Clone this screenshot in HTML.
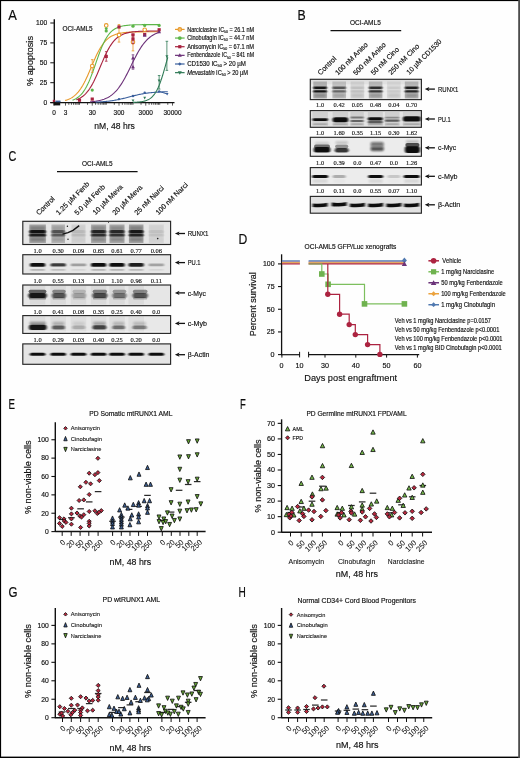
<!DOCTYPE html>
<html><head><meta charset="utf-8"><style>
html,body{margin:0;padding:0;background:#fefefe;}
svg{display:block;}
text{-webkit-font-smoothing:antialiased;}

</style></head><body>
<svg width="520" height="758" viewBox="0 0 520 758" style="opacity:0.999">
<rect x="0" y="0" width="520" height="758" fill="#fefefe"/>
<text x="8.2" y="19.6" font-size="13.8" font-family='"Liberation Sans", sans-serif' fill="#0c0c0c" stroke="#0c0c0c" stroke-width="0.16" textLength="8.6" lengthAdjust="spacingAndGlyphs">A</text>
<text x="297.4" y="19.5" font-size="13.8" font-family='"Liberation Sans", sans-serif' fill="#0c0c0c" stroke="#0c0c0c" stroke-width="0.16" textLength="8.2" lengthAdjust="spacingAndGlyphs">B</text>
<text x="8.6" y="160.5" font-size="13.8" font-family='"Liberation Sans", sans-serif' fill="#0c0c0c" stroke="#0c0c0c" stroke-width="0.16" textLength="7.8" lengthAdjust="spacingAndGlyphs">C</text>
<text x="238.6" y="243.5" font-size="13.8" font-family='"Liberation Sans", sans-serif' fill="#0c0c0c" stroke="#0c0c0c" stroke-width="0.16" textLength="8.8" lengthAdjust="spacingAndGlyphs">D</text>
<text x="8.6" y="409.0" font-size="13.8" font-family='"Liberation Sans", sans-serif' fill="#0c0c0c" stroke="#0c0c0c" stroke-width="0.16" textLength="6.5" lengthAdjust="spacingAndGlyphs">E</text>
<text x="240" y="408.8" font-size="13.8" font-family='"Liberation Sans", sans-serif' fill="#0c0c0c" stroke="#0c0c0c" stroke-width="0.16" textLength="5.8" lengthAdjust="spacingAndGlyphs">F</text>
<text x="8.6" y="597" font-size="13.8" font-family='"Liberation Sans", sans-serif' fill="#0c0c0c" stroke="#0c0c0c" stroke-width="0.16" textLength="9" lengthAdjust="spacingAndGlyphs">G</text>
<text x="238.6" y="596.7" font-size="13.8" font-family='"Liberation Sans", sans-serif' fill="#0c0c0c" stroke="#0c0c0c" stroke-width="0.16" textLength="7.3" lengthAdjust="spacingAndGlyphs">H</text>
<line x1="54.3" y1="19.3" x2="54.3" y2="103.3" stroke="#111" stroke-width="1.4"/>
<line x1="50.3" y1="102.6" x2="174.5" y2="102.6" stroke="#111" stroke-width="1.45"/>
<line x1="50.3" y1="102.6" x2="54" y2="102.6" stroke="#111" stroke-width="1"/>
<line x1="50.3" y1="82.69999999999999" x2="54" y2="82.69999999999999" stroke="#111" stroke-width="1"/>
<line x1="50.3" y1="62.79999999999999" x2="54" y2="62.79999999999999" stroke="#111" stroke-width="1"/>
<line x1="50.3" y1="42.89999999999999" x2="54" y2="42.89999999999999" stroke="#111" stroke-width="1"/>
<line x1="50.3" y1="22.999999999999986" x2="54" y2="22.999999999999986" stroke="#111" stroke-width="1"/>
<text x="47.2" y="25.399999999999984" font-size="6.9" font-family='"Liberation Sans", sans-serif' fill="#111" stroke="#111" stroke-width="0.16" text-anchor="end" textLength="11.200000000000003" lengthAdjust="spacingAndGlyphs">100</text>
<text x="47.2" y="45.29999999999999" font-size="6.9" font-family='"Liberation Sans", sans-serif' fill="#111" stroke="#111" stroke-width="0.16" text-anchor="end" textLength="7.5" lengthAdjust="spacingAndGlyphs">75</text>
<text x="47.2" y="65.19999999999999" font-size="6.9" font-family='"Liberation Sans", sans-serif' fill="#111" stroke="#111" stroke-width="0.16" text-anchor="end" textLength="7.5" lengthAdjust="spacingAndGlyphs">50</text>
<text x="47.2" y="85.1" font-size="6.9" font-family='"Liberation Sans", sans-serif' fill="#111" stroke="#111" stroke-width="0.16" text-anchor="end" textLength="7.5" lengthAdjust="spacingAndGlyphs">25</text>
<text x="47.2" y="105.0" font-size="6.9" font-family='"Liberation Sans", sans-serif' fill="#111" stroke="#111" stroke-width="0.16" text-anchor="end" textLength="3.700000000000003" lengthAdjust="spacingAndGlyphs">0</text>
<line x1="65.5" y1="102.6" x2="65.5" y2="105.6" stroke="#111" stroke-width="0.7"/>
<line x1="68.84211120427203" y1="102.6" x2="68.84211120427203" y2="104.8" stroke="#111" stroke-width="0.7"/>
<line x1="71.43445405223753" y1="102.6" x2="71.43445405223753" y2="104.8" stroke="#111" stroke-width="0.7"/>
<line x1="73.55255238401149" y1="102.6" x2="73.55255238401149" y2="104.8" stroke="#111" stroke-width="0.7"/>
<line x1="75.3433790066304" y1="102.6" x2="75.3433790066304" y2="104.8" stroke="#111" stroke-width="0.7"/>
<line x1="76.89466358828352" y1="102.6" x2="76.89466358828352" y2="104.8" stroke="#111" stroke-width="0.7"/>
<line x1="78.26299356375097" y1="102.6" x2="78.26299356375097" y2="104.8" stroke="#111" stroke-width="0.7"/>
<line x1="79.48700643624903" y1="102.6" x2="79.48700643624903" y2="104.8" stroke="#111" stroke-width="0.7"/>
<line x1="87.53955882026052" y1="102.6" x2="87.53955882026052" y2="104.8" stroke="#111" stroke-width="0.7"/>
<line x1="92.25" y1="102.6" x2="92.25" y2="105.6" stroke="#111" stroke-width="0.7"/>
<line x1="95.59211120427202" y1="102.6" x2="95.59211120427202" y2="104.8" stroke="#111" stroke-width="0.7"/>
<line x1="98.18445405223753" y1="102.6" x2="98.18445405223753" y2="104.8" stroke="#111" stroke-width="0.7"/>
<line x1="100.3025523840115" y1="102.6" x2="100.3025523840115" y2="104.8" stroke="#111" stroke-width="0.7"/>
<line x1="102.0933790066304" y1="102.6" x2="102.0933790066304" y2="104.8" stroke="#111" stroke-width="0.7"/>
<line x1="103.64466358828352" y1="102.6" x2="103.64466358828352" y2="104.8" stroke="#111" stroke-width="0.7"/>
<line x1="105.01299356375097" y1="102.6" x2="105.01299356375097" y2="104.8" stroke="#111" stroke-width="0.7"/>
<line x1="106.23700643624903" y1="102.6" x2="106.23700643624903" y2="104.8" stroke="#111" stroke-width="0.7"/>
<line x1="114.28955882026054" y1="102.6" x2="114.28955882026054" y2="104.8" stroke="#111" stroke-width="0.7"/>
<line x1="119.0" y1="102.6" x2="119.0" y2="105.6" stroke="#111" stroke-width="0.7"/>
<line x1="122.34211120427202" y1="102.6" x2="122.34211120427202" y2="104.8" stroke="#111" stroke-width="0.7"/>
<line x1="124.93445405223753" y1="102.6" x2="124.93445405223753" y2="104.8" stroke="#111" stroke-width="0.7"/>
<line x1="127.0525523840115" y1="102.6" x2="127.0525523840115" y2="104.8" stroke="#111" stroke-width="0.7"/>
<line x1="128.8433790066304" y1="102.6" x2="128.8433790066304" y2="104.8" stroke="#111" stroke-width="0.7"/>
<line x1="130.39466358828352" y1="102.6" x2="130.39466358828352" y2="104.8" stroke="#111" stroke-width="0.7"/>
<line x1="131.76299356375097" y1="102.6" x2="131.76299356375097" y2="104.8" stroke="#111" stroke-width="0.7"/>
<line x1="132.98700643624903" y1="102.6" x2="132.98700643624903" y2="104.8" stroke="#111" stroke-width="0.7"/>
<line x1="141.03955882026054" y1="102.6" x2="141.03955882026054" y2="104.8" stroke="#111" stroke-width="0.7"/>
<line x1="145.75" y1="102.6" x2="145.75" y2="105.6" stroke="#111" stroke-width="0.7"/>
<line x1="149.09211120427202" y1="102.6" x2="149.09211120427202" y2="104.8" stroke="#111" stroke-width="0.7"/>
<line x1="151.68445405223753" y1="102.6" x2="151.68445405223753" y2="104.8" stroke="#111" stroke-width="0.7"/>
<line x1="153.8025523840115" y1="102.6" x2="153.8025523840115" y2="104.8" stroke="#111" stroke-width="0.7"/>
<line x1="155.5933790066304" y1="102.6" x2="155.5933790066304" y2="104.8" stroke="#111" stroke-width="0.7"/>
<line x1="157.14466358828352" y1="102.6" x2="157.14466358828352" y2="104.8" stroke="#111" stroke-width="0.7"/>
<line x1="158.51299356375097" y1="102.6" x2="158.51299356375097" y2="104.8" stroke="#111" stroke-width="0.7"/>
<line x1="159.73700643624903" y1="102.6" x2="159.73700643624903" y2="104.8" stroke="#111" stroke-width="0.7"/>
<line x1="167.78955882026054" y1="102.6" x2="167.78955882026054" y2="104.8" stroke="#111" stroke-width="0.7"/>
<line x1="172.5" y1="102.6" x2="172.5" y2="105.6" stroke="#111" stroke-width="0.7"/>
<line x1="54" y1="102.6" x2="54" y2="105.6" stroke="#111" stroke-width="0.8"/>
<text x="54.0" y="115.4" font-size="7.0" font-family='"Liberation Sans", sans-serif' fill="#111" stroke="#111" stroke-width="0.16" text-anchor="middle" textLength="3.6" lengthAdjust="spacingAndGlyphs">0</text>
<text x="65.5" y="115.4" font-size="7.0" font-family='"Liberation Sans", sans-serif' fill="#111" stroke="#111" stroke-width="0.16" text-anchor="middle" textLength="3.6" lengthAdjust="spacingAndGlyphs">3</text>
<text x="92.25" y="115.4" font-size="7.0" font-family='"Liberation Sans", sans-serif' fill="#111" stroke="#111" stroke-width="0.16" text-anchor="middle" textLength="7.2" lengthAdjust="spacingAndGlyphs">30</text>
<text x="119.0" y="115.4" font-size="7.0" font-family='"Liberation Sans", sans-serif' fill="#111" stroke="#111" stroke-width="0.16" text-anchor="middle" textLength="10.8" lengthAdjust="spacingAndGlyphs">300</text>
<text x="145.75" y="115.4" font-size="7.0" font-family='"Liberation Sans", sans-serif' fill="#111" stroke="#111" stroke-width="0.16" text-anchor="middle" textLength="14.4" lengthAdjust="spacingAndGlyphs">3000</text>
<text x="172.5" y="115.4" font-size="7.0" font-family='"Liberation Sans", sans-serif' fill="#111" stroke="#111" stroke-width="0.16" text-anchor="middle" textLength="18" lengthAdjust="spacingAndGlyphs">30000</text>
<text x="114.6" y="129.2" font-size="9.2" font-family='"Liberation Sans", sans-serif' fill="#111" stroke="#111" stroke-width="0.16" text-anchor="middle" textLength="40.5" lengthAdjust="spacingAndGlyphs">nM, 48 hrs</text>
<text x="33.0" y="61.0" font-size="8.6" font-family='"Liberation Sans", sans-serif' fill="#111" stroke="#111" stroke-width="0.16" text-anchor="middle" textLength="50" lengthAdjust="spacingAndGlyphs" transform="rotate(-90 33.0 61.0)">% apoptosis</text>
<text x="62.4" y="30.8" font-size="6.6" font-family='"Liberation Sans", sans-serif' fill="#111" stroke="#111" stroke-width="0.16" textLength="30.3" lengthAdjust="spacingAndGlyphs">OCI-AML5</text>
<path d="M65.11 100.50 L66.29 100.15 L67.47 99.75 L68.65 99.28 L69.84 98.75 L71.02 98.13 L72.20 97.42 L73.39 96.61 L74.57 95.69 L75.75 94.64 L76.94 93.45 L78.12 92.12 L79.30 90.63 L80.48 88.98 L81.67 87.15 L82.85 85.16 L84.03 83.01 L85.22 80.69 L86.40 78.24 L87.58 75.65 L88.76 72.97 L89.95 70.22 L91.13 67.44 L92.31 64.65 L93.50 61.89 L94.68 59.19 L95.86 56.59 L97.04 54.11 L98.23 51.77 L99.41 49.58 L100.59 47.56 L101.78 45.71 L102.96 44.02 L104.14 42.50 L105.32 41.14 L106.51 39.93 L107.69 38.86 L108.87 37.91 L110.06 37.08 L111.24 36.35 L112.42 35.72 L113.60 35.17 L114.79 34.69 L115.97 34.28 L117.15 33.92 L118.34 33.61 L119.52 33.35 L120.70 33.12 L121.88 32.92 L123.07 32.76 L124.25 32.61 L125.43 32.49 L126.62 32.38 L127.80 32.29 L128.98 32.21 L130.16 32.15 L131.35 32.09 L132.53 32.04 L133.71 32.00 L134.90 31.96 L136.08 31.93 L137.26 31.91 L138.45 31.89 L139.63 31.87 L140.81 31.85 L141.99 31.84 L143.18 31.83 L144.36 31.82 L145.54 31.81 L146.73 31.80 L147.91 31.79 L149.09 31.79 L150.27 31.78 L151.46 31.78 L152.64 31.78 L153.82 31.77 L155.01 31.77 L156.19 31.77 L157.37 31.77 L158.55 31.76 L159.74 31.76" stroke="#e8992a" stroke-width="1.1" fill="none"/>
<path d="M72.54 100.14 L73.63 99.73 L74.72 99.25 L75.81 98.69 L76.90 98.04 L77.99 97.30 L79.08 96.44 L80.17 95.47 L81.26 94.35 L82.35 93.08 L83.44 91.65 L84.53 90.04 L85.62 88.24 L86.71 86.25 L87.80 84.07 L88.89 81.70 L89.98 79.14 L91.07 76.41 L92.16 73.53 L93.25 70.53 L94.34 67.45 L95.43 64.31 L96.52 61.17 L97.61 58.06 L98.70 55.01 L99.79 52.08 L100.88 49.28 L101.97 46.64 L103.06 44.18 L104.15 41.91 L105.24 39.83 L106.33 37.95 L107.42 36.26 L108.51 34.74 L109.60 33.40 L110.69 32.22 L111.78 31.18 L112.87 30.27 L113.96 29.47 L115.05 28.79 L116.14 28.19 L117.23 27.67 L118.32 27.23 L119.41 26.85 L120.50 26.52 L121.59 26.24 L122.68 26.00 L123.77 25.79 L124.86 25.62 L125.95 25.46 L127.04 25.34 L128.13 25.23 L129.22 25.13 L130.31 25.05 L131.40 24.98 L132.49 24.93 L133.58 24.88 L134.67 24.83 L135.76 24.80 L136.85 24.77 L137.94 24.74 L139.03 24.72 L140.12 24.70 L141.21 24.68 L142.30 24.67 L143.39 24.66 L144.48 24.65 L145.57 24.64 L146.66 24.63 L147.75 24.63 L148.84 24.62 L149.93 24.62 L151.02 24.61 L152.11 24.61 L153.20 24.61 L154.29 24.61 L155.38 24.60 L156.47 24.60 L157.56 24.60 L158.65 24.60 L159.74 24.60" stroke="#5cb548" stroke-width="1.1" fill="none"/>
<path d="M76.14 99.86 L77.19 99.46 L78.23 99.02 L79.28 98.51 L80.32 97.94 L81.37 97.30 L82.41 96.57 L83.46 95.75 L84.50 94.84 L85.55 93.82 L86.59 92.69 L87.64 91.44 L88.68 90.06 L89.73 88.55 L90.77 86.91 L91.82 85.13 L92.86 83.23 L93.91 81.20 L94.95 79.05 L96.00 76.79 L97.04 74.45 L98.09 72.03 L99.13 69.57 L100.18 67.08 L101.22 64.58 L102.27 62.11 L103.31 59.68 L104.36 57.32 L105.40 55.04 L106.45 52.87 L107.49 50.81 L108.54 48.87 L109.58 47.06 L110.63 45.39 L111.67 43.85 L112.72 42.44 L113.76 41.16 L114.81 40.00 L115.85 38.95 L116.90 38.02 L117.94 37.18 L118.99 36.43 L120.03 35.77 L121.08 35.18 L122.12 34.66 L123.17 34.20 L124.21 33.79 L125.26 33.44 L126.30 33.12 L127.35 32.85 L128.39 32.61 L129.43 32.40 L130.48 32.22 L131.52 32.05 L132.57 31.91 L133.61 31.79 L134.66 31.68 L135.70 31.59 L136.75 31.51 L137.79 31.44 L138.84 31.38 L139.88 31.32 L140.93 31.28 L141.97 31.23 L143.02 31.20 L144.06 31.17 L145.11 31.14 L146.15 31.12 L147.20 31.10 L148.24 31.08 L149.29 31.06 L150.33 31.05 L151.38 31.04 L152.42 31.03 L153.47 31.02 L154.51 31.01 L155.56 31.00 L156.60 31.00 L157.65 30.99 L158.69 30.99 L159.74 30.99" stroke="#a8233f" stroke-width="1.1" fill="none"/>
<path d="M90.13 101.85 L91.00 101.77 L91.87 101.69 L92.74 101.60 L93.61 101.50 L94.48 101.39 L95.35 101.26 L96.22 101.13 L97.09 100.98 L97.96 100.82 L98.83 100.65 L99.70 100.45 L100.57 100.24 L101.44 100.01 L102.31 99.75 L103.18 99.47 L104.05 99.17 L104.92 98.84 L105.79 98.47 L106.66 98.08 L107.53 97.65 L108.40 97.18 L109.27 96.67 L110.14 96.11 L111.01 95.51 L111.88 94.87 L112.75 94.17 L113.62 93.41 L114.49 92.60 L115.36 91.73 L116.23 90.80 L117.10 89.80 L117.97 88.74 L118.84 87.61 L119.71 86.42 L120.58 85.16 L121.45 83.83 L122.32 82.44 L123.19 80.99 L124.06 79.48 L124.93 77.91 L125.80 76.29 L126.67 74.63 L127.54 72.93 L128.41 71.19 L129.28 69.44 L130.15 67.66 L131.02 65.88 L131.89 64.10 L132.77 62.33 L133.64 60.57 L134.51 58.84 L135.38 57.15 L136.25 55.49 L137.12 53.88 L137.99 52.32 L138.86 50.81 L139.73 49.36 L140.60 47.98 L141.47 46.66 L142.34 45.41 L143.21 44.22 L144.08 43.10 L144.95 42.05 L145.82 41.06 L146.69 40.14 L147.56 39.27 L148.43 38.47 L149.30 37.72 L150.17 37.03 L151.04 36.38 L151.91 35.79 L152.78 35.24 L153.65 34.74 L154.52 34.27 L155.39 33.84 L156.26 33.45 L157.13 33.09 L158.00 32.76 L158.87 32.46 L159.74 32.19" stroke="#6c3179" stroke-width="1.1" fill="none"/>
<path d="M95.59 102.14 L96.49 102.10 L97.40 102.06 L98.30 102.01 L99.20 101.97 L100.10 101.91 L101.01 101.85 L101.91 101.79 L102.81 101.73 L103.71 101.66 L104.62 101.58 L105.52 101.50 L106.42 101.41 L107.32 101.31 L108.23 101.21 L109.13 101.11 L110.03 100.99 L110.93 100.87 L111.84 100.74 L112.74 100.61 L113.64 100.46 L114.54 100.31 L115.45 100.15 L116.35 99.99 L117.25 99.81 L118.15 99.63 L119.06 99.44 L119.96 99.24 L120.86 99.04 L121.76 98.83 L122.67 98.61 L123.57 98.39 L124.47 98.17 L125.37 97.94 L126.28 97.70 L127.18 97.47 L128.08 97.23 L128.98 96.99 L129.89 96.75 L130.79 96.52 L131.69 96.28 L132.59 96.05 L133.50 95.82 L134.40 95.60 L135.30 95.38 L136.20 95.16 L137.11 94.95 L138.01 94.75 L138.91 94.56 L139.81 94.37 L140.72 94.19 L141.62 94.02 L142.52 93.85 L143.42 93.70 L144.33 93.55 L145.23 93.40 L146.13 93.27 L147.03 93.15 L147.94 93.03 L148.84 92.91 L149.74 92.81 L150.64 92.71 L151.55 92.62 L152.45 92.53 L153.35 92.45 L154.25 92.38 L155.16 92.31 L156.06 92.24 L156.96 92.18 L157.86 92.13 L158.76 92.08 L159.67 92.03 L160.57 91.98 L161.47 91.94 L162.37 91.90 L163.28 91.87 L164.18 91.84 L165.08 91.81 L165.98 91.78 L166.89 91.75 L167.79 91.73" stroke="#3a5f9c" stroke-width="1.1" fill="none"/>
<path d="M132.99 102.41 L133.42 102.39 L133.86 102.37 L134.29 102.35 L134.73 102.33 L135.16 102.31 L135.60 102.29 L136.03 102.26 L136.47 102.24 L136.90 102.21 L137.34 102.17 L137.77 102.14 L138.21 102.10 L138.64 102.06 L139.08 102.02 L139.51 101.97 L139.95 101.92 L140.38 101.86 L140.82 101.80 L141.25 101.74 L141.69 101.67 L142.12 101.59 L142.56 101.51 L142.99 101.43 L143.43 101.33 L143.86 101.23 L144.30 101.12 L144.73 101.00 L145.17 100.87 L145.60 100.74 L146.04 100.59 L146.47 100.43 L146.91 100.25 L147.34 100.07 L147.78 99.87 L148.21 99.65 L148.65 99.42 L149.08 99.17 L149.52 98.90 L149.95 98.62 L150.39 98.31 L150.82 97.98 L151.26 97.62 L151.69 97.24 L152.13 96.84 L152.56 96.40 L153.00 95.94 L153.43 95.44 L153.87 94.91 L154.30 94.35 L154.74 93.75 L155.17 93.11 L155.61 92.44 L156.04 91.72 L156.48 90.96 L156.91 90.15 L157.35 89.31 L157.78 88.41 L158.22 87.47 L158.65 86.48 L159.09 85.45 L159.52 84.37 L159.96 83.24 L160.39 82.06 L160.83 80.84 L161.26 79.58 L161.70 78.27 L162.13 76.92 L162.57 75.54 L163.00 74.11 L163.44 72.66 L163.87 71.18 L164.31 69.67 L164.74 68.14 L165.18 66.60 L165.61 65.04 L166.05 63.48 L166.48 61.91 L166.92 60.35 L167.35 58.80 L167.79 57.26" stroke="#2f7a56" stroke-width="1.1" fill="none"/>
<line x1="92.25" y1="72.35199999999999" x2="92.25" y2="59.61599999999999" stroke="#e8992a" stroke-width="0.8"/>
<line x1="90.95" y1="72.35199999999999" x2="93.55" y2="72.35199999999999" stroke="#e8992a" stroke-width="0.8"/>
<line x1="90.95" y1="59.61599999999999" x2="93.55" y2="59.61599999999999" stroke="#e8992a" stroke-width="0.8"/>
<circle cx="92.25" cy="65.984" r="1.8" fill="#fff" stroke="#e8992a" stroke-width="1.1"/>
<circle cx="106.23700643624903" cy="25.38799999999999" r="1.8" fill="#fff" stroke="#e8992a" stroke-width="1.1"/>
<line x1="119.0" y1="42.10399999999999" x2="119.0" y2="24.591999999999985" stroke="#e8992a" stroke-width="0.8"/>
<line x1="117.7" y1="42.10399999999999" x2="120.3" y2="42.10399999999999" stroke="#e8992a" stroke-width="0.8"/>
<line x1="117.7" y1="24.591999999999985" x2="120.3" y2="24.591999999999985" stroke="#e8992a" stroke-width="0.8"/>
<circle cx="119.0" cy="34.94" r="1.8" fill="#fff" stroke="#e8992a" stroke-width="1.1"/>
<line x1="132.98700643624903" y1="50.85999999999999" x2="132.98700643624903" y2="34.94" stroke="#e8992a" stroke-width="0.8"/>
<line x1="131.68700643624902" y1="50.85999999999999" x2="134.28700643624904" y2="50.85999999999999" stroke="#e8992a" stroke-width="0.8"/>
<line x1="131.68700643624902" y1="34.94" x2="134.28700643624904" y2="34.94" stroke="#e8992a" stroke-width="0.8"/>
<circle cx="132.98700643624903" cy="42.10399999999999" r="1.8" fill="#fff" stroke="#e8992a" stroke-width="1.1"/>
<circle cx="144.6968339916944" cy="29.76599999999999" r="1.8" fill="#fff" stroke="#e8992a" stroke-width="1.1"/>
<circle cx="92.25" cy="90.1028" r="1.6" fill="#5cb548"/>
<circle cx="106.23700643624903" cy="30.959999999999994" r="1.6" fill="#5cb548"/>
<circle cx="106.23700643624903" cy="28.57199999999999" r="1.4" fill="#5cb548"/>
<circle cx="132.98700643624903" cy="26.183999999999997" r="1.6" fill="#5cb548"/>
<circle cx="144.6968339916944" cy="25.38799999999999" r="1.6" fill="#5cb548"/>
<circle cx="159.14111287772573" cy="25.38799999999999" r="1.6" fill="#5cb548"/>
<rect x="77.88700643624904" y="98.612" width="3.2" height="3.2" fill="#a8233f"/>
<rect x="90.65" y="97.4976" width="3.2" height="3.2" fill="#a8233f"/>
<line x1="106.23700643624903" y1="61.20799999999999" x2="106.23700643624903" y2="51.65599999999999" stroke="#a8233f" stroke-width="0.8"/>
<line x1="104.93700643624904" y1="61.20799999999999" x2="107.53700643624903" y2="61.20799999999999" stroke="#a8233f" stroke-width="0.8"/>
<line x1="104.93700643624904" y1="51.65599999999999" x2="107.53700643624903" y2="51.65599999999999" stroke="#a8233f" stroke-width="0.8"/>
<rect x="104.63700643624904" y="54.831999999999994" width="3.2" height="3.2" fill="#a8233f"/>
<rect x="117.4" y="25.37999999999999" width="3.2" height="3.2" fill="#a8233f"/>
<line x1="132.98700643624903" y1="43.69599999999999" x2="132.98700643624903" y2="34.14399999999999" stroke="#a8233f" stroke-width="0.8"/>
<line x1="131.68700643624902" y1="43.69599999999999" x2="134.28700643624904" y2="43.69599999999999" stroke="#a8233f" stroke-width="0.8"/>
<line x1="131.68700643624902" y1="34.14399999999999" x2="134.28700643624904" y2="34.14399999999999" stroke="#a8233f" stroke-width="0.8"/>
<rect x="131.38700643624904" y="37.319999999999986" width="3.2" height="3.2" fill="#a8233f"/>
<rect x="131.38700643624904" y="33.339999999999996" width="3.2" height="3.2" fill="#a8233f"/>
<rect x="143.0968339916944" y="32.8624" width="3.2" height="3.2" fill="#a8233f"/>
<rect x="157.54111287772574" y="28.16599999999999" width="3.2" height="3.2" fill="#a8233f"/>
<rect x="52.8" y="99.80799999999999" width="2.4" height="2.4" fill="#a8233f"/>
<line x1="132.98700643624903" y1="69.16799999999999" x2="132.98700643624903" y2="54.83999999999999" stroke="#6c3179" stroke-width="0.8"/>
<line x1="131.68700643624902" y1="69.16799999999999" x2="134.28700643624904" y2="69.16799999999999" stroke="#6c3179" stroke-width="0.8"/>
<line x1="131.68700643624902" y1="54.83999999999999" x2="134.28700643624904" y2="54.83999999999999" stroke="#6c3179" stroke-width="0.8"/>
<path d="M132.98700643624903 56.123999999999995L134.88700643624904 59.544L131.08700643624903 59.544Z" stroke="none" stroke-width="0" fill="#6c3179"/>
<path d="M132.98700643624903 64.88L134.88700643624904 68.3L131.08700643624903 68.3Z" stroke="none" stroke-width="0" fill="#6c3179"/>
<path d="M144.6968339916944 33.2788L146.5968339916944 36.6988L142.7968339916944 36.6988Z" stroke="none" stroke-width="0" fill="#6c3179"/>
<path d="M159.14111287772573 29.855999999999987L161.04111287772574 33.27599999999999L157.24111287772573 33.27599999999999Z" stroke="none" stroke-width="0" fill="#6c3179"/>
<circle cx="119.0" cy="99.0976" r="1.2" fill="#3a5f9c"/>
<circle cx="132.98700643624903" cy="95.99319999999999" r="1.2" fill="#3a5f9c"/>
<circle cx="144.6968339916944" cy="92.64999999999999" r="1.2" fill="#3a5f9c"/>
<circle cx="159.14111287772573" cy="91.37639999999999" r="1.2" fill="#3a5f9c"/>
<path d="M167.1936652617372 95.4032L168.59366526173721 92.88319999999999L165.7936652617372 92.88319999999999Z" stroke="none" stroke-width="0" fill="#3a5f9c"/>
<line x1="159.14111287772573" y1="91.37639999999999" x2="167.1936652617372" y2="94.00319999999999" stroke="#3a5f9c" stroke-width="1.0"/>
<path d="M132.98700643624903 101.9304L134.38700643624904 99.4104L131.58700643624903 99.4104Z" stroke="none" stroke-width="0" fill="#2f7a56"/>
<path d="M144.6968339916944 99.3832L146.0968339916944 96.86319999999999L143.2968339916944 96.86319999999999Z" stroke="none" stroke-width="0" fill="#2f7a56"/>
<line x1="159.14111287772573" y1="89.068" x2="159.14111287772573" y2="75.536" stroke="#2f7a56" stroke-width="0.8"/>
<line x1="157.84111287772572" y1="89.068" x2="160.44111287772574" y2="89.068" stroke="#2f7a56" stroke-width="0.8"/>
<line x1="157.84111287772572" y1="75.536" x2="160.44111287772574" y2="75.536" stroke="#2f7a56" stroke-width="0.8"/>
<path d="M159.14111287772573 82.21L160.64111287772573 79.50999999999999L157.64111287772573 79.50999999999999Z" stroke="none" stroke-width="0" fill="#2f7a56"/>
<line x1="166.88385017102965" y1="70.362" x2="166.88385017102965" y2="41.30799999999999" stroke="#2f7a56" stroke-width="0.8"/>
<line x1="165.58385017102964" y1="70.362" x2="168.18385017102966" y2="70.362" stroke="#2f7a56" stroke-width="0.8"/>
<line x1="165.58385017102964" y1="41.30799999999999" x2="168.18385017102966" y2="41.30799999999999" stroke="#2f7a56" stroke-width="0.8"/>
<path d="M166.88385017102965 58.011599999999994L168.38385017102965 55.31159999999999L165.38385017102965 55.31159999999999Z" stroke="none" stroke-width="0" fill="#2f7a56"/>
<rect x="53.6" y="101.8" width="6.6" height="3.6" fill="#111"/>
<rect x="55.5" y="100.6" width="5" height="1.6" fill="#3a5f9c"/>
<line x1="175" y1="29.4" x2="184.6" y2="29.4" stroke="#e8992a" stroke-width="1.2"/>
<circle cx="179.8" cy="29.4" r="1.8" fill="#f3c27a" stroke="#e8992a" stroke-width="1.1"/>
<text x="187.2" y="31.5" font-size="6.4" font-family='"Liberation Sans", sans-serif' fill="#111" stroke="#111" stroke-width="0.16" textLength="66.80000000000001" lengthAdjust="spacingAndGlyphs"><tspan>Narciclasine</tspan> IC<tspan font-size="4" dy="1.2">50</tspan><tspan dy="-1.2"> = 26.1 nM</tspan></text>
<line x1="175" y1="38.05" x2="184.6" y2="38.05" stroke="#5cb548" stroke-width="1.2"/>
<circle cx="179.8" cy="38.05" r="1.9" fill="#5cb548"/>
<text x="187.2" y="40.15" font-size="6.4" font-family='"Liberation Sans", sans-serif' fill="#111" stroke="#111" stroke-width="0.16" textLength="66.80000000000001" lengthAdjust="spacingAndGlyphs"><tspan>Cinobufagin</tspan> IC<tspan font-size="4" dy="1.2">50</tspan><tspan dy="-1.2"> = 44.7 nM</tspan></text>
<line x1="175" y1="46.7" x2="184.6" y2="46.7" stroke="#a8233f" stroke-width="1.2"/>
<rect x="178.2" y="45.1" width="3.2" height="3.2" fill="#a8233f"/>
<text x="187.2" y="48.800000000000004" font-size="6.4" font-family='"Liberation Sans", sans-serif' fill="#111" stroke="#111" stroke-width="0.16" textLength="66.80000000000001" lengthAdjust="spacingAndGlyphs"><tspan>Anisomycin</tspan> IC<tspan font-size="4" dy="1.2">50</tspan><tspan dy="-1.2"> = 67.1 nM</tspan></text>
<line x1="175" y1="55.35" x2="184.6" y2="55.35" stroke="#6c3179" stroke-width="1.2"/>
<path d="M179.8 53.35L181.8 56.85L177.8 56.85Z" stroke="none" stroke-width="0" fill="#6c3179"/>
<text x="187.2" y="57.45" font-size="6.4" font-family='"Liberation Sans", sans-serif' fill="#111" stroke="#111" stroke-width="0.16" textLength="66.80000000000001" lengthAdjust="spacingAndGlyphs"><tspan>Fenbendazole</tspan> IC<tspan font-size="4" dy="1.2">50</tspan><tspan dy="-1.2"> = 841 nM</tspan></text>
<line x1="175" y1="64.0" x2="184.6" y2="64.0" stroke="#3a5f9c" stroke-width="1.2"/>
<path d="M179.8 62.3L181.5 64.0L179.8 65.7L178.1 64.0Z" stroke="none" stroke-width="0" fill="#3a5f9c"/>
<text x="187.2" y="66.1" font-size="6.4" font-family='"Liberation Sans", sans-serif' fill="#111" stroke="#111" stroke-width="0.16" textLength="58.80000000000001" lengthAdjust="spacingAndGlyphs"><tspan>CD1530</tspan> IC<tspan font-size="4" dy="1.2">50</tspan><tspan dy="-1.2"> > 20 µM</tspan></text>
<line x1="175" y1="72.65" x2="184.6" y2="72.65" stroke="#2f7a56" stroke-width="1.2"/>
<path d="M179.8 74.65L181.8 71.15L177.8 71.15Z" stroke="none" stroke-width="0" fill="#2f7a56"/>
<text x="187.2" y="74.75" font-size="6.4" font-family='"Liberation Sans", sans-serif' fill="#111" stroke="#111" stroke-width="0.16" textLength="60.80000000000001" lengthAdjust="spacingAndGlyphs"><tspan font-style="italic">Mevastatin</tspan> IC<tspan font-size="4" dy="1.2">50</tspan><tspan dy="-1.2"> > 20 µM</tspan></text>
<defs><filter id="bl" x="-20%" y="-80%" width="140%" height="260%"><feGaussianBlur stdDeviation="0.6"/></filter><filter id="bl2" x="-20%" y="-80%" width="140%" height="260%"><feGaussianBlur stdDeviation="1.1"/></filter><filter id="bl3" x="-30%" y="-80%" width="160%" height="260%"><feGaussianBlur stdDeviation="0.9 0.5"/></filter></defs>
<text x="350.0" y="25.0" font-size="7.3" font-family='"Liberation Sans", sans-serif' fill="#111" stroke="#111" stroke-width="0.16" textLength="30.8" lengthAdjust="spacingAndGlyphs">OCI-AML5</text>
<line x1="330.5" y1="30.6" x2="401.2" y2="30.6" stroke="#111" stroke-width="1.1"/>
<text x="320.6" y="75.4" font-size="7.1" font-family='"Liberation Sans", sans-serif' fill="#111" stroke="#111" stroke-width="0.16" transform="rotate(-45 320.6 75.4)">Control</text>
<text x="338.0" y="75.5" font-size="7.1" font-family='"Liberation Sans", sans-serif' fill="#111" stroke="#111" stroke-width="0.16" transform="rotate(-45 338.0 75.5)">100 nM Aniso</text>
<text x="356.0" y="75.7" font-size="7.1" font-family='"Liberation Sans", sans-serif' fill="#111" stroke="#111" stroke-width="0.16" transform="rotate(-45 356.0 75.7)">500 nM Aniso</text>
<text x="373.8" y="75.5" font-size="7.1" font-family='"Liberation Sans", sans-serif' fill="#111" stroke="#111" stroke-width="0.16" transform="rotate(-45 373.8 75.5)">50 nM Cino</text>
<text x="391.3" y="75.2" font-size="7.1" font-family='"Liberation Sans", sans-serif' fill="#111" stroke="#111" stroke-width="0.16" transform="rotate(-45 391.3 75.2)">250 nM Cino</text>
<text x="409.2" y="74.9" font-size="7.1" font-family='"Liberation Sans", sans-serif' fill="#111" stroke="#111" stroke-width="0.16" textLength="46.5" lengthAdjust="spacingAndGlyphs" transform="rotate(-45 409.2 74.9)">10 µM CD1530</text>
<rect x="310.3" y="79.3" width="111.09999999999997" height="20.299999999999997" fill="#ececec"/>
<rect x="310.3" y="79.3" width="111.09999999999997" height="5" fill="#d8d8d8" opacity="0.6"/>
<rect x="313.30" y="81.50" width="13.60" height="16.90" fill="#8a8a8a" opacity="0.600" filter="url(#bl)"/>
<rect x="313.30" y="86.45" width="13.60" height="2.50" rx="1.25" fill="#0e0e0e" opacity="0.950" filter="url(#bl3)"/>
<rect x="313.30" y="90.20" width="13.60" height="2.40" rx="1.20" fill="#0e0e0e" opacity="0.950" filter="url(#bl3)"/>
<rect x="313.85" y="93.75" width="12.50" height="3.50" rx="1.75" fill="#0e0e0e" opacity="0.242" filter="url(#bl2)"/>
<rect x="332.40" y="81.50" width="13.60" height="16.90" fill="#8a8a8a" opacity="0.420" filter="url(#bl)"/>
<rect x="332.40" y="86.45" width="13.60" height="2.50" rx="1.25" fill="#0e0e0e" opacity="0.600" filter="url(#bl3)"/>
<rect x="332.40" y="90.20" width="13.60" height="2.40" rx="1.20" fill="#0e0e0e" opacity="0.500" filter="url(#bl3)"/>
<rect x="332.95" y="93.75" width="12.50" height="3.50" rx="1.75" fill="#0e0e0e" opacity="0.190" filter="url(#bl2)"/>
<rect x="350.60" y="81.50" width="13.60" height="16.90" fill="#8a8a8a" opacity="0.220" filter="url(#bl)"/>
<rect x="350.60" y="86.45" width="13.60" height="2.50" rx="1.25" fill="#0e0e0e" opacity="0.100" filter="url(#bl3)"/>
<rect x="350.60" y="90.20" width="13.60" height="2.40" rx="1.20" fill="#0e0e0e" opacity="0.100" filter="url(#bl3)"/>
<rect x="351.15" y="93.75" width="12.50" height="3.50" rx="1.75" fill="#0e0e0e" opacity="0.115" filter="url(#bl2)"/>
<rect x="368.80" y="81.50" width="13.60" height="16.90" fill="#8a8a8a" opacity="0.500" filter="url(#bl)"/>
<rect x="368.80" y="86.45" width="13.60" height="2.50" rx="1.25" fill="#0e0e0e" opacity="0.800" filter="url(#bl3)"/>
<rect x="368.80" y="90.20" width="13.60" height="2.40" rx="1.20" fill="#0e0e0e" opacity="0.750" filter="url(#bl3)"/>
<rect x="369.35" y="93.75" width="12.50" height="3.50" rx="1.75" fill="#0e0e0e" opacity="0.220" filter="url(#bl2)"/>
<rect x="387.10" y="81.50" width="13.60" height="16.90" fill="#8a8a8a" opacity="0.180" filter="url(#bl)"/>
<rect x="387.10" y="86.45" width="13.60" height="2.50" rx="1.25" fill="#0e0e0e" opacity="0.070" filter="url(#bl3)"/>
<rect x="387.10" y="90.20" width="13.60" height="2.40" rx="1.20" fill="#0e0e0e" opacity="0.070" filter="url(#bl3)"/>
<rect x="387.65" y="93.75" width="12.50" height="3.50" rx="1.75" fill="#0e0e0e" opacity="0.111" filter="url(#bl2)"/>
<rect x="404.80" y="81.50" width="13.60" height="16.90" fill="#8a8a8a" opacity="0.550" filter="url(#bl)"/>
<rect x="404.80" y="86.45" width="13.60" height="2.50" rx="1.25" fill="#0e0e0e" opacity="0.900" filter="url(#bl3)"/>
<rect x="404.80" y="90.20" width="13.60" height="2.40" rx="1.20" fill="#0e0e0e" opacity="0.850" filter="url(#bl3)"/>
<rect x="405.35" y="93.75" width="12.50" height="3.50" rx="1.75" fill="#0e0e0e" opacity="0.235" filter="url(#bl2)"/>
<text x="320.1" y="107.39999999999999" font-size="6.9" font-family='"Liberation Serif", serif' fill="#1a1a1a" stroke="#1a1a1a" stroke-width="0.16" text-anchor="middle" textLength="8.1" lengthAdjust="spacingAndGlyphs">1.0</text>
<text x="339.2" y="107.39999999999999" font-size="6.9" font-family='"Liberation Serif", serif' fill="#1a1a1a" stroke="#1a1a1a" stroke-width="0.16" text-anchor="middle" textLength="11.35" lengthAdjust="spacingAndGlyphs">0.42</text>
<text x="357.4" y="107.39999999999999" font-size="6.9" font-family='"Liberation Serif", serif' fill="#1a1a1a" stroke="#1a1a1a" stroke-width="0.16" text-anchor="middle" textLength="11.35" lengthAdjust="spacingAndGlyphs">0.05</text>
<text x="375.6" y="107.39999999999999" font-size="6.9" font-family='"Liberation Serif", serif' fill="#1a1a1a" stroke="#1a1a1a" stroke-width="0.16" text-anchor="middle" textLength="11.35" lengthAdjust="spacingAndGlyphs">0.48</text>
<text x="393.9" y="107.39999999999999" font-size="6.9" font-family='"Liberation Serif", serif' fill="#1a1a1a" stroke="#1a1a1a" stroke-width="0.16" text-anchor="middle" textLength="11.35" lengthAdjust="spacingAndGlyphs">0.04</text>
<text x="411.6" y="107.39999999999999" font-size="6.9" font-family='"Liberation Serif", serif' fill="#1a1a1a" stroke="#1a1a1a" stroke-width="0.16" text-anchor="middle" textLength="11.35" lengthAdjust="spacingAndGlyphs">0.70</text>
<path d="M424.8 89.1L429.40000000000003 87.0L428.40000000000003 89.1L429.40000000000003 91.19999999999999Z" stroke="none" stroke-width="0" fill="#111"/>
<line x1="428.3" y1="89.1" x2="434.90000000000003" y2="89.1" stroke="#111" stroke-width="1.3"/>
<text x="438" y="91.69999999999999" font-size="7.4" font-family='"Liberation Sans", sans-serif' fill="#111" stroke="#111" stroke-width="0.16" textLength="20.30000000000001" lengthAdjust="spacingAndGlyphs">RUNX1</text>
<rect x="310.3" y="79.3" width="111.09999999999997" height="20.299999999999997" fill="none" stroke="#262626" stroke-width="1.15"/>
<rect x="310.3" y="110.6" width="111.09999999999997" height="16.700000000000003" fill="#e2e2e2"/>
<rect x="312.45" y="112.00" width="15.50" height="14.00" fill="#bdbdbd" opacity="0.500" filter="url(#bl)"/>
<rect x="332.60" y="112.00" width="15.60" height="14.00" fill="#bdbdbd" opacity="0.500" filter="url(#bl)"/>
<rect x="350.40" y="112.00" width="13.40" height="14.00" fill="#bdbdbd" opacity="0.500" filter="url(#bl)"/>
<rect x="367.80" y="112.00" width="15.00" height="14.00" fill="#bdbdbd" opacity="0.500" filter="url(#bl)"/>
<rect x="384.95" y="112.00" width="14.50" height="14.00" fill="#bdbdbd" opacity="0.500" filter="url(#bl)"/>
<rect x="402.90" y="112.00" width="17.80" height="14.00" fill="#bdbdbd" opacity="0.500" filter="url(#bl)"/>
<rect x="312.45" y="118.30" width="15.50" height="2.60" rx="1.30" fill="#0e0e0e" opacity="1.000" filter="url(#bl3)"/>
<rect x="332.60" y="117.20" width="15.60" height="5.00" rx="2.50" fill="#0e0e0e" opacity="1.000" filter="url(#bl3)"/>
<rect x="350.40" y="116.40" width="13.40" height="2.00" rx="1.00" fill="#0e0e0e" opacity="0.450" filter="url(#bl3)"/>
<rect x="350.40" y="119.90" width="13.40" height="2.20" rx="1.10" fill="#0e0e0e" opacity="0.550" filter="url(#bl3)"/>
<rect x="367.80" y="117.20" width="15.00" height="3.20" rx="1.60" fill="#0e0e0e" opacity="1.000" filter="url(#bl3)"/>
<rect x="367.80" y="121.10" width="15.00" height="2.20" rx="1.10" fill="#0e0e0e" opacity="0.600" filter="url(#bl3)"/>
<rect x="384.95" y="116.70" width="14.50" height="1.80" rx="0.90" fill="#0e0e0e" opacity="0.350" filter="url(#bl3)"/>
<rect x="384.95" y="119.40" width="14.50" height="2.40" rx="1.20" fill="#0e0e0e" opacity="0.600" filter="url(#bl3)"/>
<rect x="402.90" y="116.20" width="17.80" height="5.20" rx="2.50" fill="#0e0e0e" opacity="1.000" filter="url(#bl3)"/>
<rect x="312.95" y="123.30" width="14.50" height="1.80" rx="0.90" fill="#0e0e0e" opacity="0.180" filter="url(#bl3)"/>
<rect x="333.10" y="123.30" width="14.60" height="1.80" rx="0.90" fill="#0e0e0e" opacity="0.180" filter="url(#bl3)"/>
<rect x="350.90" y="123.30" width="12.40" height="1.80" rx="0.90" fill="#0e0e0e" opacity="0.180" filter="url(#bl3)"/>
<rect x="368.30" y="123.30" width="14.00" height="1.80" rx="0.90" fill="#0e0e0e" opacity="0.180" filter="url(#bl3)"/>
<rect x="385.45" y="123.30" width="13.50" height="1.80" rx="0.90" fill="#0e0e0e" opacity="0.180" filter="url(#bl3)"/>
<rect x="403.40" y="123.30" width="16.80" height="1.80" rx="0.90" fill="#0e0e0e" opacity="0.180" filter="url(#bl3)"/>
<text x="320.1" y="134.7" font-size="6.9" font-family='"Liberation Serif", serif' fill="#1a1a1a" stroke="#1a1a1a" stroke-width="0.16" text-anchor="middle" textLength="8.1" lengthAdjust="spacingAndGlyphs">1.0</text>
<text x="339.2" y="134.7" font-size="6.9" font-family='"Liberation Serif", serif' fill="#1a1a1a" stroke="#1a1a1a" stroke-width="0.16" text-anchor="middle" textLength="11.35" lengthAdjust="spacingAndGlyphs">1.60</text>
<text x="357.4" y="134.7" font-size="6.9" font-family='"Liberation Serif", serif' fill="#1a1a1a" stroke="#1a1a1a" stroke-width="0.16" text-anchor="middle" textLength="11.35" lengthAdjust="spacingAndGlyphs">0.35</text>
<text x="375.6" y="134.7" font-size="6.9" font-family='"Liberation Serif", serif' fill="#1a1a1a" stroke="#1a1a1a" stroke-width="0.16" text-anchor="middle" textLength="11.35" lengthAdjust="spacingAndGlyphs">1.15</text>
<text x="393.9" y="134.7" font-size="6.9" font-family='"Liberation Serif", serif' fill="#1a1a1a" stroke="#1a1a1a" stroke-width="0.16" text-anchor="middle" textLength="11.35" lengthAdjust="spacingAndGlyphs">0.30</text>
<text x="411.6" y="134.7" font-size="6.9" font-family='"Liberation Serif", serif' fill="#1a1a1a" stroke="#1a1a1a" stroke-width="0.16" text-anchor="middle" textLength="11.35" lengthAdjust="spacingAndGlyphs">1.62</text>
<path d="M424.8 119.0L429.40000000000003 116.9L428.40000000000003 119.0L429.40000000000003 121.1Z" stroke="none" stroke-width="0" fill="#111"/>
<line x1="428.3" y1="119.0" x2="434.90000000000003" y2="119.0" stroke="#111" stroke-width="1.3"/>
<text x="438" y="121.6" font-size="7.4" font-family='"Liberation Sans", sans-serif' fill="#111" stroke="#111" stroke-width="0.16" textLength="12.800000000000011" lengthAdjust="spacingAndGlyphs">PU.1</text>
<rect x="310.3" y="110.6" width="111.09999999999997" height="16.700000000000003" fill="none" stroke="#262626" stroke-width="1.15"/>
<rect x="310.3" y="137.3" width="111.09999999999997" height="19.0" fill="#ececec"/>
<rect x="313.75" y="147.00" width="16.50" height="5.60" rx="2.50" fill="#0e0e0e" opacity="1.000" filter="url(#bl3)"/>
<rect x="314.00" y="144.60" width="16.00" height="4.00" rx="2.00" fill="#0e0e0e" opacity="0.550" filter="url(#bl)"/>
<rect x="314.75" y="142.00" width="14.50" height="3.00" rx="1.50" fill="#0e0e0e" opacity="0.150" filter="url(#bl2)"/>
<rect x="334.80" y="148.00" width="13.80" height="4.60" rx="2.30" fill="#0e0e0e" opacity="0.820" filter="url(#bl3)"/>
<rect x="335.10" y="144.70" width="13.20" height="3.60" rx="1.80" fill="#0e0e0e" opacity="0.400" filter="url(#bl)"/>
<rect x="335.45" y="141.50" width="12.50" height="2.60" rx="1.30" fill="#0e0e0e" opacity="0.220" filter="url(#bl2)"/>
<rect x="370.50" y="142.30" width="13.40" height="3.20" rx="1.60" fill="#0e0e0e" opacity="0.450" filter="url(#bl2)"/>
<rect x="370.50" y="147.20" width="13.40" height="3.60" rx="1.80" fill="#0e0e0e" opacity="0.680" filter="url(#bl2)"/>
<rect x="370.70" y="142.50" width="13.00" height="8.00" rx="2.50" fill="#0e0e0e" opacity="0.280" filter="url(#bl2)"/>
<rect x="404.90" y="146.30" width="15.00" height="6.60" rx="2.50" fill="#0e0e0e" opacity="1.000" filter="url(#bl3)"/>
<rect x="405.30" y="143.00" width="14.20" height="4.00" rx="2.00" fill="#0e0e0e" opacity="0.700" filter="url(#bl)"/>
<rect x="405.90" y="140.50" width="13.00" height="2.60" rx="1.30" fill="#0e0e0e" opacity="0.250" filter="url(#bl2)"/>
<text x="320.1" y="164.5" font-size="6.9" font-family='"Liberation Serif", serif' fill="#1a1a1a" stroke="#1a1a1a" stroke-width="0.16" text-anchor="middle" textLength="8.1" lengthAdjust="spacingAndGlyphs">1.0</text>
<text x="339.2" y="164.5" font-size="6.9" font-family='"Liberation Serif", serif' fill="#1a1a1a" stroke="#1a1a1a" stroke-width="0.16" text-anchor="middle" textLength="11.35" lengthAdjust="spacingAndGlyphs">0.39</text>
<text x="357.4" y="164.5" font-size="6.9" font-family='"Liberation Serif", serif' fill="#1a1a1a" stroke="#1a1a1a" stroke-width="0.16" text-anchor="middle" textLength="8.1" lengthAdjust="spacingAndGlyphs">0.0</text>
<text x="375.6" y="164.5" font-size="6.9" font-family='"Liberation Serif", serif' fill="#1a1a1a" stroke="#1a1a1a" stroke-width="0.16" text-anchor="middle" textLength="11.35" lengthAdjust="spacingAndGlyphs">0.47</text>
<text x="393.9" y="164.5" font-size="6.9" font-family='"Liberation Serif", serif' fill="#1a1a1a" stroke="#1a1a1a" stroke-width="0.16" text-anchor="middle" textLength="8.1" lengthAdjust="spacingAndGlyphs">0.0</text>
<text x="411.6" y="164.5" font-size="6.9" font-family='"Liberation Serif", serif' fill="#1a1a1a" stroke="#1a1a1a" stroke-width="0.16" text-anchor="middle" textLength="11.35" lengthAdjust="spacingAndGlyphs">1.26</text>
<path d="M424.8 147.8L429.40000000000003 145.70000000000002L428.40000000000003 147.8L429.40000000000003 149.9Z" stroke="none" stroke-width="0" fill="#111"/>
<line x1="428.3" y1="147.8" x2="434.90000000000003" y2="147.8" stroke="#111" stroke-width="1.3"/>
<text x="438" y="150.4" font-size="7.4" font-family='"Liberation Sans", sans-serif' fill="#111" stroke="#111" stroke-width="0.16" textLength="18.19999999999999" lengthAdjust="spacingAndGlyphs">c-Myc</text>
<rect x="310.3" y="137.3" width="111.09999999999997" height="19.0" fill="none" stroke="#262626" stroke-width="1.15"/>
<rect x="310.3" y="167.6" width="111.09999999999997" height="17.400000000000006" fill="#ececec"/>
<rect x="312.10" y="174.90" width="16.00" height="3.00" rx="1.50" fill="#0e0e0e" opacity="1.000" filter="url(#bl3)"/>
<rect x="312.60" y="179.50" width="15.00" height="3.00" rx="1.50" fill="#0e0e0e" opacity="0.120" filter="url(#bl2)"/>
<rect x="332.70" y="174.90" width="13.00" height="3.00" rx="1.50" fill="#0e0e0e" opacity="0.280" filter="url(#bl3)"/>
<rect x="333.20" y="179.50" width="12.00" height="3.00" rx="1.50" fill="#0e0e0e" opacity="0.034" filter="url(#bl2)"/>
<rect x="368.10" y="174.90" width="15.00" height="3.00" rx="1.50" fill="#0e0e0e" opacity="1.000" filter="url(#bl3)"/>
<rect x="368.60" y="179.50" width="14.00" height="3.00" rx="1.50" fill="#0e0e0e" opacity="0.120" filter="url(#bl2)"/>
<rect x="387.40" y="174.90" width="13.00" height="3.00" rx="1.50" fill="#0e0e0e" opacity="0.160" filter="url(#bl3)"/>
<rect x="387.90" y="179.50" width="12.00" height="3.00" rx="1.50" fill="#0e0e0e" opacity="0.019" filter="url(#bl2)"/>
<rect x="403.60" y="174.90" width="16.00" height="3.00" rx="1.50" fill="#0e0e0e" opacity="1.000" filter="url(#bl3)"/>
<rect x="404.10" y="179.50" width="15.00" height="3.00" rx="1.50" fill="#0e0e0e" opacity="0.120" filter="url(#bl2)"/>
<text x="320.1" y="193.4" font-size="6.9" font-family='"Liberation Serif", serif' fill="#1a1a1a" stroke="#1a1a1a" stroke-width="0.16" text-anchor="middle" textLength="8.1" lengthAdjust="spacingAndGlyphs">1.0</text>
<text x="339.2" y="193.4" font-size="6.9" font-family='"Liberation Serif", serif' fill="#1a1a1a" stroke="#1a1a1a" stroke-width="0.16" text-anchor="middle" textLength="11.35" lengthAdjust="spacingAndGlyphs">0.11</text>
<text x="357.4" y="193.4" font-size="6.9" font-family='"Liberation Serif", serif' fill="#1a1a1a" stroke="#1a1a1a" stroke-width="0.16" text-anchor="middle" textLength="8.1" lengthAdjust="spacingAndGlyphs">0.0</text>
<text x="375.6" y="193.4" font-size="6.9" font-family='"Liberation Serif", serif' fill="#1a1a1a" stroke="#1a1a1a" stroke-width="0.16" text-anchor="middle" textLength="11.35" lengthAdjust="spacingAndGlyphs">0.55</text>
<text x="393.9" y="193.4" font-size="6.9" font-family='"Liberation Serif", serif' fill="#1a1a1a" stroke="#1a1a1a" stroke-width="0.16" text-anchor="middle" textLength="11.35" lengthAdjust="spacingAndGlyphs">0.07</text>
<text x="411.6" y="193.4" font-size="6.9" font-family='"Liberation Serif", serif' fill="#1a1a1a" stroke="#1a1a1a" stroke-width="0.16" text-anchor="middle" textLength="11.35" lengthAdjust="spacingAndGlyphs">1.10</text>
<path d="M424.8 176.3L429.40000000000003 174.20000000000002L428.40000000000003 176.3L429.40000000000003 178.4Z" stroke="none" stroke-width="0" fill="#111"/>
<line x1="428.3" y1="176.3" x2="434.90000000000003" y2="176.3" stroke="#111" stroke-width="1.3"/>
<text x="438" y="178.9" font-size="7.4" font-family='"Liberation Sans", sans-serif' fill="#111" stroke="#111" stroke-width="0.16" textLength="19.5" lengthAdjust="spacingAndGlyphs">c-Myb</text>
<rect x="310.3" y="167.6" width="111.09999999999997" height="17.400000000000006" fill="none" stroke="#262626" stroke-width="1.15"/>
<rect x="310.3" y="196.4" width="111.09999999999997" height="16.799999999999983" fill="#e2e2e2"/>
<path d="M312.60 203.40 Q320.10 204.40 327.60 202.80 L327.60 206.60 Q320.10 207.80 312.60 207.00 Z" fill="#0e0e0e" filter="url(#bl3)"/>
<path d="M331.70 202.60 Q339.20 203.60 346.70 202.00 L346.70 205.80 Q339.20 207.00 331.70 206.20 Z" fill="#0e0e0e" filter="url(#bl3)"/>
<path d="M349.90 203.40 Q357.40 204.40 364.90 202.80 L364.90 206.60 Q357.40 207.80 349.90 207.00 Z" fill="#0e0e0e" filter="url(#bl3)"/>
<path d="M368.10 203.40 Q375.60 204.40 383.10 202.80 L383.10 206.60 Q375.60 207.80 368.10 207.00 Z" fill="#0e0e0e" filter="url(#bl3)"/>
<path d="M386.40 203.40 Q393.90 204.40 401.40 202.80 L401.40 206.60 Q393.90 207.80 386.40 207.00 Z" fill="#0e0e0e" filter="url(#bl3)"/>
<path d="M404.10 203.40 Q411.60 204.40 419.10 202.80 L419.10 206.60 Q411.60 207.80 404.10 207.00 Z" fill="#0e0e0e" filter="url(#bl3)"/>
<path d="M424.8 204.8L429.40000000000003 202.70000000000002L428.40000000000003 204.8L429.40000000000003 206.9Z" stroke="none" stroke-width="0" fill="#111"/>
<line x1="428.3" y1="204.8" x2="434.90000000000003" y2="204.8" stroke="#111" stroke-width="1.3"/>
<text x="438" y="207.4" font-size="7.4" font-family='"Liberation Sans", sans-serif' fill="#111" stroke="#111" stroke-width="0.16" textLength="22.19999999999999" lengthAdjust="spacingAndGlyphs">β-Actin</text>
<rect x="310.3" y="196.4" width="111.09999999999997" height="16.799999999999983" fill="none" stroke="#262626" stroke-width="1.15"/>
<text x="82.0" y="166.3" font-size="7.3" font-family='"Liberation Sans", sans-serif' fill="#111" stroke="#111" stroke-width="0.16" textLength="30.5" lengthAdjust="spacingAndGlyphs">OCI-AML5</text>
<line x1="57.0" y1="171.6" x2="137.6" y2="171.6" stroke="#111" stroke-width="1.2"/>
<text x="39.0" y="215.6" font-size="7.1" font-family='"Liberation Sans", sans-serif' fill="#111" stroke="#111" stroke-width="0.16" transform="rotate(-45 39.0 215.6)">Control</text>
<text x="58.8" y="215.6" font-size="7.1" font-family='"Liberation Sans", sans-serif' fill="#111" stroke="#111" stroke-width="0.16" transform="rotate(-45 58.8 215.6)">1.25 µM Fenb</text>
<text x="77.2" y="215.6" font-size="7.1" font-family='"Liberation Sans", sans-serif' fill="#111" stroke="#111" stroke-width="0.16" transform="rotate(-45 77.2 215.6)">5.0 µM Fenb</text>
<text x="95.6" y="215.2" font-size="7.1" font-family='"Liberation Sans", sans-serif' fill="#111" stroke="#111" stroke-width="0.16" transform="rotate(-45 95.6 215.2)">10 µM Meva</text>
<text x="115.2" y="215.6" font-size="7.1" font-family='"Liberation Sans", sans-serif' fill="#111" stroke="#111" stroke-width="0.16" transform="rotate(-45 115.2 215.6)">20 µM Meva</text>
<text x="137.3" y="215.6" font-size="7.1" font-family='"Liberation Sans", sans-serif' fill="#111" stroke="#111" stroke-width="0.16" transform="rotate(-45 137.3 215.6)">25 nM Narci</text>
<text x="158.5" y="215.2" font-size="7.1" font-family='"Liberation Sans", sans-serif' fill="#111" stroke="#111" stroke-width="0.16" transform="rotate(-45 158.5 215.2)">100 nM Narci</text>
<rect x="22.8" y="221.3" width="147.79999999999998" height="23.19999999999999" fill="#e6e6e6"/>
<rect x="29.35" y="224.50" width="16.50" height="18.50" fill="#7a7a7a" opacity="0.600" filter="url(#bl)"/>
<rect x="29.85" y="226.80" width="15.50" height="2.40" rx="1.20" fill="#0e0e0e" opacity="0.350" filter="url(#bl2)"/>
<rect x="29.35" y="230.00" width="16.50" height="3.20" rx="1.60" fill="#0e0e0e" opacity="0.950" filter="url(#bl3)"/>
<rect x="29.35" y="234.00" width="16.50" height="2.60" rx="1.30" fill="#0e0e0e" opacity="0.850" filter="url(#bl3)"/>
<rect x="29.35" y="230.40" width="16.50" height="6.00" rx="2.50" fill="#0e0e0e" opacity="0.300" filter="url(#bl2)"/>
<rect x="29.85" y="238.00" width="15.50" height="3.00" rx="1.50" fill="#0e0e0e" opacity="0.300" filter="url(#bl2)"/>
<rect x="51.45" y="224.50" width="13.50" height="18.50" fill="#7a7a7a" opacity="0.450" filter="url(#bl)"/>
<rect x="51.95" y="226.80" width="12.50" height="2.40" rx="1.20" fill="#0e0e0e" opacity="0.193" filter="url(#bl2)"/>
<rect x="51.45" y="230.00" width="13.50" height="3.20" rx="1.60" fill="#0e0e0e" opacity="0.522" filter="url(#bl3)"/>
<rect x="51.45" y="234.00" width="13.50" height="2.60" rx="1.30" fill="#0e0e0e" opacity="0.468" filter="url(#bl3)"/>
<rect x="51.45" y="230.40" width="13.50" height="6.00" rx="2.50" fill="#0e0e0e" opacity="0.165" filter="url(#bl2)"/>
<rect x="51.95" y="238.00" width="12.50" height="3.00" rx="1.50" fill="#0e0e0e" opacity="0.165" filter="url(#bl2)"/>
<rect x="71.50" y="224.50" width="14.00" height="18.50" fill="#7a7a7a" opacity="0.180" filter="url(#bl)"/>
<rect x="72.00" y="226.80" width="13.00" height="2.40" rx="1.20" fill="#0e0e0e" opacity="0.035" filter="url(#bl2)"/>
<rect x="71.50" y="230.00" width="14.00" height="3.20" rx="1.60" fill="#0e0e0e" opacity="0.095" filter="url(#bl3)"/>
<rect x="71.50" y="234.00" width="14.00" height="2.60" rx="1.30" fill="#0e0e0e" opacity="0.085" filter="url(#bl3)"/>
<rect x="71.50" y="230.40" width="14.00" height="6.00" rx="2.50" fill="#0e0e0e" opacity="0.030" filter="url(#bl2)"/>
<rect x="72.00" y="238.00" width="13.00" height="3.00" rx="1.50" fill="#0e0e0e" opacity="0.030" filter="url(#bl2)"/>
<rect x="91.10" y="224.50" width="15.00" height="18.50" fill="#7a7a7a" opacity="0.550" filter="url(#bl)"/>
<rect x="91.60" y="226.80" width="14.00" height="2.40" rx="1.20" fill="#0e0e0e" opacity="0.297" filter="url(#bl2)"/>
<rect x="91.10" y="230.00" width="15.00" height="3.20" rx="1.60" fill="#0e0e0e" opacity="0.807" filter="url(#bl3)"/>
<rect x="91.10" y="234.00" width="15.00" height="2.60" rx="1.30" fill="#0e0e0e" opacity="0.722" filter="url(#bl3)"/>
<rect x="91.10" y="230.40" width="15.00" height="6.00" rx="2.50" fill="#0e0e0e" opacity="0.255" filter="url(#bl2)"/>
<rect x="91.60" y="238.00" width="14.00" height="3.00" rx="1.50" fill="#0e0e0e" opacity="0.255" filter="url(#bl2)"/>
<rect x="109.50" y="224.50" width="15.00" height="18.50" fill="#7a7a7a" opacity="0.550" filter="url(#bl)"/>
<rect x="110.00" y="226.80" width="14.00" height="2.40" rx="1.20" fill="#0e0e0e" opacity="0.287" filter="url(#bl2)"/>
<rect x="109.50" y="230.00" width="15.00" height="3.20" rx="1.60" fill="#0e0e0e" opacity="0.779" filter="url(#bl3)"/>
<rect x="109.50" y="234.00" width="15.00" height="2.60" rx="1.30" fill="#0e0e0e" opacity="0.697" filter="url(#bl3)"/>
<rect x="109.50" y="230.40" width="15.00" height="6.00" rx="2.50" fill="#0e0e0e" opacity="0.246" filter="url(#bl2)"/>
<rect x="110.00" y="238.00" width="14.00" height="3.00" rx="1.50" fill="#0e0e0e" opacity="0.246" filter="url(#bl2)"/>
<rect x="128.95" y="224.50" width="14.50" height="18.50" fill="#7a7a7a" opacity="0.600" filter="url(#bl)"/>
<rect x="129.45" y="226.80" width="13.50" height="2.40" rx="1.20" fill="#0e0e0e" opacity="0.332" filter="url(#bl2)"/>
<rect x="128.95" y="230.00" width="14.50" height="3.20" rx="1.60" fill="#0e0e0e" opacity="0.902" filter="url(#bl3)"/>
<rect x="128.95" y="234.00" width="14.50" height="2.60" rx="1.30" fill="#0e0e0e" opacity="0.807" filter="url(#bl3)"/>
<rect x="128.95" y="230.40" width="14.50" height="6.00" rx="2.50" fill="#0e0e0e" opacity="0.285" filter="url(#bl2)"/>
<rect x="129.45" y="238.00" width="13.50" height="3.00" rx="1.50" fill="#0e0e0e" opacity="0.285" filter="url(#bl2)"/>
<rect x="148.80" y="224.50" width="15.00" height="18.50" fill="#7a7a7a" opacity="0.150" filter="url(#bl)"/>
<rect x="149.30" y="226.80" width="14.00" height="2.40" rx="1.20" fill="#0e0e0e" opacity="0.028" filter="url(#bl2)"/>
<rect x="148.80" y="230.00" width="15.00" height="3.20" rx="1.60" fill="#0e0e0e" opacity="0.076" filter="url(#bl3)"/>
<rect x="148.80" y="234.00" width="15.00" height="2.60" rx="1.30" fill="#0e0e0e" opacity="0.068" filter="url(#bl3)"/>
<rect x="148.80" y="230.40" width="15.00" height="6.00" rx="2.50" fill="#0e0e0e" opacity="0.024" filter="url(#bl2)"/>
<rect x="149.30" y="238.00" width="14.00" height="3.00" rx="1.50" fill="#0e0e0e" opacity="0.024" filter="url(#bl2)"/>
<path d="M62.5 234.2 L68 232.6 L73 230.4 L79.2 225.6" stroke="#111" stroke-width="1.4" fill="none"/>
<circle cx="67.4" cy="226.3" r="0.7" fill="#111"/>
<circle cx="68.0" cy="239.3" r="0.7" fill="#111"/>
<circle cx="157.7" cy="238.6" r="0.8" fill="#222"/>
<circle cx="108.5" cy="222.6" r="0.5" fill="#333"/>
<text x="37.6" y="252.5" font-size="6.9" font-family='"Liberation Serif", serif' fill="#1a1a1a" stroke="#1a1a1a" stroke-width="0.16" text-anchor="middle" textLength="8.1" lengthAdjust="spacingAndGlyphs">1.0</text>
<text x="58.2" y="252.5" font-size="6.9" font-family='"Liberation Serif", serif' fill="#1a1a1a" stroke="#1a1a1a" stroke-width="0.16" text-anchor="middle" textLength="11.35" lengthAdjust="spacingAndGlyphs">0.30</text>
<text x="78.5" y="252.5" font-size="6.9" font-family='"Liberation Serif", serif' fill="#1a1a1a" stroke="#1a1a1a" stroke-width="0.16" text-anchor="middle" textLength="11.35" lengthAdjust="spacingAndGlyphs">0.09</text>
<text x="98.6" y="252.5" font-size="6.9" font-family='"Liberation Serif", serif' fill="#1a1a1a" stroke="#1a1a1a" stroke-width="0.16" text-anchor="middle" textLength="11.35" lengthAdjust="spacingAndGlyphs">0.65</text>
<text x="117.0" y="252.5" font-size="6.9" font-family='"Liberation Serif", serif' fill="#1a1a1a" stroke="#1a1a1a" stroke-width="0.16" text-anchor="middle" textLength="11.35" lengthAdjust="spacingAndGlyphs">0.61</text>
<text x="136.2" y="252.5" font-size="6.9" font-family='"Liberation Serif", serif' fill="#1a1a1a" stroke="#1a1a1a" stroke-width="0.16" text-anchor="middle" textLength="11.35" lengthAdjust="spacingAndGlyphs">0.77</text>
<text x="156.3" y="252.5" font-size="6.9" font-family='"Liberation Serif", serif' fill="#1a1a1a" stroke="#1a1a1a" stroke-width="0.16" text-anchor="middle" textLength="11.35" lengthAdjust="spacingAndGlyphs">0.06</text>
<path d="M174.9 233.5L179.5 231.4L178.5 233.5L179.5 235.6Z" stroke="none" stroke-width="0" fill="#111"/>
<line x1="178.4" y1="233.5" x2="185.0" y2="233.5" stroke="#111" stroke-width="1.3"/>
<text x="187.7" y="236.1" font-size="7.4" font-family='"Liberation Sans", sans-serif' fill="#111" stroke="#111" stroke-width="0.16" textLength="20.80000000000001" lengthAdjust="spacingAndGlyphs">RUNX1</text>
<rect x="22.8" y="221.3" width="147.79999999999998" height="23.19999999999999" fill="none" stroke="#262626" stroke-width="1.15"/>
<rect x="22.8" y="254.7" width="147.79999999999998" height="19.30000000000001" fill="#e6e6e6"/>
<rect x="29.85" y="263.00" width="15.50" height="3.80" rx="1.90" fill="#0e0e0e" opacity="1.000" filter="url(#bl3)"/>
<rect x="30.35" y="268.90" width="14.50" height="1.80" rx="0.90" fill="#0e0e0e" opacity="0.220" filter="url(#bl3)"/>
<rect x="50.45" y="263.30" width="15.50" height="3.20" rx="1.60" fill="#0e0e0e" opacity="0.780" filter="url(#bl3)"/>
<rect x="50.95" y="268.90" width="14.50" height="1.80" rx="0.90" fill="#0e0e0e" opacity="0.172" filter="url(#bl3)"/>
<rect x="70.75" y="263.60" width="15.50" height="2.60" rx="1.30" fill="#0e0e0e" opacity="0.320" filter="url(#bl3)"/>
<rect x="71.25" y="268.90" width="14.50" height="1.80" rx="0.90" fill="#0e0e0e" opacity="0.070" filter="url(#bl3)"/>
<rect x="90.85" y="263.00" width="15.50" height="3.80" rx="1.90" fill="#0e0e0e" opacity="1.000" filter="url(#bl3)"/>
<rect x="91.35" y="268.90" width="14.50" height="1.80" rx="0.90" fill="#0e0e0e" opacity="0.220" filter="url(#bl3)"/>
<rect x="109.25" y="263.00" width="15.50" height="3.80" rx="1.90" fill="#0e0e0e" opacity="1.000" filter="url(#bl3)"/>
<rect x="109.75" y="268.90" width="14.50" height="1.80" rx="0.90" fill="#0e0e0e" opacity="0.220" filter="url(#bl3)"/>
<rect x="128.45" y="263.10" width="15.50" height="3.60" rx="1.80" fill="#0e0e0e" opacity="0.920" filter="url(#bl3)"/>
<rect x="128.95" y="268.90" width="14.50" height="1.80" rx="0.90" fill="#0e0e0e" opacity="0.202" filter="url(#bl3)"/>
<rect x="148.55" y="263.60" width="15.50" height="2.60" rx="1.30" fill="#0e0e0e" opacity="0.300" filter="url(#bl3)"/>
<rect x="149.05" y="268.90" width="14.50" height="1.80" rx="0.90" fill="#0e0e0e" opacity="0.066" filter="url(#bl3)"/>
<text x="37.6" y="282.5" font-size="6.9" font-family='"Liberation Serif", serif' fill="#1a1a1a" stroke="#1a1a1a" stroke-width="0.16" text-anchor="middle" textLength="8.1" lengthAdjust="spacingAndGlyphs">1.0</text>
<text x="58.2" y="282.5" font-size="6.9" font-family='"Liberation Serif", serif' fill="#1a1a1a" stroke="#1a1a1a" stroke-width="0.16" text-anchor="middle" textLength="11.35" lengthAdjust="spacingAndGlyphs">0.55</text>
<text x="78.5" y="282.5" font-size="6.9" font-family='"Liberation Serif", serif' fill="#1a1a1a" stroke="#1a1a1a" stroke-width="0.16" text-anchor="middle" textLength="11.35" lengthAdjust="spacingAndGlyphs">0.13</text>
<text x="98.6" y="282.5" font-size="6.9" font-family='"Liberation Serif", serif' fill="#1a1a1a" stroke="#1a1a1a" stroke-width="0.16" text-anchor="middle" textLength="11.35" lengthAdjust="spacingAndGlyphs">1.10</text>
<text x="117.0" y="282.5" font-size="6.9" font-family='"Liberation Serif", serif' fill="#1a1a1a" stroke="#1a1a1a" stroke-width="0.16" text-anchor="middle" textLength="11.35" lengthAdjust="spacingAndGlyphs">1.10</text>
<text x="136.2" y="282.5" font-size="6.9" font-family='"Liberation Serif", serif' fill="#1a1a1a" stroke="#1a1a1a" stroke-width="0.16" text-anchor="middle" textLength="11.35" lengthAdjust="spacingAndGlyphs">0.96</text>
<text x="156.3" y="282.5" font-size="6.9" font-family='"Liberation Serif", serif' fill="#1a1a1a" stroke="#1a1a1a" stroke-width="0.16" text-anchor="middle" textLength="11.35" lengthAdjust="spacingAndGlyphs">0.11</text>
<path d="M174.9 262.6L179.5 260.5L178.5 262.6L179.5 264.70000000000005Z" stroke="none" stroke-width="0" fill="#111"/>
<line x1="178.4" y1="262.6" x2="185.0" y2="262.6" stroke="#111" stroke-width="1.3"/>
<text x="187.7" y="265.20000000000005" font-size="7.4" font-family='"Liberation Sans", sans-serif' fill="#111" stroke="#111" stroke-width="0.16" textLength="12.900000000000006" lengthAdjust="spacingAndGlyphs">PU.1</text>
<rect x="22.8" y="254.7" width="147.79999999999998" height="19.30000000000001" fill="none" stroke="#262626" stroke-width="1.15"/>
<rect x="22.8" y="285.0" width="147.79999999999998" height="20.69999999999999" fill="#e6e6e6"/>
<rect x="29.85" y="286.00" width="15.50" height="18.50" fill="#cccccc" opacity="0.450" filter="url(#bl)"/>
<rect x="50.45" y="286.00" width="15.50" height="18.50" fill="#cccccc" opacity="0.450" filter="url(#bl)"/>
<rect x="70.75" y="286.00" width="15.50" height="18.50" fill="#cccccc" opacity="0.450" filter="url(#bl)"/>
<rect x="90.85" y="286.00" width="15.50" height="18.50" fill="#cccccc" opacity="0.450" filter="url(#bl)"/>
<rect x="109.25" y="286.00" width="15.50" height="18.50" fill="#cccccc" opacity="0.450" filter="url(#bl)"/>
<rect x="128.45" y="286.00" width="15.50" height="18.50" fill="#cccccc" opacity="0.450" filter="url(#bl)"/>
<rect x="28.30" y="292.90" width="18.40" height="5.00" rx="2.50" fill="#0e0e0e" opacity="0.950" filter="url(#bl3)"/>
<rect x="28.55" y="289.80" width="17.90" height="3.60" rx="1.80" fill="#0e0e0e" opacity="0.600" filter="url(#bl)"/>
<rect x="28.80" y="297.30" width="17.40" height="2.20" rx="1.10" fill="#0e0e0e" opacity="0.400" filter="url(#bl)"/>
<rect x="52.00" y="292.90" width="14.00" height="5.00" rx="2.50" fill="#0e0e0e" opacity="0.665" filter="url(#bl3)"/>
<rect x="52.25" y="289.80" width="13.50" height="3.60" rx="1.80" fill="#0e0e0e" opacity="0.420" filter="url(#bl)"/>
<rect x="52.50" y="297.30" width="13.00" height="2.20" rx="1.10" fill="#0e0e0e" opacity="0.280" filter="url(#bl)"/>
<rect x="72.30" y="292.90" width="13.80" height="5.00" rx="2.50" fill="#0e0e0e" opacity="0.285" filter="url(#bl3)"/>
<rect x="72.55" y="289.80" width="13.30" height="3.60" rx="1.80" fill="#0e0e0e" opacity="0.180" filter="url(#bl)"/>
<rect x="72.80" y="297.30" width="12.80" height="2.20" rx="1.10" fill="#0e0e0e" opacity="0.120" filter="url(#bl)"/>
<rect x="92.40" y="292.90" width="15.00" height="5.00" rx="2.50" fill="#0e0e0e" opacity="0.712" filter="url(#bl3)"/>
<rect x="92.65" y="289.80" width="14.50" height="3.60" rx="1.80" fill="#0e0e0e" opacity="0.450" filter="url(#bl)"/>
<rect x="92.90" y="297.30" width="14.00" height="2.20" rx="1.10" fill="#0e0e0e" opacity="0.300" filter="url(#bl)"/>
<rect x="112.40" y="292.90" width="14.20" height="5.00" rx="2.50" fill="#0e0e0e" opacity="0.522" filter="url(#bl3)"/>
<rect x="112.65" y="289.80" width="13.70" height="3.60" rx="1.80" fill="#0e0e0e" opacity="0.330" filter="url(#bl)"/>
<rect x="112.90" y="297.30" width="13.20" height="2.20" rx="1.10" fill="#0e0e0e" opacity="0.220" filter="url(#bl)"/>
<rect x="132.60" y="292.90" width="15.20" height="5.00" rx="2.50" fill="#0e0e0e" opacity="0.665" filter="url(#bl3)"/>
<rect x="132.85" y="289.80" width="14.70" height="3.60" rx="1.80" fill="#0e0e0e" opacity="0.420" filter="url(#bl)"/>
<rect x="133.10" y="297.30" width="14.20" height="2.20" rx="1.10" fill="#0e0e0e" opacity="0.280" filter="url(#bl)"/>
<text x="37.6" y="313.8" font-size="6.9" font-family='"Liberation Serif", serif' fill="#1a1a1a" stroke="#1a1a1a" stroke-width="0.16" text-anchor="middle" textLength="8.1" lengthAdjust="spacingAndGlyphs">1.0</text>
<text x="58.2" y="313.8" font-size="6.9" font-family='"Liberation Serif", serif' fill="#1a1a1a" stroke="#1a1a1a" stroke-width="0.16" text-anchor="middle" textLength="11.35" lengthAdjust="spacingAndGlyphs">0.41</text>
<text x="78.5" y="313.8" font-size="6.9" font-family='"Liberation Serif", serif' fill="#1a1a1a" stroke="#1a1a1a" stroke-width="0.16" text-anchor="middle" textLength="11.35" lengthAdjust="spacingAndGlyphs">0.08</text>
<text x="98.6" y="313.8" font-size="6.9" font-family='"Liberation Serif", serif' fill="#1a1a1a" stroke="#1a1a1a" stroke-width="0.16" text-anchor="middle" textLength="11.35" lengthAdjust="spacingAndGlyphs">0.35</text>
<text x="117.0" y="313.8" font-size="6.9" font-family='"Liberation Serif", serif' fill="#1a1a1a" stroke="#1a1a1a" stroke-width="0.16" text-anchor="middle" textLength="11.35" lengthAdjust="spacingAndGlyphs">0.25</text>
<text x="136.2" y="313.8" font-size="6.9" font-family='"Liberation Serif", serif' fill="#1a1a1a" stroke="#1a1a1a" stroke-width="0.16" text-anchor="middle" textLength="11.35" lengthAdjust="spacingAndGlyphs">0.40</text>
<text x="156.3" y="313.8" font-size="6.9" font-family='"Liberation Serif", serif' fill="#1a1a1a" stroke="#1a1a1a" stroke-width="0.16" text-anchor="middle" textLength="8.1" lengthAdjust="spacingAndGlyphs">0.0</text>
<path d="M174.9 292.9L179.5 290.79999999999995L178.5 292.9L179.5 295.0Z" stroke="none" stroke-width="0" fill="#111"/>
<line x1="178.4" y1="292.9" x2="185.0" y2="292.9" stroke="#111" stroke-width="1.3"/>
<text x="187.7" y="295.5" font-size="7.4" font-family='"Liberation Sans", sans-serif' fill="#111" stroke="#111" stroke-width="0.16" textLength="18.200000000000017" lengthAdjust="spacingAndGlyphs">c-Myc</text>
<rect x="22.8" y="285.0" width="147.79999999999998" height="20.69999999999999" fill="none" stroke="#262626" stroke-width="1.15"/>
<rect x="22.8" y="315.6" width="147.79999999999998" height="17.799999999999955" fill="#e8e8e8"/>
<rect x="29.85" y="316.50" width="15.50" height="16.00" fill="#d2d2d2" opacity="0.450" filter="url(#bl)"/>
<rect x="50.45" y="316.50" width="15.50" height="16.00" fill="#d2d2d2" opacity="0.450" filter="url(#bl)"/>
<rect x="70.75" y="316.50" width="15.50" height="16.00" fill="#d2d2d2" opacity="0.450" filter="url(#bl)"/>
<rect x="90.85" y="316.50" width="15.50" height="16.00" fill="#d2d2d2" opacity="0.450" filter="url(#bl)"/>
<rect x="109.25" y="316.50" width="15.50" height="16.00" fill="#d2d2d2" opacity="0.450" filter="url(#bl)"/>
<rect x="128.45" y="316.50" width="15.50" height="16.00" fill="#d2d2d2" opacity="0.450" filter="url(#bl)"/>
<rect x="28.90" y="324.80" width="17.80" height="5.20" rx="2.50" fill="#0e0e0e" opacity="0.950" filter="url(#bl3)"/>
<rect x="29.40" y="321.90" width="16.80" height="3.40" rx="1.70" fill="#0e0e0e" opacity="0.400" filter="url(#bl2)"/>
<rect x="52.00" y="325.40" width="13.00" height="4.00" rx="2.00" fill="#0e0e0e" opacity="0.617" filter="url(#bl3)"/>
<rect x="52.50" y="321.90" width="12.00" height="3.40" rx="1.70" fill="#0e0e0e" opacity="0.260" filter="url(#bl2)"/>
<rect x="72.30" y="325.60" width="13.00" height="3.60" rx="1.80" fill="#0e0e0e" opacity="0.237" filter="url(#bl3)"/>
<rect x="72.80" y="321.90" width="12.00" height="3.40" rx="1.70" fill="#0e0e0e" opacity="0.100" filter="url(#bl2)"/>
<rect x="92.50" y="325.30" width="14.00" height="4.20" rx="2.10" fill="#0e0e0e" opacity="0.741" filter="url(#bl3)"/>
<rect x="93.00" y="321.90" width="13.00" height="3.40" rx="1.70" fill="#0e0e0e" opacity="0.312" filter="url(#bl2)"/>
<rect x="112.35" y="325.50" width="12.70" height="3.80" rx="1.90" fill="#0e0e0e" opacity="0.522" filter="url(#bl3)"/>
<rect x="112.85" y="321.90" width="11.70" height="3.40" rx="1.70" fill="#0e0e0e" opacity="0.220" filter="url(#bl2)"/>
<rect x="132.50" y="325.50" width="14.20" height="3.80" rx="1.90" fill="#0e0e0e" opacity="0.475" filter="url(#bl3)"/>
<rect x="133.00" y="321.90" width="13.20" height="3.40" rx="1.70" fill="#0e0e0e" opacity="0.200" filter="url(#bl2)"/>
<rect x="23.400000000000002" y="331.6" width="146.6" height="1.2" fill="#fafafa" opacity="0.85"/>
<text x="37.6" y="341.5" font-size="6.9" font-family='"Liberation Serif", serif' fill="#1a1a1a" stroke="#1a1a1a" stroke-width="0.16" text-anchor="middle" textLength="8.1" lengthAdjust="spacingAndGlyphs">1.0</text>
<text x="58.2" y="341.5" font-size="6.9" font-family='"Liberation Serif", serif' fill="#1a1a1a" stroke="#1a1a1a" stroke-width="0.16" text-anchor="middle" textLength="11.35" lengthAdjust="spacingAndGlyphs">0.29</text>
<text x="78.5" y="341.5" font-size="6.9" font-family='"Liberation Serif", serif' fill="#1a1a1a" stroke="#1a1a1a" stroke-width="0.16" text-anchor="middle" textLength="11.35" lengthAdjust="spacingAndGlyphs">0.03</text>
<text x="98.6" y="341.5" font-size="6.9" font-family='"Liberation Serif", serif' fill="#1a1a1a" stroke="#1a1a1a" stroke-width="0.16" text-anchor="middle" textLength="11.35" lengthAdjust="spacingAndGlyphs">0.40</text>
<text x="117.0" y="341.5" font-size="6.9" font-family='"Liberation Serif", serif' fill="#1a1a1a" stroke="#1a1a1a" stroke-width="0.16" text-anchor="middle" textLength="11.35" lengthAdjust="spacingAndGlyphs">0.25</text>
<text x="136.2" y="341.5" font-size="6.9" font-family='"Liberation Serif", serif' fill="#1a1a1a" stroke="#1a1a1a" stroke-width="0.16" text-anchor="middle" textLength="11.35" lengthAdjust="spacingAndGlyphs">0.20</text>
<text x="156.3" y="341.5" font-size="6.9" font-family='"Liberation Serif", serif' fill="#1a1a1a" stroke="#1a1a1a" stroke-width="0.16" text-anchor="middle" textLength="8.1" lengthAdjust="spacingAndGlyphs">0.0</text>
<path d="M174.9 323.4L179.5 321.29999999999995L178.5 323.4L179.5 325.5Z" stroke="none" stroke-width="0" fill="#111"/>
<line x1="178.4" y1="323.4" x2="185.0" y2="323.4" stroke="#111" stroke-width="1.3"/>
<text x="187.7" y="326.0" font-size="7.4" font-family='"Liberation Sans", sans-serif' fill="#111" stroke="#111" stroke-width="0.16" textLength="19.400000000000006" lengthAdjust="spacingAndGlyphs">c-Myb</text>
<rect x="22.8" y="315.6" width="147.79999999999998" height="17.799999999999955" fill="none" stroke="#262626" stroke-width="1.15"/>
<rect x="22.8" y="343.9" width="147.79999999999998" height="20.400000000000034" fill="#e4e4e4"/>
<rect x="29.85" y="352.80" width="15.50" height="3.00" rx="1.50" fill="#0e0e0e" opacity="1.000" filter="url(#bl3)"/>
<rect x="50.45" y="352.80" width="15.50" height="3.00" rx="1.50" fill="#0e0e0e" opacity="1.000" filter="url(#bl3)"/>
<rect x="70.75" y="352.80" width="15.50" height="3.00" rx="1.50" fill="#0e0e0e" opacity="1.000" filter="url(#bl3)"/>
<rect x="90.85" y="352.80" width="15.50" height="3.00" rx="1.50" fill="#0e0e0e" opacity="1.000" filter="url(#bl3)"/>
<rect x="109.25" y="352.80" width="15.50" height="3.00" rx="1.50" fill="#0e0e0e" opacity="1.000" filter="url(#bl3)"/>
<rect x="128.45" y="352.80" width="15.50" height="3.00" rx="1.50" fill="#0e0e0e" opacity="1.000" filter="url(#bl3)"/>
<rect x="148.55" y="352.80" width="15.50" height="3.00" rx="1.50" fill="#0e0e0e" opacity="1.000" filter="url(#bl3)"/>
<path d="M174.9 354.7L179.5 352.59999999999997L178.5 354.7L179.5 356.8Z" stroke="none" stroke-width="0" fill="#111"/>
<line x1="178.4" y1="354.7" x2="185.0" y2="354.7" stroke="#111" stroke-width="1.3"/>
<text x="187.7" y="357.3" font-size="7.4" font-family='"Liberation Sans", sans-serif' fill="#111" stroke="#111" stroke-width="0.16" textLength="21.80000000000001" lengthAdjust="spacingAndGlyphs">β-Actin</text>
<rect x="22.8" y="343.9" width="147.79999999999998" height="20.400000000000034" fill="none" stroke="#262626" stroke-width="1.15"/>
<text x="304.5" y="248.6" font-size="6.9" font-family='"Liberation Sans", sans-serif' fill="#111" stroke="#111" stroke-width="0.16" textLength="91.8" lengthAdjust="spacingAndGlyphs">OCI-AML5 GFP/Luc xenografts</text>
<line x1="281.6" y1="254.3" x2="281.6" y2="355.3" stroke="#111" stroke-width="1.3"/>
<line x1="278.0" y1="354.6" x2="281.6" y2="354.6" stroke="#111" stroke-width="1.1"/>
<line x1="278.0" y1="331.925" x2="281.6" y2="331.925" stroke="#111" stroke-width="1.1"/>
<line x1="278.0" y1="309.25" x2="281.6" y2="309.25" stroke="#111" stroke-width="1.1"/>
<line x1="278.0" y1="286.57500000000005" x2="281.6" y2="286.57500000000005" stroke="#111" stroke-width="1.1"/>
<line x1="278.0" y1="263.90000000000003" x2="281.6" y2="263.90000000000003" stroke="#111" stroke-width="1.1"/>
<text x="274.6" y="266.20000000000005" font-size="6.6" font-family='"Liberation Sans", sans-serif' fill="#111" stroke="#111" stroke-width="0.16" text-anchor="end" textLength="11.600000000000023" lengthAdjust="spacingAndGlyphs">100</text>
<text x="274.6" y="288.87500000000006" font-size="6.6" font-family='"Liberation Sans", sans-serif' fill="#111" stroke="#111" stroke-width="0.16" text-anchor="end" textLength="7.800000000000011" lengthAdjust="spacingAndGlyphs">75</text>
<text x="274.6" y="311.55" font-size="6.6" font-family='"Liberation Sans", sans-serif' fill="#111" stroke="#111" stroke-width="0.16" text-anchor="end" textLength="7.800000000000011" lengthAdjust="spacingAndGlyphs">50</text>
<text x="274.6" y="334.225" font-size="6.6" font-family='"Liberation Sans", sans-serif' fill="#111" stroke="#111" stroke-width="0.16" text-anchor="end" textLength="7.800000000000011" lengthAdjust="spacingAndGlyphs">25</text>
<text x="274.6" y="356.90000000000003" font-size="6.6" font-family='"Liberation Sans", sans-serif' fill="#111" stroke="#111" stroke-width="0.16" text-anchor="end" textLength="4.0" lengthAdjust="spacingAndGlyphs">0</text>
<line x1="281.4" y1="354.7" x2="300.0" y2="354.7" stroke="#111" stroke-width="1.2"/>
<line x1="299.6" y1="351.8" x2="299.6" y2="357.4" stroke="#111" stroke-width="1.0"/>
<line x1="308.6" y1="354.7" x2="419.2" y2="354.7" stroke="#111" stroke-width="1.2"/>
<line x1="308.6" y1="351.8" x2="308.6" y2="357.4" stroke="#111" stroke-width="1.0"/>
<line x1="325.0" y1="354.7" x2="325.0" y2="357.6" stroke="#111" stroke-width="1.0"/>
<line x1="355.8" y1="354.7" x2="355.8" y2="357.6" stroke="#111" stroke-width="1.0"/>
<line x1="386.6" y1="354.7" x2="386.6" y2="357.6" stroke="#111" stroke-width="1.0"/>
<line x1="417.4" y1="354.7" x2="417.4" y2="357.6" stroke="#111" stroke-width="1.0"/>
<line x1="281.9" y1="354.7" x2="281.9" y2="357.6" stroke="#111" stroke-width="1.0"/>
<text x="281.6" y="368.2" font-size="7.4" font-family='"Liberation Sans", sans-serif' fill="#111" stroke="#111" stroke-width="0.16" text-anchor="middle" textLength="4.0" lengthAdjust="spacingAndGlyphs">0</text>
<text x="299.6" y="368.2" font-size="7.4" font-family='"Liberation Sans", sans-serif' fill="#111" stroke="#111" stroke-width="0.16" text-anchor="middle" textLength="8.0" lengthAdjust="spacingAndGlyphs">10</text>
<text x="325.0" y="368.2" font-size="7.4" font-family='"Liberation Sans", sans-serif' fill="#111" stroke="#111" stroke-width="0.16" text-anchor="middle" textLength="8.0" lengthAdjust="spacingAndGlyphs">30</text>
<text x="355.8" y="368.2" font-size="7.4" font-family='"Liberation Sans", sans-serif' fill="#111" stroke="#111" stroke-width="0.16" text-anchor="middle" textLength="8.0" lengthAdjust="spacingAndGlyphs">40</text>
<text x="386.6" y="368.2" font-size="7.4" font-family='"Liberation Sans", sans-serif' fill="#111" stroke="#111" stroke-width="0.16" text-anchor="middle" textLength="8.0" lengthAdjust="spacingAndGlyphs">50</text>
<text x="417.4" y="368.2" font-size="7.4" font-family='"Liberation Sans", sans-serif' fill="#111" stroke="#111" stroke-width="0.16" text-anchor="middle" textLength="8.0" lengthAdjust="spacingAndGlyphs">60</text>
<text x="304.3" y="381.2" font-size="9.9" font-family='"Liberation Sans", sans-serif' fill="#111" stroke="#111" stroke-width="0.16" textLength="92.8" lengthAdjust="spacingAndGlyphs">Days post engraftment</text>
<text x="256.5" y="304.2" font-size="9.9" font-family='"Liberation Sans", sans-serif' fill="#111" stroke="#111" stroke-width="0.16" text-anchor="middle" textLength="64" lengthAdjust="spacingAndGlyphs" transform="rotate(-90 256.5 304.2)">Percent survival</text>
<line x1="281.9" y1="260.9" x2="299.9" y2="260.9" stroke="#5079b0" stroke-width="1.2"/>
<line x1="308.6" y1="260.9" x2="405.0" y2="260.9" stroke="#5079b0" stroke-width="1.2"/>
<line x1="281.9" y1="261.9" x2="299.9" y2="261.9" stroke="#8a7fa8" stroke-width="1.2"/>
<line x1="308.6" y1="261.9" x2="405.0" y2="261.9" stroke="#8a7fa8" stroke-width="1.2"/>
<line x1="281.9" y1="262.8" x2="299.9" y2="262.8" stroke="#eba23e" stroke-width="1.2"/>
<line x1="308.6" y1="262.8" x2="405.0" y2="262.8" stroke="#eba23e" stroke-width="1.2"/>
<line x1="281.9" y1="263.9" x2="299.9" y2="263.9" stroke="#ac2340" stroke-width="1.2"/>
<line x1="308.6" y1="263.9" x2="405.0" y2="263.9" stroke="#ac2340" stroke-width="1.2"/>
<path d="M308.6 264.0 L321.8 264.0 L321.8 274.0 L328.1 274.0 L328.1 284.3 L364.5 284.3 L364.5 303.9 L404.4 303.9" stroke="#7dbf5e" stroke-width="1.2" fill="none"/>
<rect x="319.0" y="271.2" width="5.6" height="5.6" fill="#6fb24f"/>
<rect x="325.3" y="281.5" width="5.6" height="5.6" fill="#6fb24f"/>
<rect x="361.7" y="301.09999999999997" width="5.6" height="5.6" fill="#6fb24f"/>
<rect x="401.59999999999997" y="301.09999999999997" width="5.6" height="5.6" fill="#6fb24f"/>
<path d="M327.8 264.0 L327.8 294.3 L339.6 294.3 L339.6 314.2 L349.2 314.2 L349.2 324.6 L355.3 324.6 L355.3 334.6 L367.6 334.6 L367.6 344.6 L379.9 344.6 L379.9 354.4" stroke="#ac2340" stroke-width="1.2" fill="none"/>
<circle cx="327.8" cy="294.3" r="2.7" fill="#ac2340"/>
<circle cx="339.6" cy="314.2" r="2.7" fill="#ac2340"/>
<circle cx="349.2" cy="324.6" r="2.7" fill="#ac2340"/>
<circle cx="355.3" cy="334.6" r="2.7" fill="#ac2340"/>
<circle cx="367.6" cy="344.6" r="2.7" fill="#ac2340"/>
<circle cx="379.9" cy="354.4" r="2.7" fill="#ac2340"/>
<path d="M404.4 257.6L406.9 260.4L404.4 263.2L401.9 260.4Z" stroke="none" stroke-width="0" fill="#5079b0"/>
<path d="M404.4 261.3L407.0 266.0L401.8 266.0Z" stroke="none" stroke-width="0" fill="#6b3479"/>
<line x1="428.4" y1="260.8" x2="439.0" y2="260.8" stroke="#ac2340" stroke-width="1.5"/>
<circle cx="433.6" cy="260.8" r="2.8" fill="#ac2340"/>
<text x="442.3" y="263.0" font-size="6.5" font-family='"Liberation Sans", sans-serif' fill="#111" stroke="#111" stroke-width="0.16" textLength="18.899999999999977" lengthAdjust="spacingAndGlyphs">Vehicle</text>
<line x1="428.4" y1="271.78000000000003" x2="439.0" y2="271.78000000000003" stroke="#7dbf5e" stroke-width="1.5"/>
<rect x="431.0" y="269.18" width="5.2" height="5.2" fill="#6fb24f"/>
<text x="441.2" y="273.98" font-size="6.5" font-family='"Liberation Sans", sans-serif' fill="#111" stroke="#111" stroke-width="0.16" textLength="53.0" lengthAdjust="spacingAndGlyphs">1 mg/kg Narciclasine</text>
<line x1="428.4" y1="282.76" x2="439.0" y2="282.76" stroke="#6b3479" stroke-width="1.5"/>
<path d="M433.6 280.15999999999997L436.40000000000003 284.96L430.8 284.96Z" stroke="none" stroke-width="0" fill="#6b3479"/>
<text x="441.2" y="284.96" font-size="6.5" font-family='"Liberation Sans", sans-serif' fill="#111" stroke="#111" stroke-width="0.16" textLength="61.60000000000002" lengthAdjust="spacingAndGlyphs">50 mg/kg Fenbendazole</text>
<line x1="428.4" y1="293.74" x2="439.0" y2="293.74" stroke="#eba23e" stroke-width="1.5"/>
<path d="M433.6 291.34000000000003L436.0 293.74L433.6 296.14L431.20000000000005 293.74Z" stroke="none" stroke-width="0" fill="#eba23e"/>
<text x="441.2" y="295.94" font-size="6.5" font-family='"Liberation Sans", sans-serif' fill="#111" stroke="#111" stroke-width="0.16" textLength="64.60000000000002" lengthAdjust="spacingAndGlyphs">100 mg/kg Fenbendazole</text>
<line x1="428.4" y1="304.72" x2="439.0" y2="304.72" stroke="#5079b0" stroke-width="1.5"/>
<path d="M433.6 302.32000000000005L436.0 304.72L433.6 307.12L431.20000000000005 304.72Z" stroke="none" stroke-width="0" fill="#5079b0"/>
<text x="441.2" y="306.92" font-size="6.5" font-family='"Liberation Sans", sans-serif' fill="#111" stroke="#111" stroke-width="0.16" textLength="53.69999999999999" lengthAdjust="spacingAndGlyphs">1 mg/kg Cinobufagin</text>
<text x="394.8" y="323.0" font-size="6.3" font-family='"Liberation Sans", sans-serif' fill="#111" stroke="#111" stroke-width="0.16" textLength="96.19999999999999" lengthAdjust="spacingAndGlyphs">Veh vs 1 mg/kg Narciclasine p=0.0157</text>
<text x="394.8" y="331.8" font-size="6.3" font-family='"Liberation Sans", sans-serif' fill="#111" stroke="#111" stroke-width="0.16" textLength="104.5" lengthAdjust="spacingAndGlyphs">Veh vs 50 mg/kg Fenbendazole p&lt;0.0001</text>
<text x="394.8" y="340.59999999999997" font-size="6.3" font-family='"Liberation Sans", sans-serif' fill="#111" stroke="#111" stroke-width="0.16" textLength="107.69999999999999" lengthAdjust="spacingAndGlyphs">Veh vs 100 mg/kg Fenbendazole p&lt;0.0001</text>
<text x="394.8" y="350.4" font-size="6.3" font-family='"Liberation Sans", sans-serif' fill="#111" stroke="#111" stroke-width="0.16" textLength="106.89999999999998" lengthAdjust="spacingAndGlyphs">Veh vs 1 mg/kg BID Cinobufagin p&lt;0.0001</text>
<text x="89.2" y="416.0" font-size="6.8" font-family='"Liberation Sans", sans-serif' fill="#111" stroke="#111" stroke-width="0.16" textLength="83.3" lengthAdjust="spacingAndGlyphs">PD Somatic mtRUNX1 AML</text>
<line x1="55.3" y1="422.3" x2="55.3" y2="532.1" stroke="#111" stroke-width="1.4"/>
<line x1="51.4" y1="531.6" x2="55.3" y2="531.6" stroke="#111" stroke-width="1.1"/>
<text x="48.8" y="533.9" font-size="6.8" font-family='"Liberation Sans", sans-serif' fill="#111" stroke="#111" stroke-width="0.16" text-anchor="end" textLength="3.75" lengthAdjust="spacingAndGlyphs">0</text>
<line x1="51.4" y1="513.23" x2="55.3" y2="513.23" stroke="#111" stroke-width="1.1"/>
<text x="48.8" y="515.53" font-size="6.8" font-family='"Liberation Sans", sans-serif' fill="#111" stroke="#111" stroke-width="0.16" text-anchor="end" textLength="7.5" lengthAdjust="spacingAndGlyphs">20</text>
<line x1="51.4" y1="494.86" x2="55.3" y2="494.86" stroke="#111" stroke-width="1.1"/>
<text x="48.8" y="497.16" font-size="6.8" font-family='"Liberation Sans", sans-serif' fill="#111" stroke="#111" stroke-width="0.16" text-anchor="end" textLength="7.5" lengthAdjust="spacingAndGlyphs">40</text>
<line x1="51.4" y1="476.49" x2="55.3" y2="476.49" stroke="#111" stroke-width="1.1"/>
<text x="48.8" y="478.79" font-size="6.8" font-family='"Liberation Sans", sans-serif' fill="#111" stroke="#111" stroke-width="0.16" text-anchor="end" textLength="7.5" lengthAdjust="spacingAndGlyphs">60</text>
<line x1="51.4" y1="458.12" x2="55.3" y2="458.12" stroke="#111" stroke-width="1.1"/>
<text x="48.8" y="460.42" font-size="6.8" font-family='"Liberation Sans", sans-serif' fill="#111" stroke="#111" stroke-width="0.16" text-anchor="end" textLength="7.5" lengthAdjust="spacingAndGlyphs">80</text>
<line x1="51.4" y1="439.75" x2="55.3" y2="439.75" stroke="#111" stroke-width="1.1"/>
<text x="48.8" y="442.05" font-size="6.8" font-family='"Liberation Sans", sans-serif' fill="#111" stroke="#111" stroke-width="0.16" text-anchor="end" textLength="11.25" lengthAdjust="spacingAndGlyphs">100</text>
<line x1="55.3" y1="531.6" x2="205.6" y2="531.6" stroke="#111" stroke-width="1.5"/>
<line x1="62.2" y1="531.6" x2="62.2" y2="535.9" stroke="#111" stroke-width="1.0"/>
<line x1="71.2" y1="531.6" x2="71.2" y2="535.9" stroke="#111" stroke-width="1.0"/>
<line x1="80.1" y1="531.6" x2="80.1" y2="535.9" stroke="#111" stroke-width="1.0"/>
<line x1="88.8" y1="531.6" x2="88.8" y2="535.9" stroke="#111" stroke-width="1.0"/>
<line x1="98.1" y1="531.6" x2="98.1" y2="535.9" stroke="#111" stroke-width="1.0"/>
<line x1="112.6" y1="531.6" x2="112.6" y2="535.9" stroke="#111" stroke-width="1.0"/>
<line x1="121.3" y1="531.6" x2="121.3" y2="535.9" stroke="#111" stroke-width="1.0"/>
<line x1="130.0" y1="531.6" x2="130.0" y2="535.9" stroke="#111" stroke-width="1.0"/>
<line x1="138.6" y1="531.6" x2="138.6" y2="535.9" stroke="#111" stroke-width="1.0"/>
<line x1="147.5" y1="531.6" x2="147.5" y2="535.9" stroke="#111" stroke-width="1.0"/>
<line x1="162.3" y1="531.6" x2="162.3" y2="535.9" stroke="#111" stroke-width="1.0"/>
<line x1="171.3" y1="531.6" x2="171.3" y2="535.9" stroke="#111" stroke-width="1.0"/>
<line x1="180.0" y1="531.6" x2="180.0" y2="535.9" stroke="#111" stroke-width="1.0"/>
<line x1="188.8" y1="531.6" x2="188.8" y2="535.9" stroke="#111" stroke-width="1.0"/>
<line x1="197.2" y1="531.6" x2="197.2" y2="535.9" stroke="#111" stroke-width="1.0"/>
<text x="65.8" y="542.8" font-size="7.7" font-family='"Liberation Sans", sans-serif' fill="#111" stroke="#111" stroke-width="0.06" text-anchor="end" textLength="4.0" lengthAdjust="spacingAndGlyphs" transform="rotate(-45 65.8 542.8)">0</text>
<text x="75.2" y="542.8" font-size="7.7" font-family='"Liberation Sans", sans-serif' fill="#111" stroke="#111" stroke-width="0.06" text-anchor="end" textLength="8.2" lengthAdjust="spacingAndGlyphs" transform="rotate(-45 75.2 542.8)">20</text>
<text x="84.19999999999999" y="542.8" font-size="7.7" font-family='"Liberation Sans", sans-serif' fill="#111" stroke="#111" stroke-width="0.06" text-anchor="end" textLength="8.2" lengthAdjust="spacingAndGlyphs" transform="rotate(-45 84.19999999999999 542.8)">50</text>
<text x="93.5" y="542.8" font-size="7.7" font-family='"Liberation Sans", sans-serif' fill="#111" stroke="#111" stroke-width="0.06" text-anchor="end" textLength="12.4" lengthAdjust="spacingAndGlyphs" transform="rotate(-45 93.5 542.8)">100</text>
<text x="103.5" y="542.8" font-size="7.7" font-family='"Liberation Sans", sans-serif' fill="#111" stroke="#111" stroke-width="0.06" text-anchor="end" textLength="12.4" lengthAdjust="spacingAndGlyphs" transform="rotate(-45 103.5 542.8)">250</text>
<text x="116.19999999999999" y="542.8" font-size="7.7" font-family='"Liberation Sans", sans-serif' fill="#111" stroke="#111" stroke-width="0.06" text-anchor="end" textLength="4.0" lengthAdjust="spacingAndGlyphs" transform="rotate(-45 116.19999999999999 542.8)">0</text>
<text x="125.3" y="542.8" font-size="7.7" font-family='"Liberation Sans", sans-serif' fill="#111" stroke="#111" stroke-width="0.06" text-anchor="end" textLength="8.2" lengthAdjust="spacingAndGlyphs" transform="rotate(-45 125.3 542.8)">20</text>
<text x="134.1" y="542.8" font-size="7.7" font-family='"Liberation Sans", sans-serif' fill="#111" stroke="#111" stroke-width="0.06" text-anchor="end" textLength="8.2" lengthAdjust="spacingAndGlyphs" transform="rotate(-45 134.1 542.8)">50</text>
<text x="143.29999999999998" y="542.8" font-size="7.7" font-family='"Liberation Sans", sans-serif' fill="#111" stroke="#111" stroke-width="0.06" text-anchor="end" textLength="12.4" lengthAdjust="spacingAndGlyphs" transform="rotate(-45 143.29999999999998 542.8)">100</text>
<text x="152.9" y="542.8" font-size="7.7" font-family='"Liberation Sans", sans-serif' fill="#111" stroke="#111" stroke-width="0.06" text-anchor="end" textLength="12.4" lengthAdjust="spacingAndGlyphs" transform="rotate(-45 152.9 542.8)">250</text>
<text x="165.9" y="542.8" font-size="7.7" font-family='"Liberation Sans", sans-serif' fill="#111" stroke="#111" stroke-width="0.06" text-anchor="end" textLength="4.0" lengthAdjust="spacingAndGlyphs" transform="rotate(-45 165.9 542.8)">0</text>
<text x="175.3" y="542.8" font-size="7.7" font-family='"Liberation Sans", sans-serif' fill="#111" stroke="#111" stroke-width="0.06" text-anchor="end" textLength="8.2" lengthAdjust="spacingAndGlyphs" transform="rotate(-45 175.3 542.8)">20</text>
<text x="184.1" y="542.8" font-size="7.7" font-family='"Liberation Sans", sans-serif' fill="#111" stroke="#111" stroke-width="0.06" text-anchor="end" textLength="8.2" lengthAdjust="spacingAndGlyphs" transform="rotate(-45 184.1 542.8)">50</text>
<text x="193.5" y="542.8" font-size="7.7" font-family='"Liberation Sans", sans-serif' fill="#111" stroke="#111" stroke-width="0.06" text-anchor="end" textLength="12.4" lengthAdjust="spacingAndGlyphs" transform="rotate(-45 193.5 542.8)">100</text>
<text x="202.6" y="542.8" font-size="7.7" font-family='"Liberation Sans", sans-serif' fill="#111" stroke="#111" stroke-width="0.06" text-anchor="end" textLength="12.4" lengthAdjust="spacingAndGlyphs" transform="rotate(-45 202.6 542.8)">250</text>
<text x="30.6" y="477.2" font-size="9.6" font-family='"Liberation Sans", sans-serif' fill="#111" stroke="#111" stroke-width="0.16" text-anchor="middle" textLength="73.8" lengthAdjust="spacingAndGlyphs" transform="rotate(-90 30.6 477.2)">% non-viable cells</text>
<text x="109.6" y="565.0" font-size="9.2" font-family='"Liberation Sans", sans-serif' fill="#111" stroke="#111" stroke-width="0.16" textLength="41.5" lengthAdjust="spacingAndGlyphs">nM, 48 hrs</text>
<path d="M65.50 426.55L67.25 428.30L65.50 430.05L63.75 428.30Z" fill="#b8283e" stroke="#0a0a0a" stroke-width="0.8"/>
<text x="70.8" y="430.3" font-size="6.0" font-family='"Liberation Sans", sans-serif' fill="#111" stroke="#111" stroke-width="0.1" textLength="29.200000000000003" lengthAdjust="spacingAndGlyphs">Anisomycin</text>
<path d="M65.50 436.45L67.20 440.75L63.80 440.75Z" fill="#3d6096" stroke="#0a0a0a" stroke-width="0.8"/>
<text x="70.8" y="440.8" font-size="6.0" font-family='"Liberation Sans", sans-serif' fill="#111" stroke="#111" stroke-width="0.1" textLength="31.200000000000003" lengthAdjust="spacingAndGlyphs">Cinobufagin</text>
<path d="M65.50 451.65L67.20 447.35L63.80 447.35Z" fill="#66a636" stroke="#0a0a0a" stroke-width="0.8"/>
<text x="70.8" y="451.3" font-size="6.0" font-family='"Liberation Sans", sans-serif' fill="#111" stroke="#111" stroke-width="0.1" textLength="30.5" lengthAdjust="spacingAndGlyphs">Narciclasine</text>
<line x1="68.10000000000001" y1="517.7" x2="74.7" y2="517.7" stroke="#2a2a2a" stroke-width="1.25"/>
<line x1="77.3" y1="508.8" x2="83.89999999999999" y2="508.8" stroke="#2a2a2a" stroke-width="1.25"/>
<line x1="85.9" y1="501.9" x2="92.5" y2="501.9" stroke="#2a2a2a" stroke-width="1.25"/>
<line x1="94.8" y1="491.6" x2="101.39999999999999" y2="491.6" stroke="#2a2a2a" stroke-width="1.25"/>
<line x1="109.2" y1="521.3" x2="115.8" y2="521.3" stroke="#2a2a2a" stroke-width="1.25"/>
<line x1="118.10000000000001" y1="517.1" x2="124.7" y2="517.1" stroke="#2a2a2a" stroke-width="1.25"/>
<line x1="125.8" y1="509.4" x2="132.4" y2="509.4" stroke="#2a2a2a" stroke-width="1.25"/>
<line x1="135.29999999999998" y1="506.4" x2="141.9" y2="506.4" stroke="#2a2a2a" stroke-width="1.25"/>
<line x1="144.2" y1="495.4" x2="150.8" y2="495.4" stroke="#2a2a2a" stroke-width="1.25"/>
<line x1="167.79999999999998" y1="512.1" x2="174.4" y2="512.1" stroke="#2a2a2a" stroke-width="1.25"/>
<line x1="175.79999999999998" y1="490.3" x2="182.4" y2="490.3" stroke="#2a2a2a" stroke-width="1.25"/>
<line x1="184.89999999999998" y1="484.5" x2="191.5" y2="484.5" stroke="#2a2a2a" stroke-width="1.25"/>
<line x1="193.89999999999998" y1="481.6" x2="200.5" y2="481.6" stroke="#2a2a2a" stroke-width="1.25"/>
<line x1="58.900000000000006" y1="519.5" x2="65.5" y2="519.5" stroke="#2a2a2a" stroke-width="1.25"/>
<line x1="159.0" y1="520.5" x2="165.60000000000002" y2="520.5" stroke="#2a2a2a" stroke-width="1.25"/>
<path d="M59.50 515.65L61.55 517.70L59.50 519.75L57.45 517.70Z" fill="#b8283e" stroke="#0a0a0a" stroke-width="0.8"/>
<path d="M59.50 521.35L61.55 523.40L59.50 525.45L57.45 523.40Z" fill="#b8283e" stroke="#0a0a0a" stroke-width="0.8"/>
<path d="M62.20 524.35L64.25 526.40L62.20 528.45L60.15 526.40Z" fill="#b8283e" stroke="#0a0a0a" stroke-width="0.8"/>
<path d="M64.00 516.85L66.05 518.90L64.00 520.95L61.95 518.90Z" fill="#b8283e" stroke="#0a0a0a" stroke-width="0.8"/>
<path d="M64.30 518.95L66.35 521.00L64.30 523.05L62.25 521.00Z" fill="#b8283e" stroke="#0a0a0a" stroke-width="0.8"/>
<path d="M66.00 520.35L68.05 522.40L66.00 524.45L63.95 522.40Z" fill="#b8283e" stroke="#0a0a0a" stroke-width="0.8"/>
<path d="M71.40 506.15L73.45 508.20L71.40 510.25L69.35 508.20Z" fill="#b8283e" stroke="#0a0a0a" stroke-width="0.8"/>
<path d="M71.40 511.85L73.45 513.90L71.40 515.95L69.35 513.90Z" fill="#b8283e" stroke="#0a0a0a" stroke-width="0.8"/>
<path d="M71.40 516.85L73.45 518.90L71.40 520.95L69.35 518.90Z" fill="#b8283e" stroke="#0a0a0a" stroke-width="0.8"/>
<path d="M71.40 522.15L73.45 524.20L71.40 526.25L69.35 524.20Z" fill="#b8283e" stroke="#0a0a0a" stroke-width="0.8"/>
<path d="M80.30 484.75L82.35 486.80L80.30 488.85L78.25 486.80Z" fill="#b8283e" stroke="#0a0a0a" stroke-width="0.8"/>
<path d="M79.10 498.45L81.15 500.50L79.10 502.55L77.05 500.50Z" fill="#b8283e" stroke="#0a0a0a" stroke-width="0.8"/>
<path d="M83.80 497.85L85.85 499.90L83.80 501.95L81.75 499.90Z" fill="#b8283e" stroke="#0a0a0a" stroke-width="0.8"/>
<path d="M77.00 510.95L79.05 513.00L77.00 515.05L74.95 513.00Z" fill="#b8283e" stroke="#0a0a0a" stroke-width="0.8"/>
<path d="M79.70 513.85L81.75 515.90L79.70 517.95L77.65 515.90Z" fill="#b8283e" stroke="#0a0a0a" stroke-width="0.8"/>
<path d="M81.50 515.05L83.55 517.10L81.50 519.15L79.45 517.10Z" fill="#b8283e" stroke="#0a0a0a" stroke-width="0.8"/>
<path d="M83.80 512.65L85.85 514.70L83.80 516.75L81.75 514.70Z" fill="#b8283e" stroke="#0a0a0a" stroke-width="0.8"/>
<path d="M80.60 525.35L82.65 527.40L80.60 529.45L78.55 527.40Z" fill="#b8283e" stroke="#0a0a0a" stroke-width="0.8"/>
<path d="M85.90 480.25L87.95 482.30L85.90 484.35L83.85 482.30Z" fill="#b8283e" stroke="#0a0a0a" stroke-width="0.8"/>
<path d="M89.20 471.15L91.25 473.20L89.20 475.25L87.15 473.20Z" fill="#b8283e" stroke="#0a0a0a" stroke-width="0.8"/>
<path d="M90.60 481.75L92.65 483.80L90.60 485.85L88.55 483.80Z" fill="#b8283e" stroke="#0a0a0a" stroke-width="0.8"/>
<path d="M89.20 492.45L91.25 494.50L89.20 496.55L87.15 494.50Z" fill="#b8283e" stroke="#0a0a0a" stroke-width="0.8"/>
<path d="M89.20 509.45L91.25 511.50L89.20 513.55L87.15 511.50Z" fill="#b8283e" stroke="#0a0a0a" stroke-width="0.8"/>
<path d="M89.20 519.25L91.25 521.30L89.20 523.35L87.15 521.30Z" fill="#b8283e" stroke="#0a0a0a" stroke-width="0.8"/>
<path d="M89.20 521.35L91.25 523.40L89.20 525.45L87.15 523.40Z" fill="#b8283e" stroke="#0a0a0a" stroke-width="0.8"/>
<path d="M89.20 523.95L91.25 526.00L89.20 528.05L87.15 526.00Z" fill="#b8283e" stroke="#0a0a0a" stroke-width="0.8"/>
<path d="M97.90 456.25L99.95 458.30L97.90 460.35L95.85 458.30Z" fill="#b8283e" stroke="#0a0a0a" stroke-width="0.8"/>
<path d="M94.90 472.65L96.95 474.70L94.90 476.75L92.85 474.70Z" fill="#b8283e" stroke="#0a0a0a" stroke-width="0.8"/>
<path d="M97.90 470.55L99.95 472.60L97.90 474.65L95.85 472.60Z" fill="#b8283e" stroke="#0a0a0a" stroke-width="0.8"/>
<path d="M99.30 478.55L101.35 480.60L99.30 482.65L97.25 480.60Z" fill="#b8283e" stroke="#0a0a0a" stroke-width="0.8"/>
<path d="M94.90 508.75L96.95 510.80L94.90 512.85L92.85 510.80Z" fill="#b8283e" stroke="#0a0a0a" stroke-width="0.8"/>
<path d="M97.30 511.45L99.35 513.50L97.30 515.55L95.25 513.50Z" fill="#b8283e" stroke="#0a0a0a" stroke-width="0.8"/>
<path d="M101.30 508.55L103.35 510.60L101.30 512.65L99.25 510.60Z" fill="#b8283e" stroke="#0a0a0a" stroke-width="0.8"/>
<path d="M99.00 510.25L101.05 512.30L99.00 514.35L96.95 512.30Z" fill="#b8283e" stroke="#0a0a0a" stroke-width="0.8"/>
<path d="M112.50 515.95L114.45 520.25L110.55 520.25Z" fill="#3d6096" stroke="#0a0a0a" stroke-width="0.8"/>
<path d="M112.50 518.95L114.45 523.25L110.55 523.25Z" fill="#3d6096" stroke="#0a0a0a" stroke-width="0.8"/>
<path d="M112.50 521.25L114.45 525.55L110.55 525.55Z" fill="#3d6096" stroke="#0a0a0a" stroke-width="0.8"/>
<path d="M112.50 524.65L114.45 528.95L110.55 528.95Z" fill="#3d6096" stroke="#0a0a0a" stroke-width="0.8"/>
<path d="M119.60 507.65L121.55 511.95L117.65 511.95Z" fill="#3d6096" stroke="#0a0a0a" stroke-width="0.8"/>
<path d="M121.40 512.35L123.35 516.65L119.45 516.65Z" fill="#3d6096" stroke="#0a0a0a" stroke-width="0.8"/>
<path d="M121.40 514.75L123.35 519.05L119.45 519.05Z" fill="#3d6096" stroke="#0a0a0a" stroke-width="0.8"/>
<path d="M121.40 517.15L123.35 521.45L119.45 521.45Z" fill="#3d6096" stroke="#0a0a0a" stroke-width="0.8"/>
<path d="M121.40 519.55L123.35 523.85L119.45 523.85Z" fill="#3d6096" stroke="#0a0a0a" stroke-width="0.8"/>
<path d="M121.40 521.85L123.35 526.15L119.45 526.15Z" fill="#3d6096" stroke="#0a0a0a" stroke-width="0.8"/>
<path d="M121.40 524.65L123.35 528.95L119.45 528.95Z" fill="#3d6096" stroke="#0a0a0a" stroke-width="0.8"/>
<path d="M124.70 502.85L126.65 507.15L122.75 507.15Z" fill="#3d6096" stroke="#0a0a0a" stroke-width="0.8"/>
<path d="M127.90 505.85L129.85 510.15L125.95 510.15Z" fill="#3d6096" stroke="#0a0a0a" stroke-width="0.8"/>
<path d="M130.30 475.55L132.25 479.85L128.35 479.85Z" fill="#3d6096" stroke="#0a0a0a" stroke-width="0.8"/>
<path d="M131.80 512.75L133.75 517.05L129.85 517.05Z" fill="#3d6096" stroke="#0a0a0a" stroke-width="0.8"/>
<path d="M130.30 516.55L132.25 520.85L128.35 520.85Z" fill="#3d6096" stroke="#0a0a0a" stroke-width="0.8"/>
<path d="M129.90 522.45L131.85 526.75L127.95 526.75Z" fill="#3d6096" stroke="#0a0a0a" stroke-width="0.8"/>
<path d="M139.00 471.95L140.95 476.25L137.05 476.25Z" fill="#3d6096" stroke="#0a0a0a" stroke-width="0.8"/>
<path d="M133.30 502.25L135.25 506.55L131.35 506.55Z" fill="#3d6096" stroke="#0a0a0a" stroke-width="0.8"/>
<path d="M138.60 500.55L140.55 504.85L136.65 504.85Z" fill="#3d6096" stroke="#0a0a0a" stroke-width="0.8"/>
<path d="M138.60 502.85L140.55 507.15L136.65 507.15Z" fill="#3d6096" stroke="#0a0a0a" stroke-width="0.8"/>
<path d="M138.60 511.75L140.55 516.05L136.65 516.05Z" fill="#3d6096" stroke="#0a0a0a" stroke-width="0.8"/>
<path d="M138.60 514.75L140.55 519.05L136.65 519.05Z" fill="#3d6096" stroke="#0a0a0a" stroke-width="0.8"/>
<path d="M138.60 519.55L140.55 523.85L136.65 523.85Z" fill="#3d6096" stroke="#0a0a0a" stroke-width="0.8"/>
<path d="M147.50 465.25L149.45 469.55L145.55 469.55Z" fill="#3d6096" stroke="#0a0a0a" stroke-width="0.8"/>
<path d="M146.10 482.05L148.05 486.35L144.15 486.35Z" fill="#3d6096" stroke="#0a0a0a" stroke-width="0.8"/>
<path d="M150.50 482.05L152.45 486.35L148.55 486.35Z" fill="#3d6096" stroke="#0a0a0a" stroke-width="0.8"/>
<path d="M144.20 498.45L146.15 502.75L142.25 502.75Z" fill="#3d6096" stroke="#0a0a0a" stroke-width="0.8"/>
<path d="M149.60 498.45L151.55 502.75L147.65 502.75Z" fill="#3d6096" stroke="#0a0a0a" stroke-width="0.8"/>
<path d="M147.50 503.45L149.45 507.75L145.55 507.75Z" fill="#3d6096" stroke="#0a0a0a" stroke-width="0.8"/>
<path d="M147.50 505.65L149.45 509.95L145.55 509.95Z" fill="#3d6096" stroke="#0a0a0a" stroke-width="0.8"/>
<path d="M147.50 510.05L149.45 514.35L145.55 514.35Z" fill="#3d6096" stroke="#0a0a0a" stroke-width="0.8"/>
<path d="M159.00 519.25L160.95 514.95L157.05 514.95Z" fill="#66a636" stroke="#0a0a0a" stroke-width="0.8"/>
<path d="M159.00 523.85L160.95 519.55L157.05 519.55Z" fill="#66a636" stroke="#0a0a0a" stroke-width="0.8"/>
<path d="M161.30 530.85L163.25 526.55L159.35 526.55Z" fill="#66a636" stroke="#0a0a0a" stroke-width="0.8"/>
<path d="M163.80 521.25L165.75 516.95L161.85 516.95Z" fill="#66a636" stroke="#0a0a0a" stroke-width="0.8"/>
<path d="M163.10 524.65L165.05 520.35L161.15 520.35Z" fill="#66a636" stroke="#0a0a0a" stroke-width="0.8"/>
<path d="M165.70 523.85L167.65 519.55L163.75 519.55Z" fill="#66a636" stroke="#0a0a0a" stroke-width="0.8"/>
<path d="M171.10 491.95L173.05 487.65L169.15 487.65Z" fill="#66a636" stroke="#0a0a0a" stroke-width="0.8"/>
<path d="M171.10 504.95L173.05 500.65L169.15 500.65Z" fill="#66a636" stroke="#0a0a0a" stroke-width="0.8"/>
<path d="M167.40 515.15L169.35 510.85L165.45 510.85Z" fill="#66a636" stroke="#0a0a0a" stroke-width="0.8"/>
<path d="M172.10 518.35L174.05 514.05L170.15 514.05Z" fill="#66a636" stroke="#0a0a0a" stroke-width="0.8"/>
<path d="M174.40 522.75L176.35 518.45L172.45 518.45Z" fill="#66a636" stroke="#0a0a0a" stroke-width="0.8"/>
<path d="M169.60 526.75L171.55 522.45L167.65 522.45Z" fill="#66a636" stroke="#0a0a0a" stroke-width="0.8"/>
<path d="M179.80 459.25L181.75 454.95L177.85 454.95Z" fill="#66a636" stroke="#0a0a0a" stroke-width="0.8"/>
<path d="M179.80 471.55L181.75 467.25L177.85 467.25Z" fill="#66a636" stroke="#0a0a0a" stroke-width="0.8"/>
<path d="M179.80 482.45L181.75 478.15L177.85 478.15Z" fill="#66a636" stroke="#0a0a0a" stroke-width="0.8"/>
<path d="M179.80 506.45L181.75 502.15L177.85 502.15Z" fill="#66a636" stroke="#0a0a0a" stroke-width="0.8"/>
<path d="M179.80 513.45L181.75 509.15L177.85 509.15Z" fill="#66a636" stroke="#0a0a0a" stroke-width="0.8"/>
<path d="M179.80 521.25L181.75 516.95L177.85 516.95Z" fill="#66a636" stroke="#0a0a0a" stroke-width="0.8"/>
<path d="M188.50 443.95L190.45 439.65L186.55 439.65Z" fill="#66a636" stroke="#0a0a0a" stroke-width="0.8"/>
<path d="M188.50 458.95L190.45 454.65L186.55 454.65Z" fill="#66a636" stroke="#0a0a0a" stroke-width="0.8"/>
<path d="M188.10 483.95L190.05 479.65L186.15 479.65Z" fill="#66a636" stroke="#0a0a0a" stroke-width="0.8"/>
<path d="M188.10 504.25L190.05 499.95L186.15 499.95Z" fill="#66a636" stroke="#0a0a0a" stroke-width="0.8"/>
<path d="M187.00 512.95L188.95 508.65L185.05 508.65Z" fill="#66a636" stroke="#0a0a0a" stroke-width="0.8"/>
<path d="M191.40 512.25L193.35 507.95L189.45 507.95Z" fill="#66a636" stroke="#0a0a0a" stroke-width="0.8"/>
<path d="M197.20 443.25L199.15 438.95L195.25 438.95Z" fill="#66a636" stroke="#0a0a0a" stroke-width="0.8"/>
<path d="M197.20 457.05L199.15 452.75L195.25 452.75Z" fill="#66a636" stroke="#0a0a0a" stroke-width="0.8"/>
<path d="M197.20 481.45L199.15 477.15L195.25 477.15Z" fill="#66a636" stroke="#0a0a0a" stroke-width="0.8"/>
<path d="M197.20 498.85L199.15 494.55L195.25 494.55Z" fill="#66a636" stroke="#0a0a0a" stroke-width="0.8"/>
<path d="M200.80 506.15L202.75 501.85L198.85 501.85Z" fill="#66a636" stroke="#0a0a0a" stroke-width="0.8"/>
<path d="M196.20 511.95L198.15 507.65L194.25 507.65Z" fill="#66a636" stroke="#0a0a0a" stroke-width="0.8"/>
<text x="306.4" y="416.0" font-size="6.8" font-family='"Liberation Sans", sans-serif' fill="#111" stroke="#111" stroke-width="0.16" textLength="100.2" lengthAdjust="spacingAndGlyphs">PD Germline mtRUNX1 FPD/AML</text>
<line x1="281.6" y1="419.3" x2="281.6" y2="532.7" stroke="#111" stroke-width="1.4"/>
<line x1="277.70000000000005" y1="532.2" x2="281.6" y2="532.2" stroke="#111" stroke-width="1.1"/>
<text x="275.0" y="534.5" font-size="7.3" font-family='"Liberation Sans", sans-serif' fill="#111" stroke="#111" stroke-width="0.16" text-anchor="end" textLength="4.0" lengthAdjust="spacingAndGlyphs">0</text>
<line x1="277.70000000000005" y1="516.6500000000001" x2="281.6" y2="516.6500000000001" stroke="#111" stroke-width="1.1"/>
<text x="275.0" y="518.95" font-size="7.3" font-family='"Liberation Sans", sans-serif' fill="#111" stroke="#111" stroke-width="0.16" text-anchor="end" textLength="8.0" lengthAdjust="spacingAndGlyphs">10</text>
<line x1="277.70000000000005" y1="501.1" x2="281.6" y2="501.1" stroke="#111" stroke-width="1.1"/>
<text x="275.0" y="503.40000000000003" font-size="7.3" font-family='"Liberation Sans", sans-serif' fill="#111" stroke="#111" stroke-width="0.16" text-anchor="end" textLength="8.0" lengthAdjust="spacingAndGlyphs">20</text>
<line x1="277.70000000000005" y1="485.55000000000007" x2="281.6" y2="485.55000000000007" stroke="#111" stroke-width="1.1"/>
<text x="275.0" y="487.8500000000001" font-size="7.3" font-family='"Liberation Sans", sans-serif' fill="#111" stroke="#111" stroke-width="0.16" text-anchor="end" textLength="8.0" lengthAdjust="spacingAndGlyphs">30</text>
<line x1="277.70000000000005" y1="470.00000000000006" x2="281.6" y2="470.00000000000006" stroke="#111" stroke-width="1.1"/>
<text x="275.0" y="472.30000000000007" font-size="7.3" font-family='"Liberation Sans", sans-serif' fill="#111" stroke="#111" stroke-width="0.16" text-anchor="end" textLength="8.0" lengthAdjust="spacingAndGlyphs">40</text>
<line x1="277.70000000000005" y1="454.45000000000005" x2="281.6" y2="454.45000000000005" stroke="#111" stroke-width="1.1"/>
<text x="275.0" y="456.75000000000006" font-size="7.3" font-family='"Liberation Sans", sans-serif' fill="#111" stroke="#111" stroke-width="0.16" text-anchor="end" textLength="8.0" lengthAdjust="spacingAndGlyphs">50</text>
<line x1="277.70000000000005" y1="438.90000000000003" x2="281.6" y2="438.90000000000003" stroke="#111" stroke-width="1.1"/>
<text x="275.0" y="441.20000000000005" font-size="7.3" font-family='"Liberation Sans", sans-serif' fill="#111" stroke="#111" stroke-width="0.16" text-anchor="end" textLength="8.0" lengthAdjust="spacingAndGlyphs">60</text>
<line x1="277.70000000000005" y1="423.35" x2="281.6" y2="423.35" stroke="#111" stroke-width="1.1"/>
<text x="275.0" y="425.65000000000003" font-size="7.3" font-family='"Liberation Sans", sans-serif' fill="#111" stroke="#111" stroke-width="0.16" text-anchor="end" textLength="8.0" lengthAdjust="spacingAndGlyphs">70</text>
<line x1="281.6" y1="532.2" x2="432.0" y2="532.2" stroke="#111" stroke-width="1.5"/>
<line x1="290.5" y1="532.2" x2="290.5" y2="536.5" stroke="#111" stroke-width="1.0"/>
<line x1="301.2" y1="532.2" x2="301.2" y2="536.5" stroke="#111" stroke-width="1.0"/>
<line x1="312.0" y1="532.2" x2="312.0" y2="536.5" stroke="#111" stroke-width="1.0"/>
<line x1="322.4" y1="532.2" x2="322.4" y2="536.5" stroke="#111" stroke-width="1.0"/>
<line x1="340.5" y1="532.2" x2="340.5" y2="536.5" stroke="#111" stroke-width="1.0"/>
<line x1="351.4" y1="532.2" x2="351.4" y2="536.5" stroke="#111" stroke-width="1.0"/>
<line x1="362.2" y1="532.2" x2="362.2" y2="536.5" stroke="#111" stroke-width="1.0"/>
<line x1="373.0" y1="532.2" x2="373.0" y2="536.5" stroke="#111" stroke-width="1.0"/>
<line x1="390.5" y1="532.2" x2="390.5" y2="536.5" stroke="#111" stroke-width="1.0"/>
<line x1="401.5" y1="532.2" x2="401.5" y2="536.5" stroke="#111" stroke-width="1.0"/>
<line x1="412.2" y1="532.2" x2="412.2" y2="536.5" stroke="#111" stroke-width="1.0"/>
<line x1="422.6" y1="532.2" x2="422.6" y2="536.5" stroke="#111" stroke-width="1.0"/>
<text x="294.1" y="543.4" font-size="7.7" font-family='"Liberation Sans", sans-serif' fill="#111" stroke="#111" stroke-width="0.06" text-anchor="end" textLength="4.0" lengthAdjust="spacingAndGlyphs" transform="rotate(-45 294.1 543.4)">0</text>
<text x="305.3" y="543.4" font-size="7.7" font-family='"Liberation Sans", sans-serif' fill="#111" stroke="#111" stroke-width="0.06" text-anchor="end" textLength="8.2" lengthAdjust="spacingAndGlyphs" transform="rotate(-45 305.3 543.4)">50</text>
<text x="316.7" y="543.4" font-size="7.7" font-family='"Liberation Sans", sans-serif' fill="#111" stroke="#111" stroke-width="0.06" text-anchor="end" textLength="12.4" lengthAdjust="spacingAndGlyphs" transform="rotate(-45 316.7 543.4)">100</text>
<text x="327.79999999999995" y="543.4" font-size="7.7" font-family='"Liberation Sans", sans-serif' fill="#111" stroke="#111" stroke-width="0.06" text-anchor="end" textLength="12.4" lengthAdjust="spacingAndGlyphs" transform="rotate(-45 327.79999999999995 543.4)">250</text>
<text x="344.1" y="543.4" font-size="7.7" font-family='"Liberation Sans", sans-serif' fill="#111" stroke="#111" stroke-width="0.06" text-anchor="end" textLength="4.0" lengthAdjust="spacingAndGlyphs" transform="rotate(-45 344.1 543.4)">0</text>
<text x="355.5" y="543.4" font-size="7.7" font-family='"Liberation Sans", sans-serif' fill="#111" stroke="#111" stroke-width="0.06" text-anchor="end" textLength="8.2" lengthAdjust="spacingAndGlyphs" transform="rotate(-45 355.5 543.4)">50</text>
<text x="366.9" y="543.4" font-size="7.7" font-family='"Liberation Sans", sans-serif' fill="#111" stroke="#111" stroke-width="0.06" text-anchor="end" textLength="12.4" lengthAdjust="spacingAndGlyphs" transform="rotate(-45 366.9 543.4)">100</text>
<text x="378.4" y="543.4" font-size="7.7" font-family='"Liberation Sans", sans-serif' fill="#111" stroke="#111" stroke-width="0.06" text-anchor="end" textLength="12.4" lengthAdjust="spacingAndGlyphs" transform="rotate(-45 378.4 543.4)">250</text>
<text x="394.1" y="543.4" font-size="7.7" font-family='"Liberation Sans", sans-serif' fill="#111" stroke="#111" stroke-width="0.06" text-anchor="end" textLength="4.0" lengthAdjust="spacingAndGlyphs" transform="rotate(-45 394.1 543.4)">0</text>
<text x="405.6" y="543.4" font-size="7.7" font-family='"Liberation Sans", sans-serif' fill="#111" stroke="#111" stroke-width="0.06" text-anchor="end" textLength="8.2" lengthAdjust="spacingAndGlyphs" transform="rotate(-45 405.6 543.4)">50</text>
<text x="416.9" y="543.4" font-size="7.7" font-family='"Liberation Sans", sans-serif' fill="#111" stroke="#111" stroke-width="0.06" text-anchor="end" textLength="12.4" lengthAdjust="spacingAndGlyphs" transform="rotate(-45 416.9 543.4)">100</text>
<text x="428.0" y="543.4" font-size="7.7" font-family='"Liberation Sans", sans-serif' fill="#111" stroke="#111" stroke-width="0.06" text-anchor="end" textLength="12.4" lengthAdjust="spacingAndGlyphs" transform="rotate(-45 428.0 543.4)">250</text>
<text x="261.3" y="475.9" font-size="9.6" font-family='"Liberation Sans", sans-serif' fill="#111" stroke="#111" stroke-width="0.16" text-anchor="middle" textLength="73.0" lengthAdjust="spacingAndGlyphs" transform="rotate(-90 261.3 475.9)">% non-viable cells</text>
<text x="288.6" y="563.6" font-size="7.0" font-family='"Liberation Sans", sans-serif' fill="#111" stroke="#111" stroke-width="0.08" textLength="35.4" lengthAdjust="spacingAndGlyphs">Anisomycin</text>
<text x="337.9" y="563.6" font-size="7.0" font-family='"Liberation Sans", sans-serif' fill="#111" stroke="#111" stroke-width="0.08" textLength="37.4" lengthAdjust="spacingAndGlyphs">Cinobufagin</text>
<text x="387.8" y="563.6" font-size="7.0" font-family='"Liberation Sans", sans-serif' fill="#111" stroke="#111" stroke-width="0.08" textLength="36.8" lengthAdjust="spacingAndGlyphs">Narciclasine</text>
<text x="335.8" y="576.6" font-size="9.2" font-family='"Liberation Sans", sans-serif' fill="#111" stroke="#111" stroke-width="0.16" textLength="42.2" lengthAdjust="spacingAndGlyphs">nM, 48 hrs</text>
<path d="M287.60 426.55L289.80 430.85L285.40 430.85Z" fill="#74b84a" stroke="#0a0a0a" stroke-width="0.8"/>
<text x="292.6" y="430.9" font-size="6.0" font-family='"Liberation Sans", sans-serif' fill="#111" stroke="#111" stroke-width="0.16" textLength="11.0" lengthAdjust="spacingAndGlyphs">AML</text>
<path d="M287.60 435.75L289.65 437.80L287.60 439.85L285.55 437.80Z" fill="#b8283e" stroke="#0a0a0a" stroke-width="0.8"/>
<text x="292.6" y="439.8" font-size="6.0" font-family='"Liberation Sans", sans-serif' fill="#111" stroke="#111" stroke-width="0.16" textLength="10.5" lengthAdjust="spacingAndGlyphs">FPD</text>
<line x1="287.2" y1="512.5" x2="293.8" y2="512.5" stroke="#2a2a2a" stroke-width="1.25"/>
<line x1="297.9" y1="507" x2="304.5" y2="507" stroke="#2a2a2a" stroke-width="1.25"/>
<line x1="308.7" y1="501.2" x2="315.3" y2="501.2" stroke="#2a2a2a" stroke-width="1.25"/>
<line x1="319.09999999999997" y1="486.2" x2="325.7" y2="486.2" stroke="#2a2a2a" stroke-width="1.25"/>
<line x1="337.2" y1="512.5" x2="343.8" y2="512.5" stroke="#2a2a2a" stroke-width="1.25"/>
<line x1="348.09999999999997" y1="505.5" x2="354.7" y2="505.5" stroke="#2a2a2a" stroke-width="1.25"/>
<line x1="358.9" y1="501.9" x2="365.5" y2="501.9" stroke="#2a2a2a" stroke-width="1.25"/>
<line x1="369.7" y1="493.2" x2="376.3" y2="493.2" stroke="#2a2a2a" stroke-width="1.25"/>
<line x1="387.2" y1="512.8" x2="393.8" y2="512.8" stroke="#2a2a2a" stroke-width="1.25"/>
<line x1="398.2" y1="504.8" x2="404.8" y2="504.8" stroke="#2a2a2a" stroke-width="1.25"/>
<line x1="408.9" y1="496.8" x2="415.5" y2="496.8" stroke="#2a2a2a" stroke-width="1.25"/>
<line x1="419.5" y1="485.5" x2="426.1" y2="485.5" stroke="#2a2a2a" stroke-width="1.25"/>
<path d="M287.10 505.35L289.30 509.65L284.90 509.65Z" fill="#74b84a" stroke="#0a0a0a" stroke-width="0.8"/>
<path d="M292.10 506.05L294.30 510.35L289.90 510.35Z" fill="#74b84a" stroke="#0a0a0a" stroke-width="0.8"/>
<path d="M286.40 512.35L288.60 516.65L284.20 516.65Z" fill="#74b84a" stroke="#0a0a0a" stroke-width="0.8"/>
<path d="M293.80 512.75L296.00 517.05L291.60 517.05Z" fill="#74b84a" stroke="#0a0a0a" stroke-width="0.8"/>
<path d="M301.20 481.15L303.40 485.45L299.00 485.45Z" fill="#74b84a" stroke="#0a0a0a" stroke-width="0.8"/>
<path d="M301.20 499.25L303.40 503.55L299.00 503.55Z" fill="#74b84a" stroke="#0a0a0a" stroke-width="0.8"/>
<path d="M303.90 506.05L306.10 510.35L301.70 510.35Z" fill="#74b84a" stroke="#0a0a0a" stroke-width="0.8"/>
<path d="M299.90 508.65L302.10 512.95L297.70 512.95Z" fill="#74b84a" stroke="#0a0a0a" stroke-width="0.8"/>
<path d="M312.00 475.05L314.20 479.35L309.80 479.35Z" fill="#74b84a" stroke="#0a0a0a" stroke-width="0.8"/>
<path d="M312.40 491.85L314.60 496.15L310.20 496.15Z" fill="#74b84a" stroke="#0a0a0a" stroke-width="0.8"/>
<path d="M312.00 501.95L314.20 506.25L309.80 506.25Z" fill="#74b84a" stroke="#0a0a0a" stroke-width="0.8"/>
<path d="M321.00 486.45L323.20 490.75L318.80 490.75Z" fill="#74b84a" stroke="#0a0a0a" stroke-width="0.8"/>
<path d="M326.10 485.85L328.30 490.15L323.90 490.15Z" fill="#74b84a" stroke="#0a0a0a" stroke-width="0.8"/>
<path d="M322.50 443.45L324.70 447.75L320.30 447.75Z" fill="#74b84a" stroke="#0a0a0a" stroke-width="0.8"/>
<path d="M322.50 463.45L324.70 467.75L320.30 467.75Z" fill="#74b84a" stroke="#0a0a0a" stroke-width="0.8"/>
<path d="M337.20 505.35L339.40 509.65L335.00 509.65Z" fill="#74b84a" stroke="#0a0a0a" stroke-width="0.8"/>
<path d="M342.30 506.05L344.50 510.35L340.10 510.35Z" fill="#74b84a" stroke="#0a0a0a" stroke-width="0.8"/>
<path d="M337.20 511.85L339.40 516.15L335.00 516.15Z" fill="#74b84a" stroke="#0a0a0a" stroke-width="0.8"/>
<path d="M344.00 512.65L346.20 516.95L341.80 516.95Z" fill="#74b84a" stroke="#0a0a0a" stroke-width="0.8"/>
<path d="M351.40 463.25L353.60 467.55L349.20 467.55Z" fill="#74b84a" stroke="#0a0a0a" stroke-width="0.8"/>
<path d="M351.40 504.65L353.60 508.95L349.20 508.95Z" fill="#74b84a" stroke="#0a0a0a" stroke-width="0.8"/>
<path d="M354.60 511.85L356.80 516.15L352.40 516.15Z" fill="#74b84a" stroke="#0a0a0a" stroke-width="0.8"/>
<path d="M362.20 450.15L364.40 454.45L360.00 454.45Z" fill="#74b84a" stroke="#0a0a0a" stroke-width="0.8"/>
<path d="M362.20 488.35L364.40 492.65L360.00 492.65Z" fill="#74b84a" stroke="#0a0a0a" stroke-width="0.8"/>
<path d="M362.20 502.85L364.40 507.15L360.00 507.15Z" fill="#74b84a" stroke="#0a0a0a" stroke-width="0.8"/>
<path d="M362.20 506.75L364.40 511.05L360.00 511.05Z" fill="#74b84a" stroke="#0a0a0a" stroke-width="0.8"/>
<path d="M373.00 429.85L375.20 434.15L370.80 434.15Z" fill="#74b84a" stroke="#0a0a0a" stroke-width="0.8"/>
<path d="M373.00 447.25L375.20 451.55L370.80 451.55Z" fill="#74b84a" stroke="#0a0a0a" stroke-width="0.8"/>
<path d="M371.30 501.75L373.50 506.05L369.10 506.05Z" fill="#74b84a" stroke="#0a0a0a" stroke-width="0.8"/>
<path d="M376.70 498.85L378.90 503.15L374.50 503.15Z" fill="#74b84a" stroke="#0a0a0a" stroke-width="0.8"/>
<path d="M387.30 505.35L389.50 509.65L385.10 509.65Z" fill="#74b84a" stroke="#0a0a0a" stroke-width="0.8"/>
<path d="M392.30 506.05L394.50 510.35L390.10 510.35Z" fill="#74b84a" stroke="#0a0a0a" stroke-width="0.8"/>
<path d="M391.60 512.65L393.80 516.95L389.40 516.95Z" fill="#74b84a" stroke="#0a0a0a" stroke-width="0.8"/>
<path d="M398.20 498.05L400.40 502.35L396.00 502.35Z" fill="#74b84a" stroke="#0a0a0a" stroke-width="0.8"/>
<path d="M403.20 503.15L405.40 507.45L401.00 507.45Z" fill="#74b84a" stroke="#0a0a0a" stroke-width="0.8"/>
<path d="M404.70 492.75L406.90 497.05L402.50 497.05Z" fill="#74b84a" stroke="#0a0a0a" stroke-width="0.8"/>
<path d="M412.20 474.15L414.40 478.45L410.00 478.45Z" fill="#74b84a" stroke="#0a0a0a" stroke-width="0.8"/>
<path d="M409.00 485.75L411.20 490.05L406.80 490.05Z" fill="#74b84a" stroke="#0a0a0a" stroke-width="0.8"/>
<path d="M412.20 495.15L414.40 499.45L410.00 499.45Z" fill="#74b84a" stroke="#0a0a0a" stroke-width="0.8"/>
<path d="M422.80 438.55L425.00 442.85L420.60 442.85Z" fill="#74b84a" stroke="#0a0a0a" stroke-width="0.8"/>
<path d="M422.80 482.85L425.00 487.15L420.60 487.15Z" fill="#74b84a" stroke="#0a0a0a" stroke-width="0.8"/>
<path d="M422.80 490.05L425.00 494.35L420.60 494.35Z" fill="#74b84a" stroke="#0a0a0a" stroke-width="0.8"/>
<path d="M289.10 512.15L291.35 514.40L289.10 516.65L286.85 514.40Z" fill="#b8283e" stroke="#0a0a0a" stroke-width="0.8"/>
<path d="M291.80 510.15L294.05 512.40L291.80 514.65L289.55 512.40Z" fill="#b8283e" stroke="#0a0a0a" stroke-width="0.8"/>
<path d="M289.80 515.55L292.05 517.80L289.80 520.05L287.55 517.80Z" fill="#b8283e" stroke="#0a0a0a" stroke-width="0.8"/>
<path d="M291.00 513.75L293.25 516.00L291.00 518.25L288.75 516.00Z" fill="#b8283e" stroke="#0a0a0a" stroke-width="0.8"/>
<path d="M297.60 504.35L299.85 506.60L297.60 508.85L295.35 506.60Z" fill="#b8283e" stroke="#0a0a0a" stroke-width="0.8"/>
<path d="M302.60 511.45L304.85 513.70L302.60 515.95L300.35 513.70Z" fill="#b8283e" stroke="#0a0a0a" stroke-width="0.8"/>
<path d="M303.90 514.15L306.15 516.40L303.90 518.65L301.65 516.40Z" fill="#b8283e" stroke="#0a0a0a" stroke-width="0.8"/>
<path d="M299.20 518.25L301.45 520.50L299.20 522.75L296.95 520.50Z" fill="#b8283e" stroke="#0a0a0a" stroke-width="0.8"/>
<path d="M312.00 494.65L314.25 496.90L312.00 499.15L309.75 496.90Z" fill="#b8283e" stroke="#0a0a0a" stroke-width="0.8"/>
<path d="M308.60 507.85L310.85 510.10L308.60 512.35L306.35 510.10Z" fill="#b8283e" stroke="#0a0a0a" stroke-width="0.8"/>
<path d="M314.00 509.25L316.25 511.50L314.00 513.75L311.75 511.50Z" fill="#b8283e" stroke="#0a0a0a" stroke-width="0.8"/>
<path d="M312.00 517.55L314.25 519.80L312.00 522.05L309.75 519.80Z" fill="#b8283e" stroke="#0a0a0a" stroke-width="0.8"/>
<path d="M322.40 475.15L324.65 477.40L322.40 479.65L320.15 477.40Z" fill="#b8283e" stroke="#0a0a0a" stroke-width="0.8"/>
<path d="M322.40 497.65L324.65 499.90L322.40 502.15L320.15 499.90Z" fill="#b8283e" stroke="#0a0a0a" stroke-width="0.8"/>
<path d="M325.90 508.35L328.15 510.60L325.90 512.85L323.65 510.60Z" fill="#b8283e" stroke="#0a0a0a" stroke-width="0.8"/>
<path d="M320.80 514.15L323.05 516.40L320.80 518.65L318.55 516.40Z" fill="#b8283e" stroke="#0a0a0a" stroke-width="0.8"/>
<path d="M338.60 512.75L340.85 515.00L338.60 517.25L336.35 515.00Z" fill="#b8283e" stroke="#0a0a0a" stroke-width="0.8"/>
<path d="M341.50 510.55L343.75 512.80L341.50 515.05L339.25 512.80Z" fill="#b8283e" stroke="#0a0a0a" stroke-width="0.8"/>
<path d="M340.10 515.65L342.35 517.90L340.10 520.15L337.85 517.90Z" fill="#b8283e" stroke="#0a0a0a" stroke-width="0.8"/>
<path d="M351.00 509.05L353.25 511.30L351.00 513.55L348.75 511.30Z" fill="#b8283e" stroke="#0a0a0a" stroke-width="0.8"/>
<path d="M351.40 510.75L353.65 513.00L351.40 515.25L349.15 513.00Z" fill="#b8283e" stroke="#0a0a0a" stroke-width="0.8"/>
<path d="M349.20 517.45L351.45 519.70L349.20 521.95L346.95 519.70Z" fill="#b8283e" stroke="#0a0a0a" stroke-width="0.8"/>
<path d="M362.20 509.75L364.45 512.00L362.20 514.25L359.95 512.00Z" fill="#b8283e" stroke="#0a0a0a" stroke-width="0.8"/>
<path d="M365.50 514.55L367.75 516.80L365.50 519.05L363.25 516.80Z" fill="#b8283e" stroke="#0a0a0a" stroke-width="0.8"/>
<path d="M360.40 518.05L362.65 520.30L360.40 522.55L358.15 520.30Z" fill="#b8283e" stroke="#0a0a0a" stroke-width="0.8"/>
<path d="M369.60 506.15L371.85 508.40L369.60 510.65L367.35 508.40Z" fill="#b8283e" stroke="#0a0a0a" stroke-width="0.8"/>
<path d="M374.50 511.65L376.75 513.90L374.50 516.15L372.25 513.90Z" fill="#b8283e" stroke="#0a0a0a" stroke-width="0.8"/>
<path d="M376.40 515.15L378.65 517.40L376.40 519.65L374.15 517.40Z" fill="#b8283e" stroke="#0a0a0a" stroke-width="0.8"/>
<path d="M371.00 518.75L373.25 521.00L371.00 523.25L368.75 521.00Z" fill="#b8283e" stroke="#0a0a0a" stroke-width="0.8"/>
<path d="M387.30 511.65L389.55 513.90L387.30 516.15L385.05 513.90Z" fill="#b8283e" stroke="#0a0a0a" stroke-width="0.8"/>
<path d="M389.40 514.55L391.65 516.80L389.40 519.05L387.15 516.80Z" fill="#b8283e" stroke="#0a0a0a" stroke-width="0.8"/>
<path d="M394.50 510.25L396.75 512.50L394.50 514.75L392.25 512.50Z" fill="#b8283e" stroke="#0a0a0a" stroke-width="0.8"/>
<path d="M399.60 496.05L401.85 498.30L399.60 500.55L397.35 498.30Z" fill="#b8283e" stroke="#0a0a0a" stroke-width="0.8"/>
<path d="M399.60 515.65L401.85 517.90L399.60 520.15L397.35 517.90Z" fill="#b8283e" stroke="#0a0a0a" stroke-width="0.8"/>
<path d="M405.00 510.55L407.25 512.80L405.00 515.05L402.75 512.80Z" fill="#b8283e" stroke="#0a0a0a" stroke-width="0.8"/>
<path d="M414.10 485.55L416.35 487.80L414.10 490.05L411.85 487.80Z" fill="#b8283e" stroke="#0a0a0a" stroke-width="0.8"/>
<path d="M412.20 509.05L414.45 511.30L412.20 513.55L409.95 511.30Z" fill="#b8283e" stroke="#0a0a0a" stroke-width="0.8"/>
<path d="M412.20 516.05L414.45 518.30L412.20 520.55L409.95 518.30Z" fill="#b8283e" stroke="#0a0a0a" stroke-width="0.8"/>
<path d="M422.80 472.05L425.05 474.30L422.80 476.55L420.55 474.30Z" fill="#b8283e" stroke="#0a0a0a" stroke-width="0.8"/>
<path d="M421.10 510.25L423.35 512.50L421.10 514.75L418.85 512.50Z" fill="#b8283e" stroke="#0a0a0a" stroke-width="0.8"/>
<path d="M426.20 506.65L428.45 508.90L426.20 511.15L423.95 508.90Z" fill="#b8283e" stroke="#0a0a0a" stroke-width="0.8"/>
<text x="102.6" y="602.3" font-size="6.8" font-family='"Liberation Sans", sans-serif' fill="#111" stroke="#111" stroke-width="0.16" textLength="57.6" lengthAdjust="spacingAndGlyphs">PD wtRUNX1 AML</text>
<line x1="55.3" y1="608.0" x2="55.3" y2="718.2" stroke="#111" stroke-width="1.4"/>
<line x1="51.4" y1="717.7" x2="55.3" y2="717.7" stroke="#111" stroke-width="1.1"/>
<text x="48.8" y="720.0" font-size="6.8" font-family='"Liberation Sans", sans-serif' fill="#111" stroke="#111" stroke-width="0.16" text-anchor="end" textLength="3.75" lengthAdjust="spacingAndGlyphs">0</text>
<line x1="51.4" y1="699.24" x2="55.3" y2="699.24" stroke="#111" stroke-width="1.1"/>
<text x="48.8" y="701.54" font-size="6.8" font-family='"Liberation Sans", sans-serif' fill="#111" stroke="#111" stroke-width="0.16" text-anchor="end" textLength="7.5" lengthAdjust="spacingAndGlyphs">20</text>
<line x1="51.4" y1="680.7800000000001" x2="55.3" y2="680.7800000000001" stroke="#111" stroke-width="1.1"/>
<text x="48.8" y="683.08" font-size="6.8" font-family='"Liberation Sans", sans-serif' fill="#111" stroke="#111" stroke-width="0.16" text-anchor="end" textLength="7.5" lengthAdjust="spacingAndGlyphs">40</text>
<line x1="51.4" y1="662.32" x2="55.3" y2="662.32" stroke="#111" stroke-width="1.1"/>
<text x="48.8" y="664.62" font-size="6.8" font-family='"Liberation Sans", sans-serif' fill="#111" stroke="#111" stroke-width="0.16" text-anchor="end" textLength="7.5" lengthAdjust="spacingAndGlyphs">60</text>
<line x1="51.4" y1="643.86" x2="55.3" y2="643.86" stroke="#111" stroke-width="1.1"/>
<text x="48.8" y="646.16" font-size="6.8" font-family='"Liberation Sans", sans-serif' fill="#111" stroke="#111" stroke-width="0.16" text-anchor="end" textLength="7.5" lengthAdjust="spacingAndGlyphs">80</text>
<line x1="51.4" y1="625.4000000000001" x2="55.3" y2="625.4000000000001" stroke="#111" stroke-width="1.1"/>
<text x="48.8" y="627.7" font-size="6.8" font-family='"Liberation Sans", sans-serif' fill="#111" stroke="#111" stroke-width="0.16" text-anchor="end" textLength="11.25" lengthAdjust="spacingAndGlyphs">100</text>
<line x1="55.3" y1="717.7" x2="205.6" y2="717.7" stroke="#111" stroke-width="1.5"/>
<line x1="62.5" y1="717.7" x2="62.5" y2="722.0" stroke="#111" stroke-width="1.0"/>
<line x1="71.3" y1="717.7" x2="71.3" y2="722.0" stroke="#111" stroke-width="1.0"/>
<line x1="80.6" y1="717.7" x2="80.6" y2="722.0" stroke="#111" stroke-width="1.0"/>
<line x1="89.2" y1="717.7" x2="89.2" y2="722.0" stroke="#111" stroke-width="1.0"/>
<line x1="98.2" y1="717.7" x2="98.2" y2="722.0" stroke="#111" stroke-width="1.0"/>
<line x1="112.5" y1="717.7" x2="112.5" y2="722.0" stroke="#111" stroke-width="1.0"/>
<line x1="121.4" y1="717.7" x2="121.4" y2="722.0" stroke="#111" stroke-width="1.0"/>
<line x1="129.9" y1="717.7" x2="129.9" y2="722.0" stroke="#111" stroke-width="1.0"/>
<line x1="138.6" y1="717.7" x2="138.6" y2="722.0" stroke="#111" stroke-width="1.0"/>
<line x1="147.5" y1="717.7" x2="147.5" y2="722.0" stroke="#111" stroke-width="1.0"/>
<line x1="161.9" y1="717.7" x2="161.9" y2="722.0" stroke="#111" stroke-width="1.0"/>
<line x1="171.1" y1="717.7" x2="171.1" y2="722.0" stroke="#111" stroke-width="1.0"/>
<line x1="179.7" y1="717.7" x2="179.7" y2="722.0" stroke="#111" stroke-width="1.0"/>
<line x1="188.6" y1="717.7" x2="188.6" y2="722.0" stroke="#111" stroke-width="1.0"/>
<line x1="197.1" y1="717.7" x2="197.1" y2="722.0" stroke="#111" stroke-width="1.0"/>
<text x="66.1" y="728.8" font-size="7.7" font-family='"Liberation Sans", sans-serif' fill="#111" stroke="#111" stroke-width="0.06" text-anchor="end" textLength="4.0" lengthAdjust="spacingAndGlyphs" transform="rotate(-45 66.1 728.8)">0</text>
<text x="75.3" y="728.8" font-size="7.7" font-family='"Liberation Sans", sans-serif' fill="#111" stroke="#111" stroke-width="0.06" text-anchor="end" textLength="8.2" lengthAdjust="spacingAndGlyphs" transform="rotate(-45 75.3 728.8)">20</text>
<text x="84.69999999999999" y="728.8" font-size="7.7" font-family='"Liberation Sans", sans-serif' fill="#111" stroke="#111" stroke-width="0.06" text-anchor="end" textLength="8.2" lengthAdjust="spacingAndGlyphs" transform="rotate(-45 84.69999999999999 728.8)">50</text>
<text x="93.9" y="728.8" font-size="7.7" font-family='"Liberation Sans", sans-serif' fill="#111" stroke="#111" stroke-width="0.06" text-anchor="end" textLength="12.4" lengthAdjust="spacingAndGlyphs" transform="rotate(-45 93.9 728.8)">100</text>
<text x="103.60000000000001" y="728.8" font-size="7.7" font-family='"Liberation Sans", sans-serif' fill="#111" stroke="#111" stroke-width="0.06" text-anchor="end" textLength="12.4" lengthAdjust="spacingAndGlyphs" transform="rotate(-45 103.60000000000001 728.8)">250</text>
<text x="116.1" y="728.8" font-size="7.7" font-family='"Liberation Sans", sans-serif' fill="#111" stroke="#111" stroke-width="0.06" text-anchor="end" textLength="4.0" lengthAdjust="spacingAndGlyphs" transform="rotate(-45 116.1 728.8)">0</text>
<text x="125.4" y="728.8" font-size="7.7" font-family='"Liberation Sans", sans-serif' fill="#111" stroke="#111" stroke-width="0.06" text-anchor="end" textLength="8.2" lengthAdjust="spacingAndGlyphs" transform="rotate(-45 125.4 728.8)">20</text>
<text x="134.0" y="728.8" font-size="7.7" font-family='"Liberation Sans", sans-serif' fill="#111" stroke="#111" stroke-width="0.06" text-anchor="end" textLength="8.2" lengthAdjust="spacingAndGlyphs" transform="rotate(-45 134.0 728.8)">50</text>
<text x="143.29999999999998" y="728.8" font-size="7.7" font-family='"Liberation Sans", sans-serif' fill="#111" stroke="#111" stroke-width="0.06" text-anchor="end" textLength="12.4" lengthAdjust="spacingAndGlyphs" transform="rotate(-45 143.29999999999998 728.8)">100</text>
<text x="152.9" y="728.8" font-size="7.7" font-family='"Liberation Sans", sans-serif' fill="#111" stroke="#111" stroke-width="0.06" text-anchor="end" textLength="12.4" lengthAdjust="spacingAndGlyphs" transform="rotate(-45 152.9 728.8)">250</text>
<text x="165.5" y="728.8" font-size="7.7" font-family='"Liberation Sans", sans-serif' fill="#111" stroke="#111" stroke-width="0.06" text-anchor="end" textLength="4.0" lengthAdjust="spacingAndGlyphs" transform="rotate(-45 165.5 728.8)">0</text>
<text x="175.1" y="728.8" font-size="7.7" font-family='"Liberation Sans", sans-serif' fill="#111" stroke="#111" stroke-width="0.06" text-anchor="end" textLength="8.2" lengthAdjust="spacingAndGlyphs" transform="rotate(-45 175.1 728.8)">20</text>
<text x="183.79999999999998" y="728.8" font-size="7.7" font-family='"Liberation Sans", sans-serif' fill="#111" stroke="#111" stroke-width="0.06" text-anchor="end" textLength="8.2" lengthAdjust="spacingAndGlyphs" transform="rotate(-45 183.79999999999998 728.8)">50</text>
<text x="193.29999999999998" y="728.8" font-size="7.7" font-family='"Liberation Sans", sans-serif' fill="#111" stroke="#111" stroke-width="0.06" text-anchor="end" textLength="12.4" lengthAdjust="spacingAndGlyphs" transform="rotate(-45 193.29999999999998 728.8)">100</text>
<text x="202.5" y="728.8" font-size="7.7" font-family='"Liberation Sans", sans-serif' fill="#111" stroke="#111" stroke-width="0.06" text-anchor="end" textLength="12.4" lengthAdjust="spacingAndGlyphs" transform="rotate(-45 202.5 728.8)">250</text>
<text x="30.6" y="661.0" font-size="9.6" font-family='"Liberation Sans", sans-serif' fill="#111" stroke="#111" stroke-width="0.16" text-anchor="middle" textLength="73.8" lengthAdjust="spacingAndGlyphs" transform="rotate(-90 30.6 661.0)">% non-viable cells</text>
<text x="109.6" y="750.8" font-size="9.2" font-family='"Liberation Sans", sans-serif' fill="#111" stroke="#111" stroke-width="0.16" textLength="41.5" lengthAdjust="spacingAndGlyphs">nM, 48 hrs</text>
<path d="M65.50 612.55L67.25 614.30L65.50 616.05L63.75 614.30Z" fill="#b8283e" stroke="#0a0a0a" stroke-width="0.8"/>
<text x="70.8" y="616.3" font-size="6.0" font-family='"Liberation Sans", sans-serif' fill="#111" stroke="#111" stroke-width="0.1" textLength="29.200000000000003" lengthAdjust="spacingAndGlyphs">Anisomycin</text>
<path d="M65.50 622.65L67.20 626.95L63.80 626.95Z" fill="#3d6096" stroke="#0a0a0a" stroke-width="0.8"/>
<text x="70.8" y="627.0" font-size="6.0" font-family='"Liberation Sans", sans-serif' fill="#111" stroke="#111" stroke-width="0.1" textLength="31.200000000000003" lengthAdjust="spacingAndGlyphs">Cinobufagin</text>
<path d="M65.50 637.85L67.20 633.55L63.80 633.55Z" fill="#66a636" stroke="#0a0a0a" stroke-width="0.8"/>
<text x="70.8" y="637.5" font-size="6.0" font-family='"Liberation Sans", sans-serif' fill="#111" stroke="#111" stroke-width="0.1" textLength="30.5" lengthAdjust="spacingAndGlyphs">Narciclasine</text>
<line x1="58.7" y1="712" x2="65.3" y2="712" stroke="#2a2a2a" stroke-width="1.25"/>
<line x1="68.0" y1="708.5" x2="74.6" y2="708.5" stroke="#2a2a2a" stroke-width="1.25"/>
<line x1="77.3" y1="708.5" x2="83.89999999999999" y2="708.5" stroke="#2a2a2a" stroke-width="1.25"/>
<line x1="85.9" y1="703.6" x2="92.5" y2="703.6" stroke="#2a2a2a" stroke-width="1.25"/>
<line x1="94.9" y1="693.5" x2="101.5" y2="693.5" stroke="#2a2a2a" stroke-width="1.25"/>
<line x1="109.2" y1="712.4" x2="115.8" y2="712.4" stroke="#2a2a2a" stroke-width="1.25"/>
<line x1="118.10000000000001" y1="707.6" x2="124.7" y2="707.6" stroke="#2a2a2a" stroke-width="1.25"/>
<line x1="126.60000000000001" y1="704.9" x2="133.20000000000002" y2="704.9" stroke="#2a2a2a" stroke-width="1.25"/>
<line x1="135.29999999999998" y1="701.7" x2="141.9" y2="701.7" stroke="#2a2a2a" stroke-width="1.25"/>
<line x1="144.2" y1="692.5" x2="150.8" y2="692.5" stroke="#2a2a2a" stroke-width="1.25"/>
<line x1="158.6" y1="712.4" x2="165.20000000000002" y2="712.4" stroke="#2a2a2a" stroke-width="1.25"/>
<line x1="167.79999999999998" y1="709.4" x2="174.4" y2="709.4" stroke="#2a2a2a" stroke-width="1.25"/>
<line x1="176.39999999999998" y1="706.6" x2="183.0" y2="706.6" stroke="#2a2a2a" stroke-width="1.25"/>
<line x1="184.89999999999998" y1="702.3" x2="191.5" y2="702.3" stroke="#2a2a2a" stroke-width="1.25"/>
<line x1="193.79999999999998" y1="690.5" x2="200.4" y2="690.5" stroke="#2a2a2a" stroke-width="1.25"/>
<path d="M59.80 704.65L61.85 706.70L59.80 708.75L57.75 706.70Z" fill="#b8283e" stroke="#0a0a0a" stroke-width="0.8"/>
<path d="M64.40 706.45L66.45 708.50L64.40 710.55L62.35 708.50Z" fill="#b8283e" stroke="#0a0a0a" stroke-width="0.8"/>
<path d="M59.80 712.15L61.85 714.20L59.80 716.25L57.75 714.20Z" fill="#b8283e" stroke="#0a0a0a" stroke-width="0.8"/>
<path d="M62.70 713.95L64.75 716.00L62.70 718.05L60.65 716.00Z" fill="#b8283e" stroke="#0a0a0a" stroke-width="0.8"/>
<path d="M67.90 709.25L69.95 711.30L67.90 713.35L65.85 711.30Z" fill="#b8283e" stroke="#0a0a0a" stroke-width="0.8"/>
<path d="M61.50 710.95L63.55 713.00L61.50 715.05L59.45 713.00Z" fill="#b8283e" stroke="#0a0a0a" stroke-width="0.8"/>
<path d="M71.30 696.25L73.35 698.30L71.30 700.35L69.25 698.30Z" fill="#b8283e" stroke="#0a0a0a" stroke-width="0.8"/>
<path d="M71.30 703.15L73.35 705.20L71.30 707.25L69.25 705.20Z" fill="#b8283e" stroke="#0a0a0a" stroke-width="0.8"/>
<path d="M74.80 708.15L76.85 710.20L74.80 712.25L72.75 710.20Z" fill="#b8283e" stroke="#0a0a0a" stroke-width="0.8"/>
<path d="M72.50 710.45L74.55 712.50L72.50 714.55L70.45 712.50Z" fill="#b8283e" stroke="#0a0a0a" stroke-width="0.8"/>
<path d="M70.80 712.75L72.85 714.80L70.80 716.85L68.75 714.80Z" fill="#b8283e" stroke="#0a0a0a" stroke-width="0.8"/>
<path d="M80.60 694.65L82.65 696.70L80.60 698.75L78.55 696.70Z" fill="#b8283e" stroke="#0a0a0a" stroke-width="0.8"/>
<path d="M77.50 702.95L79.55 705.00L77.50 707.05L75.45 705.00Z" fill="#b8283e" stroke="#0a0a0a" stroke-width="0.8"/>
<path d="M82.30 705.85L84.35 707.90L82.30 709.95L80.25 707.90Z" fill="#b8283e" stroke="#0a0a0a" stroke-width="0.8"/>
<path d="M80.60 708.15L82.65 710.20L80.60 712.25L78.55 710.20Z" fill="#b8283e" stroke="#0a0a0a" stroke-width="0.8"/>
<path d="M80.60 710.45L82.65 712.50L80.60 714.55L78.55 712.50Z" fill="#b8283e" stroke="#0a0a0a" stroke-width="0.8"/>
<path d="M80.60 713.35L82.65 715.40L80.60 717.45L78.55 715.40Z" fill="#b8283e" stroke="#0a0a0a" stroke-width="0.8"/>
<path d="M86.00 696.05L88.05 698.10L86.00 700.15L83.95 698.10Z" fill="#b8283e" stroke="#0a0a0a" stroke-width="0.8"/>
<path d="M89.20 698.95L91.25 701.00L89.20 703.05L87.15 701.00Z" fill="#b8283e" stroke="#0a0a0a" stroke-width="0.8"/>
<path d="M92.70 698.35L94.75 700.40L92.70 702.45L90.65 700.40Z" fill="#b8283e" stroke="#0a0a0a" stroke-width="0.8"/>
<path d="M87.50 708.75L89.55 710.80L87.50 712.85L85.45 710.80Z" fill="#b8283e" stroke="#0a0a0a" stroke-width="0.8"/>
<path d="M92.70 708.15L94.75 710.20L92.70 712.25L90.65 710.20Z" fill="#b8283e" stroke="#0a0a0a" stroke-width="0.8"/>
<path d="M98.20 683.35L100.25 685.40L98.20 687.45L96.15 685.40Z" fill="#b8283e" stroke="#0a0a0a" stroke-width="0.8"/>
<path d="M98.20 688.55L100.25 690.60L98.20 692.65L96.15 690.60Z" fill="#b8283e" stroke="#0a0a0a" stroke-width="0.8"/>
<path d="M98.20 692.55L100.25 694.60L98.20 696.65L96.15 694.60Z" fill="#b8283e" stroke="#0a0a0a" stroke-width="0.8"/>
<path d="M98.20 694.85L100.25 696.90L98.20 698.95L96.15 696.90Z" fill="#b8283e" stroke="#0a0a0a" stroke-width="0.8"/>
<path d="M98.20 698.15L100.25 700.20L98.20 702.25L96.15 700.20Z" fill="#b8283e" stroke="#0a0a0a" stroke-width="0.8"/>
<path d="M109.30 704.45L111.25 708.75L107.35 708.75Z" fill="#3d6096" stroke="#0a0a0a" stroke-width="0.8"/>
<path d="M114.00 706.05L115.95 710.35L112.05 710.35Z" fill="#3d6096" stroke="#0a0a0a" stroke-width="0.8"/>
<path d="M109.30 712.35L111.25 716.65L107.35 716.65Z" fill="#3d6096" stroke="#0a0a0a" stroke-width="0.8"/>
<path d="M111.90 712.95L113.85 717.25L109.95 717.25Z" fill="#3d6096" stroke="#0a0a0a" stroke-width="0.8"/>
<path d="M116.60 709.15L118.55 713.45L114.65 713.45Z" fill="#3d6096" stroke="#0a0a0a" stroke-width="0.8"/>
<path d="M117.80 694.55L119.75 698.85L115.85 698.85Z" fill="#3d6096" stroke="#0a0a0a" stroke-width="0.8"/>
<path d="M122.60 696.15L124.55 700.45L120.65 700.45Z" fill="#3d6096" stroke="#0a0a0a" stroke-width="0.8"/>
<path d="M124.30 706.45L126.25 710.75L122.35 710.75Z" fill="#3d6096" stroke="#0a0a0a" stroke-width="0.8"/>
<path d="M120.80 711.75L122.75 716.05L118.85 716.05Z" fill="#3d6096" stroke="#0a0a0a" stroke-width="0.8"/>
<path d="M119.00 709.15L120.95 713.45L117.05 713.45Z" fill="#3d6096" stroke="#0a0a0a" stroke-width="0.8"/>
<path d="M129.90 687.45L131.85 691.75L127.95 691.75Z" fill="#3d6096" stroke="#0a0a0a" stroke-width="0.8"/>
<path d="M127.10 695.15L129.05 699.45L125.15 699.45Z" fill="#3d6096" stroke="#0a0a0a" stroke-width="0.8"/>
<path d="M131.10 699.95L133.05 704.25L129.15 704.25Z" fill="#3d6096" stroke="#0a0a0a" stroke-width="0.8"/>
<path d="M129.90 710.65L131.85 714.95L127.95 714.95Z" fill="#3d6096" stroke="#0a0a0a" stroke-width="0.8"/>
<path d="M139.00 683.05L140.95 687.35L137.05 687.35Z" fill="#3d6096" stroke="#0a0a0a" stroke-width="0.8"/>
<path d="M135.40 695.15L137.35 699.45L133.45 699.45Z" fill="#3d6096" stroke="#0a0a0a" stroke-width="0.8"/>
<path d="M140.40 698.15L142.35 702.45L138.45 702.45Z" fill="#3d6096" stroke="#0a0a0a" stroke-width="0.8"/>
<path d="M138.60 705.65L140.55 709.95L136.65 709.95Z" fill="#3d6096" stroke="#0a0a0a" stroke-width="0.8"/>
<path d="M138.60 707.65L140.55 711.95L136.65 711.95Z" fill="#3d6096" stroke="#0a0a0a" stroke-width="0.8"/>
<path d="M138.60 709.45L140.55 713.75L136.65 713.75Z" fill="#3d6096" stroke="#0a0a0a" stroke-width="0.8"/>
<path d="M147.50 674.35L149.45 678.65L145.55 678.65Z" fill="#3d6096" stroke="#0a0a0a" stroke-width="0.8"/>
<path d="M147.50 687.45L149.45 691.75L145.55 691.75Z" fill="#3d6096" stroke="#0a0a0a" stroke-width="0.8"/>
<path d="M151.30 692.75L153.25 697.05L149.35 697.05Z" fill="#3d6096" stroke="#0a0a0a" stroke-width="0.8"/>
<path d="M144.50 695.75L146.45 700.05L142.55 700.05Z" fill="#3d6096" stroke="#0a0a0a" stroke-width="0.8"/>
<path d="M148.70 696.35L150.65 700.65L146.75 700.65Z" fill="#3d6096" stroke="#0a0a0a" stroke-width="0.8"/>
<path d="M147.30 697.55L149.25 701.85L145.35 701.85Z" fill="#3d6096" stroke="#0a0a0a" stroke-width="0.8"/>
<path d="M158.60 708.15L160.55 703.85L156.65 703.85Z" fill="#66a636" stroke="#0a0a0a" stroke-width="0.8"/>
<path d="M164.00 709.95L165.95 705.65L162.05 705.65Z" fill="#66a636" stroke="#0a0a0a" stroke-width="0.8"/>
<path d="M158.60 715.85L160.55 711.55L156.65 711.55Z" fill="#66a636" stroke="#0a0a0a" stroke-width="0.8"/>
<path d="M161.60 717.05L163.55 712.75L159.65 712.75Z" fill="#66a636" stroke="#0a0a0a" stroke-width="0.8"/>
<path d="M165.40 713.55L167.35 709.25L163.45 709.25Z" fill="#66a636" stroke="#0a0a0a" stroke-width="0.8"/>
<path d="M167.60 700.45L169.55 696.15L165.65 696.15Z" fill="#66a636" stroke="#0a0a0a" stroke-width="0.8"/>
<path d="M172.30 703.45L174.25 699.15L170.35 699.15Z" fill="#66a636" stroke="#0a0a0a" stroke-width="0.8"/>
<path d="M174.30 713.85L176.25 709.55L172.35 709.55Z" fill="#66a636" stroke="#0a0a0a" stroke-width="0.8"/>
<path d="M170.40 716.45L172.35 712.15L168.45 712.15Z" fill="#66a636" stroke="#0a0a0a" stroke-width="0.8"/>
<path d="M167.80 715.25L169.75 710.95L165.85 710.95Z" fill="#66a636" stroke="#0a0a0a" stroke-width="0.8"/>
<path d="M178.50 700.45L180.45 696.15L176.55 696.15Z" fill="#66a636" stroke="#0a0a0a" stroke-width="0.8"/>
<path d="M176.40 708.15L178.35 703.85L174.45 703.85Z" fill="#66a636" stroke="#0a0a0a" stroke-width="0.8"/>
<path d="M181.10 709.55L183.05 705.25L179.15 705.25Z" fill="#66a636" stroke="#0a0a0a" stroke-width="0.8"/>
<path d="M183.30 711.15L185.25 706.85L181.35 706.85Z" fill="#66a636" stroke="#0a0a0a" stroke-width="0.8"/>
<path d="M178.30 716.45L180.25 712.15L176.35 712.15Z" fill="#66a636" stroke="#0a0a0a" stroke-width="0.8"/>
<path d="M183.00 695.15L184.95 690.85L181.05 690.85Z" fill="#66a636" stroke="#0a0a0a" stroke-width="0.8"/>
<path d="M187.40 697.25L189.35 692.95L185.45 692.95Z" fill="#66a636" stroke="#0a0a0a" stroke-width="0.8"/>
<path d="M191.80 696.25L193.75 691.95L189.85 691.95Z" fill="#66a636" stroke="#0a0a0a" stroke-width="0.8"/>
<path d="M188.20 703.45L190.15 699.15L186.25 699.15Z" fill="#66a636" stroke="#0a0a0a" stroke-width="0.8"/>
<path d="M188.20 706.35L190.15 702.05L186.25 702.05Z" fill="#66a636" stroke="#0a0a0a" stroke-width="0.8"/>
<path d="M188.20 714.75L190.15 710.45L186.25 710.45Z" fill="#66a636" stroke="#0a0a0a" stroke-width="0.8"/>
<path d="M200.50 680.85L202.45 676.55L198.55 676.55Z" fill="#66a636" stroke="#0a0a0a" stroke-width="0.8"/>
<path d="M195.70 686.75L197.65 682.45L193.75 682.45Z" fill="#66a636" stroke="#0a0a0a" stroke-width="0.8"/>
<path d="M193.90 690.35L195.85 686.05L191.95 686.05Z" fill="#66a636" stroke="#0a0a0a" stroke-width="0.8"/>
<path d="M198.70 694.55L200.65 690.25L196.75 690.25Z" fill="#66a636" stroke="#0a0a0a" stroke-width="0.8"/>
<path d="M200.50 696.55L202.45 692.25L198.55 692.25Z" fill="#66a636" stroke="#0a0a0a" stroke-width="0.8"/>
<path d="M196.10 701.95L198.05 697.65L194.15 697.65Z" fill="#66a636" stroke="#0a0a0a" stroke-width="0.8"/>
<text x="297.5" y="602.5" font-size="6.8" font-family='"Liberation Sans", sans-serif' fill="#111" stroke="#111" stroke-width="0.16" textLength="118.5" lengthAdjust="spacingAndGlyphs">Normal CD34+ Cord Blood Progenitors</text>
<line x1="281.6" y1="608.0" x2="281.6" y2="718.2" stroke="#111" stroke-width="1.4"/>
<line x1="277.70000000000005" y1="717.7" x2="281.6" y2="717.7" stroke="#111" stroke-width="1.1"/>
<text x="275.0" y="720.0" font-size="6.8" font-family='"Liberation Sans", sans-serif' fill="#111" stroke="#111" stroke-width="0.16" text-anchor="end" textLength="3.75" lengthAdjust="spacingAndGlyphs">0</text>
<line x1="277.70000000000005" y1="699.24" x2="281.6" y2="699.24" stroke="#111" stroke-width="1.1"/>
<text x="275.0" y="701.54" font-size="6.8" font-family='"Liberation Sans", sans-serif' fill="#111" stroke="#111" stroke-width="0.16" text-anchor="end" textLength="7.5" lengthAdjust="spacingAndGlyphs">20</text>
<line x1="277.70000000000005" y1="680.7800000000001" x2="281.6" y2="680.7800000000001" stroke="#111" stroke-width="1.1"/>
<text x="275.0" y="683.08" font-size="6.8" font-family='"Liberation Sans", sans-serif' fill="#111" stroke="#111" stroke-width="0.16" text-anchor="end" textLength="7.5" lengthAdjust="spacingAndGlyphs">40</text>
<line x1="277.70000000000005" y1="662.32" x2="281.6" y2="662.32" stroke="#111" stroke-width="1.1"/>
<text x="275.0" y="664.62" font-size="6.8" font-family='"Liberation Sans", sans-serif' fill="#111" stroke="#111" stroke-width="0.16" text-anchor="end" textLength="7.5" lengthAdjust="spacingAndGlyphs">60</text>
<line x1="277.70000000000005" y1="643.86" x2="281.6" y2="643.86" stroke="#111" stroke-width="1.1"/>
<text x="275.0" y="646.16" font-size="6.8" font-family='"Liberation Sans", sans-serif' fill="#111" stroke="#111" stroke-width="0.16" text-anchor="end" textLength="7.5" lengthAdjust="spacingAndGlyphs">80</text>
<line x1="277.70000000000005" y1="625.4000000000001" x2="281.6" y2="625.4000000000001" stroke="#111" stroke-width="1.1"/>
<text x="275.0" y="627.7" font-size="6.8" font-family='"Liberation Sans", sans-serif' fill="#111" stroke="#111" stroke-width="0.16" text-anchor="end" textLength="11.25" lengthAdjust="spacingAndGlyphs">100</text>
<line x1="281.6" y1="717.7" x2="432.2" y2="717.7" stroke="#111" stroke-width="1.5"/>
<line x1="288.5" y1="717.7" x2="288.5" y2="722.0" stroke="#111" stroke-width="1.0"/>
<line x1="297.6" y1="717.7" x2="297.6" y2="722.0" stroke="#111" stroke-width="1.0"/>
<line x1="306.5" y1="717.7" x2="306.5" y2="722.0" stroke="#111" stroke-width="1.0"/>
<line x1="315.3" y1="717.7" x2="315.3" y2="722.0" stroke="#111" stroke-width="1.0"/>
<line x1="324.2" y1="717.7" x2="324.2" y2="722.0" stroke="#111" stroke-width="1.0"/>
<line x1="338.1" y1="717.7" x2="338.1" y2="722.0" stroke="#111" stroke-width="1.0"/>
<line x1="347.0" y1="717.7" x2="347.0" y2="722.0" stroke="#111" stroke-width="1.0"/>
<line x1="355.8" y1="717.7" x2="355.8" y2="722.0" stroke="#111" stroke-width="1.0"/>
<line x1="364.9" y1="717.7" x2="364.9" y2="722.0" stroke="#111" stroke-width="1.0"/>
<line x1="373.4" y1="717.7" x2="373.4" y2="722.0" stroke="#111" stroke-width="1.0"/>
<line x1="388.5" y1="717.7" x2="388.5" y2="722.0" stroke="#111" stroke-width="1.0"/>
<line x1="397.5" y1="717.7" x2="397.5" y2="722.0" stroke="#111" stroke-width="1.0"/>
<line x1="406.5" y1="717.7" x2="406.5" y2="722.0" stroke="#111" stroke-width="1.0"/>
<line x1="415.25" y1="717.7" x2="415.25" y2="722.0" stroke="#111" stroke-width="1.0"/>
<line x1="423.75" y1="717.7" x2="423.75" y2="722.0" stroke="#111" stroke-width="1.0"/>
<text x="292.1" y="728.8" font-size="7.7" font-family='"Liberation Sans", sans-serif' fill="#111" stroke="#111" stroke-width="0.06" text-anchor="end" textLength="4.0" lengthAdjust="spacingAndGlyphs" transform="rotate(-45 292.1 728.8)">0</text>
<text x="301.6" y="728.8" font-size="7.7" font-family='"Liberation Sans", sans-serif' fill="#111" stroke="#111" stroke-width="0.06" text-anchor="end" textLength="8.2" lengthAdjust="spacingAndGlyphs" transform="rotate(-45 301.6 728.8)">20</text>
<text x="310.6" y="728.8" font-size="7.7" font-family='"Liberation Sans", sans-serif' fill="#111" stroke="#111" stroke-width="0.06" text-anchor="end" textLength="8.2" lengthAdjust="spacingAndGlyphs" transform="rotate(-45 310.6 728.8)">50</text>
<text x="320.0" y="728.8" font-size="7.7" font-family='"Liberation Sans", sans-serif' fill="#111" stroke="#111" stroke-width="0.06" text-anchor="end" textLength="12.4" lengthAdjust="spacingAndGlyphs" transform="rotate(-45 320.0 728.8)">100</text>
<text x="329.59999999999997" y="728.8" font-size="7.7" font-family='"Liberation Sans", sans-serif' fill="#111" stroke="#111" stroke-width="0.06" text-anchor="end" textLength="12.4" lengthAdjust="spacingAndGlyphs" transform="rotate(-45 329.59999999999997 728.8)">250</text>
<text x="341.70000000000005" y="728.8" font-size="7.7" font-family='"Liberation Sans", sans-serif' fill="#111" stroke="#111" stroke-width="0.06" text-anchor="end" textLength="4.0" lengthAdjust="spacingAndGlyphs" transform="rotate(-45 341.70000000000005 728.8)">0</text>
<text x="351.0" y="728.8" font-size="7.7" font-family='"Liberation Sans", sans-serif' fill="#111" stroke="#111" stroke-width="0.06" text-anchor="end" textLength="8.2" lengthAdjust="spacingAndGlyphs" transform="rotate(-45 351.0 728.8)">20</text>
<text x="359.90000000000003" y="728.8" font-size="7.7" font-family='"Liberation Sans", sans-serif' fill="#111" stroke="#111" stroke-width="0.06" text-anchor="end" textLength="8.2" lengthAdjust="spacingAndGlyphs" transform="rotate(-45 359.90000000000003 728.8)">50</text>
<text x="369.59999999999997" y="728.8" font-size="7.7" font-family='"Liberation Sans", sans-serif' fill="#111" stroke="#111" stroke-width="0.06" text-anchor="end" textLength="12.4" lengthAdjust="spacingAndGlyphs" transform="rotate(-45 369.59999999999997 728.8)">100</text>
<text x="378.79999999999995" y="728.8" font-size="7.7" font-family='"Liberation Sans", sans-serif' fill="#111" stroke="#111" stroke-width="0.06" text-anchor="end" textLength="12.4" lengthAdjust="spacingAndGlyphs" transform="rotate(-45 378.79999999999995 728.8)">250</text>
<text x="392.1" y="728.8" font-size="7.7" font-family='"Liberation Sans", sans-serif' fill="#111" stroke="#111" stroke-width="0.06" text-anchor="end" textLength="4.0" lengthAdjust="spacingAndGlyphs" transform="rotate(-45 392.1 728.8)">0</text>
<text x="401.5" y="728.8" font-size="7.7" font-family='"Liberation Sans", sans-serif' fill="#111" stroke="#111" stroke-width="0.06" text-anchor="end" textLength="8.2" lengthAdjust="spacingAndGlyphs" transform="rotate(-45 401.5 728.8)">20</text>
<text x="410.6" y="728.8" font-size="7.7" font-family='"Liberation Sans", sans-serif' fill="#111" stroke="#111" stroke-width="0.06" text-anchor="end" textLength="8.2" lengthAdjust="spacingAndGlyphs" transform="rotate(-45 410.6 728.8)">50</text>
<text x="419.95" y="728.8" font-size="7.7" font-family='"Liberation Sans", sans-serif' fill="#111" stroke="#111" stroke-width="0.06" text-anchor="end" textLength="12.4" lengthAdjust="spacingAndGlyphs" transform="rotate(-45 419.95 728.8)">100</text>
<text x="429.15" y="728.8" font-size="7.7" font-family='"Liberation Sans", sans-serif' fill="#111" stroke="#111" stroke-width="0.06" text-anchor="end" textLength="12.4" lengthAdjust="spacingAndGlyphs" transform="rotate(-45 429.15 728.8)">250</text>
<text x="256.5" y="661.0" font-size="9.6" font-family='"Liberation Sans", sans-serif' fill="#111" stroke="#111" stroke-width="0.16" text-anchor="middle" textLength="73.8" lengthAdjust="spacingAndGlyphs" transform="rotate(-90 256.5 661.0)">% non-viable cells</text>
<text x="336.0" y="748.3" font-size="9.2" font-family='"Liberation Sans", sans-serif' fill="#111" stroke="#111" stroke-width="0.16" textLength="42.5" lengthAdjust="spacingAndGlyphs">nM, 48 hrs</text>
<path d="M291.00 612.85L292.75 614.60L291.00 616.35L289.25 614.60Z" fill="#b8283e" stroke="#0a0a0a" stroke-width="0.8"/>
<text x="296.8" y="616.6" font-size="6.0" font-family='"Liberation Sans", sans-serif' fill="#111" stroke="#111" stroke-width="0.1" textLength="28.69999999999999" lengthAdjust="spacingAndGlyphs">Anisomycin</text>
<path d="M291.00 622.95L292.70 627.25L289.30 627.25Z" fill="#3d6096" stroke="#0a0a0a" stroke-width="0.8"/>
<text x="296.8" y="627.3" font-size="6.0" font-family='"Liberation Sans", sans-serif' fill="#111" stroke="#111" stroke-width="0.1" textLength="30.899999999999977" lengthAdjust="spacingAndGlyphs">Cinobufagin</text>
<path d="M291.00 638.55L292.70 634.25L289.30 634.25Z" fill="#66a636" stroke="#0a0a0a" stroke-width="0.8"/>
<text x="296.8" y="638.2" font-size="6.0" font-family='"Liberation Sans", sans-serif' fill="#111" stroke="#111" stroke-width="0.1" textLength="30.19999999999999" lengthAdjust="spacingAndGlyphs">Narciclasine</text>
<line x1="285.2" y1="710" x2="291.8" y2="710" stroke="#2a2a2a" stroke-width="1.25"/>
<line x1="294.3" y1="710" x2="300.90000000000003" y2="710" stroke="#2a2a2a" stroke-width="1.25"/>
<line x1="303.2" y1="709.5" x2="309.8" y2="709.5" stroke="#2a2a2a" stroke-width="1.25"/>
<line x1="312.0" y1="705.1" x2="318.6" y2="705.1" stroke="#2a2a2a" stroke-width="1.25"/>
<line x1="320.9" y1="700" x2="327.5" y2="700" stroke="#2a2a2a" stroke-width="1.25"/>
<line x1="334.8" y1="711" x2="341.40000000000003" y2="711" stroke="#2a2a2a" stroke-width="1.25"/>
<line x1="343.59999999999997" y1="710.3" x2="350.2" y2="710.3" stroke="#2a2a2a" stroke-width="1.25"/>
<line x1="352.5" y1="709.1" x2="359.1" y2="709.1" stroke="#2a2a2a" stroke-width="1.25"/>
<line x1="361.59999999999997" y1="709.7" x2="368.2" y2="709.7" stroke="#2a2a2a" stroke-width="1.25"/>
<line x1="370.09999999999997" y1="706.1" x2="376.7" y2="706.1" stroke="#2a2a2a" stroke-width="1.25"/>
<path d="M288.50 705.65L290.55 707.70L288.50 709.75L286.45 707.70Z" fill="#b8283e" stroke="#0a0a0a" stroke-width="0.8"/>
<path d="M288.50 710.25L290.55 712.30L288.50 714.35L286.45 712.30Z" fill="#b8283e" stroke="#0a0a0a" stroke-width="0.8"/>
<path d="M297.60 705.95L299.65 708.00L297.60 710.05L295.55 708.00Z" fill="#b8283e" stroke="#0a0a0a" stroke-width="0.8"/>
<path d="M297.60 710.25L299.65 712.30L297.60 714.35L295.55 712.30Z" fill="#b8283e" stroke="#0a0a0a" stroke-width="0.8"/>
<path d="M306.50 704.45L308.55 706.50L306.50 708.55L304.45 706.50Z" fill="#b8283e" stroke="#0a0a0a" stroke-width="0.8"/>
<path d="M306.50 709.45L308.55 711.50L306.50 713.55L304.45 711.50Z" fill="#b8283e" stroke="#0a0a0a" stroke-width="0.8"/>
<path d="M315.00 695.65L317.05 697.70L315.00 699.75L312.95 697.70Z" fill="#b8283e" stroke="#0a0a0a" stroke-width="0.8"/>
<path d="M313.50 706.85L315.55 708.90L313.50 710.95L311.45 708.90Z" fill="#b8283e" stroke="#0a0a0a" stroke-width="0.8"/>
<path d="M318.10 705.95L320.15 708.00L318.10 710.05L316.05 708.00Z" fill="#b8283e" stroke="#0a0a0a" stroke-width="0.8"/>
<path d="M323.90 684.15L325.95 686.20L323.90 688.25L321.85 686.20Z" fill="#b8283e" stroke="#0a0a0a" stroke-width="0.8"/>
<path d="M322.40 704.85L324.45 706.90L322.40 708.95L320.35 706.90Z" fill="#b8283e" stroke="#0a0a0a" stroke-width="0.8"/>
<path d="M327.30 704.85L329.35 706.90L327.30 708.95L325.25 706.90Z" fill="#b8283e" stroke="#0a0a0a" stroke-width="0.8"/>
<path d="M338.00 709.45L339.95 713.75L336.05 713.75Z" fill="#3d6096" stroke="#0a0a0a" stroke-width="0.8"/>
<path d="M338.60 708.45L340.55 712.75L336.65 712.75Z" fill="#3d6096" stroke="#0a0a0a" stroke-width="0.8"/>
<path d="M337.50 709.95L339.45 714.25L335.55 714.25Z" fill="#3d6096" stroke="#0a0a0a" stroke-width="0.8"/>
<path d="M346.90 704.65L348.85 708.95L344.95 708.95Z" fill="#3d6096" stroke="#0a0a0a" stroke-width="0.8"/>
<path d="M346.90 710.15L348.85 714.45L344.95 714.45Z" fill="#3d6096" stroke="#0a0a0a" stroke-width="0.8"/>
<path d="M355.80 702.05L357.75 706.35L353.85 706.35Z" fill="#3d6096" stroke="#0a0a0a" stroke-width="0.8"/>
<path d="M354.30 710.95L356.25 715.25L352.35 715.25Z" fill="#3d6096" stroke="#0a0a0a" stroke-width="0.8"/>
<path d="M358.60 710.15L360.55 714.45L356.65 714.45Z" fill="#3d6096" stroke="#0a0a0a" stroke-width="0.8"/>
<path d="M364.30 702.45L366.25 706.75L362.35 706.75Z" fill="#3d6096" stroke="#0a0a0a" stroke-width="0.8"/>
<path d="M362.80 710.95L364.75 715.25L360.85 715.25Z" fill="#3d6096" stroke="#0a0a0a" stroke-width="0.8"/>
<path d="M367.70 710.95L369.65 715.25L365.75 715.25Z" fill="#3d6096" stroke="#0a0a0a" stroke-width="0.8"/>
<path d="M373.40 691.05L375.35 695.35L371.45 695.35Z" fill="#3d6096" stroke="#0a0a0a" stroke-width="0.8"/>
<path d="M371.90 710.95L373.85 715.25L369.95 715.25Z" fill="#3d6096" stroke="#0a0a0a" stroke-width="0.8"/>
<path d="M377.00 710.55L378.95 714.85L375.05 714.85Z" fill="#3d6096" stroke="#0a0a0a" stroke-width="0.8"/>
<path d="M386.25 712.10L388.20 707.80L384.30 707.80Z" fill="#66a636" stroke="#0a0a0a" stroke-width="0.8"/>
<path d="M391.00 709.60L392.95 705.30L389.05 705.30Z" fill="#66a636" stroke="#0a0a0a" stroke-width="0.8"/>
<path d="M395.25 714.85L397.20 710.55L393.30 710.55Z" fill="#66a636" stroke="#0a0a0a" stroke-width="0.8"/>
<path d="M399.75 711.10L401.70 706.80L397.80 706.80Z" fill="#66a636" stroke="#0a0a0a" stroke-width="0.8"/>
<path d="M404.40 712.60L406.35 708.30L402.45 708.30Z" fill="#66a636" stroke="#0a0a0a" stroke-width="0.8"/>
<path d="M408.75 708.85L410.70 704.55L406.80 704.55Z" fill="#66a636" stroke="#0a0a0a" stroke-width="0.8"/>
<path d="M413.10 709.85L415.05 705.55L411.15 705.55Z" fill="#66a636" stroke="#0a0a0a" stroke-width="0.8"/>
<path d="M417.50 709.85L419.45 705.55L415.55 705.55Z" fill="#66a636" stroke="#0a0a0a" stroke-width="0.8"/>
<path d="M421.50 707.10L423.45 702.80L419.55 702.80Z" fill="#66a636" stroke="#0a0a0a" stroke-width="0.8"/>
<path d="M426.25 705.45L428.20 701.15L424.30 701.15Z" fill="#66a636" stroke="#0a0a0a" stroke-width="0.8"/>
<rect x="0" y="0" width="1.1" height="758" fill="#000"/>
<rect x="0" y="0" width="520" height="1.1" fill="#000"/>
<rect x="0" y="756.6" width="520" height="1.4" fill="#000"/>
<rect x="518.2" y="0" width="1.8" height="758" fill="#4d4d4d"/>
</svg>
</body></html>
